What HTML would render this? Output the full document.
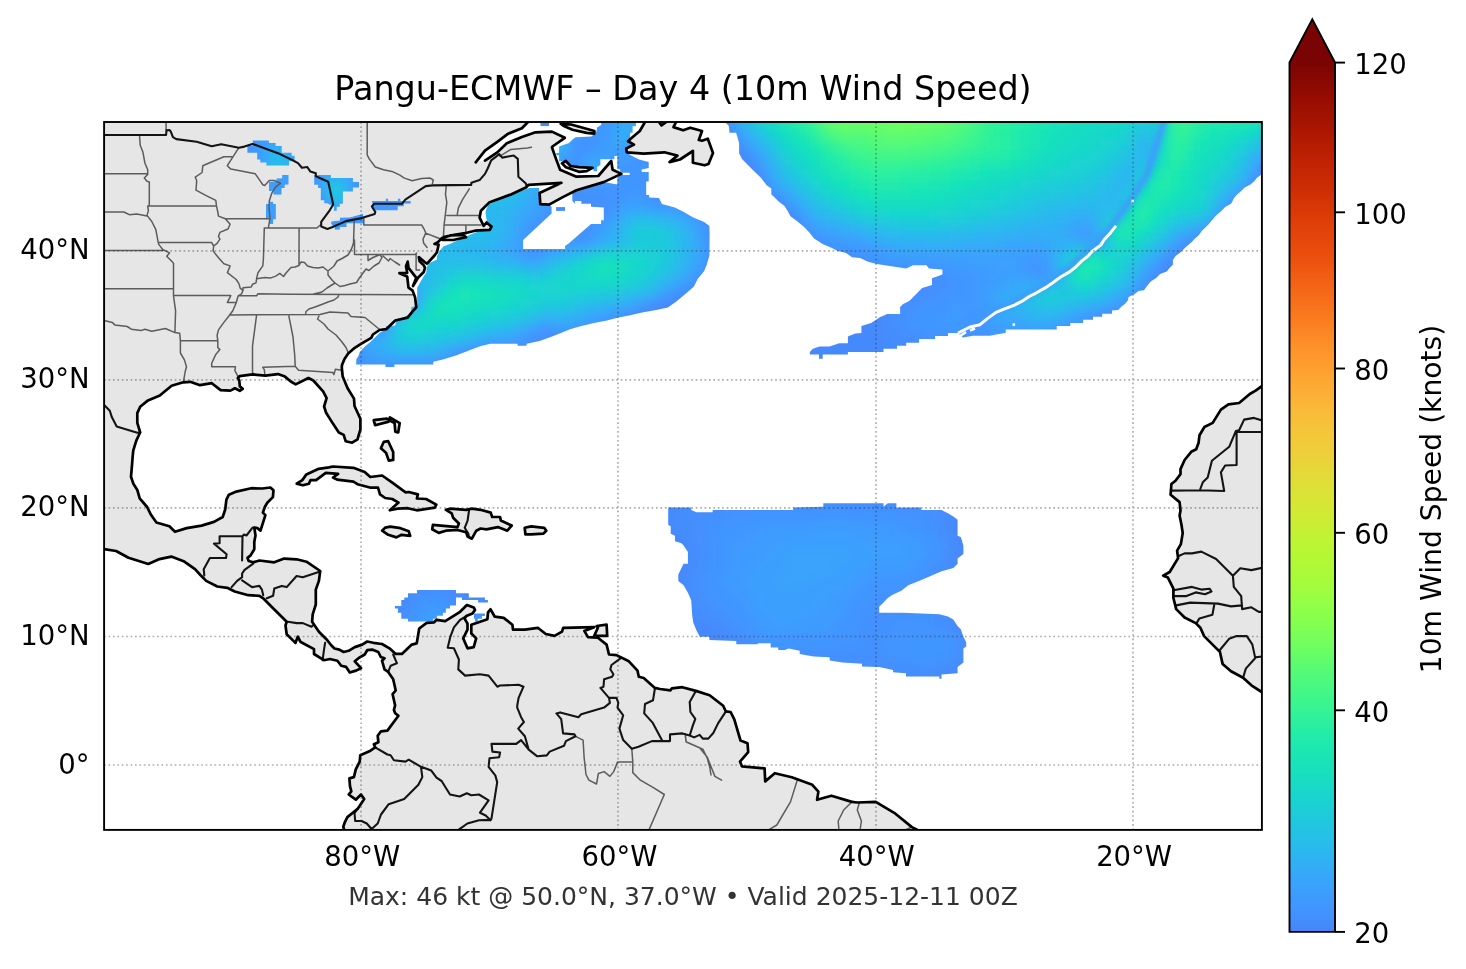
<!DOCTYPE html>
<html><head><meta charset="utf-8"><title>Pangu-ECMWF Day 4 10m Wind Speed</title>
<style>
html,body{margin:0;padding:0;background:#fff;}
svg{display:block;}
text{font-family:"DejaVu Sans","Liberation Sans",sans-serif;}
svg{will-change:transform;}
</style></head><body>
<svg width="1466" height="969" viewBox="0 0 1466 969">
<defs><linearGradient id="cbg" x1="0" y1="1" x2="0" y2="0"><stop offset="0.0000" stop-color="#4685fa"/><stop offset="0.0250" stop-color="#4294ff"/><stop offset="0.0500" stop-color="#3ba0fd"/><stop offset="0.0750" stop-color="#33adf7"/><stop offset="0.1000" stop-color="#28bceb"/><stop offset="0.1250" stop-color="#20c7df"/><stop offset="0.1500" stop-color="#1ad2d2"/><stop offset="0.1750" stop-color="#18ddc2"/><stop offset="0.2000" stop-color="#1ae4b6"/><stop offset="0.2250" stop-color="#22ebaa"/><stop offset="0.2500" stop-color="#32f298"/><stop offset="0.2750" stop-color="#43f787"/><stop offset="0.3000" stop-color="#55fa76"/><stop offset="0.3250" stop-color="#6dfe62"/><stop offset="0.3500" stop-color="#80ff53"/><stop offset="0.3750" stop-color="#92ff47"/><stop offset="0.4000" stop-color="#a4fc3c"/><stop offset="0.4250" stop-color="#b1f936"/><stop offset="0.4500" stop-color="#bef434"/><stop offset="0.4750" stop-color="#cdec34"/><stop offset="0.5000" stop-color="#d9e436"/><stop offset="0.5250" stop-color="#e3db38"/><stop offset="0.5500" stop-color="#eecf3a"/><stop offset="0.5750" stop-color="#f5c53a"/><stop offset="0.6000" stop-color="#faba39"/><stop offset="0.6250" stop-color="#fdac34"/><stop offset="0.6500" stop-color="#fe9e2f"/><stop offset="0.6750" stop-color="#fe9029"/><stop offset="0.7000" stop-color="#fb7e21"/><stop offset="0.7250" stop-color="#f76f1a"/><stop offset="0.7500" stop-color="#f26014"/><stop offset="0.7750" stop-color="#eb500e"/><stop offset="0.8000" stop-color="#e4450a"/><stop offset="0.8250" stop-color="#dc3b07"/><stop offset="0.8500" stop-color="#d02f05"/><stop offset="0.8750" stop-color="#c52603"/><stop offset="0.9000" stop-color="#b91e02"/><stop offset="0.9250" stop-color="#a91601"/><stop offset="0.9500" stop-color="#9b0f01"/><stop offset="0.9750" stop-color="#8b0902"/><stop offset="1.0000" stop-color="#7a0403"/></linearGradient><filter id="b8" x="-50%" y="-50%" width="200%" height="200%"><feGaussianBlur stdDeviation="8"/></filter><filter id="b15" x="-50%" y="-50%" width="200%" height="200%"><feGaussianBlur stdDeviation="15"/></filter><filter id="b25" x="-50%" y="-50%" width="200%" height="200%"><feGaussianBlur stdDeviation="25"/></filter><filter id="b40" x="-50%" y="-50%" width="200%" height="200%"><feGaussianBlur stdDeviation="40"/></filter><filter id="b3" x="-20%" y="-20%" width="140%" height="140%"><feGaussianBlur stdDeviation="2.5"/></filter><clipPath id="wN"><path d="M726.0 122.9 L1261.0 122.9 L1261.0 174.8 L1256.7 178.1 L1254.1 181.5 L1250.0 184.8 L1244.7 187.5 L1240.6 191.5 L1236.6 194.9 L1233.9 198.2 L1231.3 203.6 L1225.2 207.0 L1220.5 211.7 L1215.8 215.7 L1211.8 220.4 L1208.4 224.4 L1205.1 227.8 L1201.7 231.1 L1199.0 235.1 L1195.0 238.5 L1191.7 241.9 L1185.6 247.2 L1180.3 252.6 L1175.6 256.0 L1172.9 260.0 L1172.9 264.7 L1169.5 268.0 L1166.8 271.4 L1160.1 274.1 L1156.1 278.1 L1150.7 281.4 L1147.0 286.0 L1143.9 290.3 L1138.4 291.0 L1134.7 294.0 L1128.6 297.1 L1128.0 300.2 L1124.9 303.9 L1121.8 306.3 L1118.1 310.0 L1112.0 310.6 L1112.0 313.7 L1102.2 313.7 L1102.2 316.7 L1093.0 316.7 L1093.0 319.8 L1083.1 319.8 L1083.1 322.9 L1070.3 322.9 L1070.3 326.0 L1056.7 326.0 L1056.7 329.6 L1005.8 329.6 L1005.8 332.7 L989.8 335.8 L973.0 335.8 L963.0 337.5 L957.8 332.9 L948.0 332.9 L948.0 336.0 L935.1 336.0 L935.1 339.0 L919.1 339.0 L919.1 342.7 L906.2 342.7 L906.2 345.8 L897.0 345.8 L897.0 348.8 L883.5 348.8 L883.5 351.9 L847.9 351.9 L847.9 354.4 L822.7 354.4 L822.7 358.7 L819.0 358.7 L819.0 354.4 L809.8 354.4 L809.8 351.9 L812.9 348.8 L819.6 346.4 L829.5 346.4 L839.3 343.3 L847.9 343.3 L847.9 336.6 L855.3 333.5 L861.4 332.9 L861.4 326.1 L871.2 323.1 L879.8 317.3 L887.2 313.9 L900.1 313.9 L900.1 307.1 L903.1 304.0 L909.3 301.0 L913.0 297.3 L919.1 291.1 L922.2 288.1 L932.0 285.0 L932.0 278.2 L942.4 274.6 L942.4 269.6 L928.9 268.4 L926.5 265.3 L913.0 265.3 L906.2 268.4 L876.7 264.1 L868.1 261.7 L860.0 258.0 L852.0 257.3 L846.1 252.9 L837.3 250.7 L831.4 247.8 L822.6 244.1 L813.8 238.2 L809.4 232.4 L803.6 226.5 L796.2 220.6 L790.4 216.2 L787.4 210.4 L784.5 206.0 L778.7 201.6 L771.3 194.2 L771.3 188.4 L766.9 185.4 L761.1 178.1 L755.2 172.3 L748.6 165.7 L742.0 159.1 L739.1 153.2 L739.1 142.9 L736.1 132.7 L729.5 132.7 L728.8 126.1 L725.9 123.1Z" clip-rule="evenodd"/></clipPath><filter id="fwN" x="-5%" y="-5%" width="110%" height="110%"><feGaussianBlur stdDeviation="5"/></filter><clipPath id="wE"><path d="M601.2 122.9 L635.9 122.9 L635.9 126.2 L632.6 126.2 L632.6 132.8 L630.1 132.8 L630.1 139.8 L627.6 141.5 L632.6 144.0 L626.0 148.9 L626.8 153.0 L630.1 154.7 L632.6 156.3 L639.2 159.6 L648.7 162.1 L648.7 167.9 L641.7 169.5 L641.7 172.0 L648.7 172.0 L648.7 181.5 L646.2 181.5 L646.2 195.1 L649.1 195.1 L649.1 197.6 L659.0 198.0 L661.9 204.0 L674.8 207.4 L683.7 212.1 L693.3 217.6 L704.2 222.0 L709.4 226.0 L709.6 234.0 L709.4 255.6 L706.8 264.6 L704.2 271.1 L697.7 278.9 L693.8 286.7 L684.7 294.4 L677.0 300.9 L667.9 307.4 L656.2 310.0 L642.0 312.6 L630.3 315.2 L617.3 317.8 L607.0 320.4 L594.0 322.9 L578.5 326.8 L569.4 329.4 L560.3 333.3 L550.0 337.2 L539.6 341.1 L526.6 343.7 L526.6 345.8 L517.6 345.8 L517.6 343.7 L490.3 343.7 L480.0 346.3 L469.6 350.2 L456.6 355.3 L443.7 359.2 L433.3 361.8 L433.3 364.4 L394.4 364.4 L394.4 367.0 L385.4 367.0 L385.4 364.4 L356.1 364.4 L356.4 359.3 L358.9 355.2 L359.7 351.9 L363.0 348.6 L366.3 345.3 L369.6 342.8 L372.9 339.5 L376.2 336.2 L379.5 332.9 L385.3 329.6 L386.2 326.3 L395.2 325.5 L396.1 321.3 L408.4 314.7 L411.3 312.2 L411.3 307.3 L417.1 305.6 L417.2 287.7 L423.8 276.1 L426.2 272.8 L427.1 266.2 L429.5 262.9 L437.0 259.6 L437.0 256.3 L439.5 251.3 L443.3 246.5 L450.4 243.8 L465.5 236.8 L476.1 232.3 L487.6 229.7 L491.0 227.0 L487.0 222.0 L485.5 213.0 L486.0 210.0 L488.5 204.5 L497.5 200.5 L513.7 193.5 L529.3 188.0 L539.0 188.0 L539.6 193.0 L540.3 204.2 L549.1 204.6 L551.6 206.8 L551.6 213.5 L523.1 240.1 L523.1 249.1 L565.1 249.1 L565.1 246.1 L569.3 243.1 L591.0 224.0 L601.1 224.0 L601.1 220.3 L603.8 220.3 L603.8 207.5 L591.0 206.8 L591.0 203.8 L581.3 203.8 L581.3 201.1 L574.9 201.1 L574.9 203.8 L572.3 200.8 L572.3 192.4 L576.4 190.3 L594.6 186.0 L603.7 182.1 L617.3 184.4 L617.3 177.8 L620.2 174.9 L629.7 174.9 L629.7 172.8 L620.2 172.8 L620.2 169.5 L617.3 169.1 L617.3 155.9 L614.4 155.9 L614.4 159.2 L600.4 159.2 L600.4 165.0 L597.1 167.1 L597.1 171.2 L593.8 171.2 L592.9 167.9 L587.2 167.1 L574.8 166.2 L569.0 165.4 L563.2 161.3 L559.1 161.3 L559.1 155.5 L556.2 154.7 L556.2 153.0 L559.1 153.0 L559.1 146.4 L569.0 143.1 L572.3 139.8 L575.6 137.3 L591.3 136.5 L596.2 132.4 L597.1 127.4 L601.2 125.0Z" clip-rule="evenodd"/></clipPath><filter id="fwE" x="-5%" y="-5%" width="110%" height="110%"><feGaussianBlur stdDeviation="5"/></filter><clipPath id="wC"><path d="M668.2 507.5 L691.2 507.5 L691.2 510.0 L696.5 512.2 L712.6 512.2 L712.6 510.0 L793.2 510.0 L793.2 507.5 L823.3 506.8 L823.3 503.2 L883.5 503.2 L883.5 506.8 L887.8 503.2 L896.4 503.2 L896.4 507.5 L921.1 507.5 L921.1 510.0 L941.5 510.0 L947.9 513.3 L953.3 516.5 L957.6 519.7 L957.6 535.8 L960.8 536.9 L963.4 545.5 L963.4 554.1 L957.6 558.4 L957.6 563.8 L953.3 568.1 L941.5 571.3 L931.8 575.6 L918.9 580.9 L908.2 585.2 L901.7 590.6 L892.1 594.9 L887.8 598.1 L883.5 602.4 L879.2 606.7 L879.2 612.7 L902.8 612.7 L939.3 614.3 L947.9 616.4 L953.3 619.6 L957.6 626.1 L960.8 629.3 L963.4 636.8 L966.2 642.2 L966.2 646.5 L963.4 648.6 L963.4 662.6 L957.6 666.9 L957.6 673.3 L941.5 674.4 L941.5 678.7 L939.3 678.7 L939.3 676.6 L906.0 676.6 L906.0 673.3 L893.1 672.3 L893.1 670.1 L879.2 666.9 L862.0 666.5 L862.0 663.7 L842.6 662.6 L829.7 660.5 L829.7 657.2 L813.6 656.6 L799.7 654.0 L799.7 650.8 L788.9 648.6 L784.6 650.1 L778.2 650.1 L778.2 647.6 L770.7 647.6 L770.7 643.3 L757.8 643.3 L757.8 644.3 L736.3 644.3 L736.3 641.1 L709.4 640.0 L709.4 636.8 L699.8 636.8 L696.5 630.4 L693.3 622.8 L692.2 615.3 L691.2 600.3 L687.9 592.8 L683.6 585.2 L678.3 580.9 L678.3 574.5 L681.5 568.1 L683.6 563.8 L687.9 563.8 L687.9 551.9 L683.6 545.5 L681.5 543.3 L675.0 541.2 L675.0 535.8 L670.7 533.7 L670.7 526.2 L668.2 525.1Z" clip-rule="evenodd"/></clipPath><filter id="fwC" x="-5%" y="-5%" width="110%" height="110%"><feGaussianBlur stdDeviation="6"/></filter><clipPath id="wCa"><path d="M417.0 589.9 L456.0 589.9 L456.0 593.3 L468.8 593.3 L468.8 597.4 L484.9 597.4 L484.9 600.0 L487.9 600.0 L487.9 602.6 L478.1 602.6 L478.1 600.0 L462.0 600.0 L462.0 597.4 L456.0 597.4 L456.0 605.6 L450.0 605.6 L450.0 608.6 L445.9 608.6 L445.9 612.8 L442.9 612.8 L442.9 615.8 L436.9 615.8 L436.9 618.8 L433.1 618.8 L433.1 621.4 L408.0 621.4 L408.0 618.8 L401.3 618.8 L401.3 612.8 L397.9 612.8 L397.9 608.6 L394.9 608.6 L394.9 606.0 L401.3 606.0 L401.3 600.0 L404.3 600.0 L404.3 597.4 L408.0 597.4 L408.0 593.3 L417.0 593.3ZM474.0 613.5 L484.9 613.5 L484.9 616.1 L481.9 616.1 L481.9 618.8 L477.8 618.8 L477.8 621.4 L475.1 621.4 L475.1 618.8 L474.0 618.8Z" clip-rule="evenodd"/></clipPath><filter id="fwCa" x="-5%" y="-5%" width="110%" height="110%"><feGaussianBlur stdDeviation="3"/></filter><clipPath id="wSu"><path d="M252.9 140.4 L268.9 140.4 L268.9 142.9 L275.6 142.9 L275.6 146.0 L281.7 146.0 L281.7 152.7 L291.6 152.7 L291.6 155.8 L294.6 155.8 L294.6 161.3 L289.1 161.3 L289.1 165.6 L266.4 165.6 L266.4 162.5 L260.3 162.5 L260.3 159.5 L257.2 159.5 L257.2 152.7 L247.4 152.7 L247.4 146.0 L252.9 146.0Z" clip-rule="evenodd"/></clipPath><filter id="fwSu" x="-5%" y="-5%" width="110%" height="110%"><feGaussianBlur stdDeviation="2.5"/></filter><clipPath id="wHu"><path d="M314.2 175.1 L330.9 175.1 L330.9 177.9 L352.9 177.9 L352.9 182.0 L359.0 182.0 L359.0 187.5 L352.9 187.5 L352.9 191.5 L342.9 191.5 L342.9 203.7 L339.8 203.7 L339.8 206.8 L336.7 206.8 L336.7 210.7 L334.0 210.7 L334.0 206.8 L327.4 203.3 L324.3 203.3 L324.3 200.2 L320.8 200.2 L320.8 187.9 L318.1 187.9 L318.1 184.8 L314.2 184.8Z" clip-rule="evenodd"/></clipPath><filter id="fwHu" x="-5%" y="-5%" width="110%" height="110%"><feGaussianBlur stdDeviation="2.5"/></filter><clipPath id="wEs"><path d="M540.3 122.9 L549.1 122.9 L549.1 126.2 L540.3 126.2Z" clip-rule="evenodd"/></clipPath><clipPath id="wDa"><path d="M556.1 207.1 L565.1 207.1 L565.1 210.9 L556.1 210.9Z" clip-rule="evenodd"/></clipPath><clipPath id="wm0"><path d="M282.1 175.1 L288.7 175.1 L288.7 184.8 L284.8 184.8 L284.8 187.9 L281.7 187.9 L281.7 194.8 L273.2 194.8 L273.2 191.0 L269.0 191.0 L269.0 181.7 L276.3 181.7 L276.3 178.2 L282.1 178.2Z" clip-rule="evenodd"/></clipPath><clipPath id="wm1"><path d="M265.9 204.1 L269.7 204.1 L269.7 201.4 L273.2 201.4 L273.2 204.1 L275.9 204.1 L275.9 219.6 L273.2 219.6 L273.2 223.9 L269.7 223.9 L269.7 219.6 L265.9 219.6Z" clip-rule="evenodd"/></clipPath><clipPath id="wo0"><path d="M339.9 217.4 L350.0 217.3 L361.7 214.0 L363.1 214.0 L363.1 223.6 L346.7 223.6 L346.7 227.0 L339.9 227.0 L339.9 229.7 L334.5 229.7 L334.5 227.0 L331.1 224.2 L331.1 221.5 L339.9 220.2Z" clip-rule="evenodd"/></clipPath><clipPath id="wo1"><path d="M371.9 201.1 L385.6 201.1 L385.6 198.4 L388.3 198.4 L388.3 201.1 L397.8 201.1 L397.8 198.4 L400.5 198.4 L400.5 201.1 L410.8 201.1 L410.8 203.8 L403.9 203.8 L403.9 206.5 L397.8 206.5 L397.8 210.6 L372.6 210.6 L372.6 205.2Z" clip-rule="evenodd"/></clipPath>
<clipPath id="mapclip"><rect x="104.1" y="122.0" width="1157.80" height="707.90"/></clipPath>
</defs>
<rect width="1466" height="969" fill="#fff"/>
<g clip-path="url(#mapclip)">
<path d="M528.0 122.0 L521.9 128.2 L508.2 133.7 L497.3 141.9 L485.0 150.7 L475.7 162.3 L485.0 160.6 L497.3 152.4 L506.8 143.2 L521.9 137.1 L535.5 132.3 L551.9 131.6 L564.8 137.8 L553.2 146.0 L551.9 147.3 L556.0 158.9 L560.1 169.8 L576.4 176.7 L598.3 176.0 L611.2 161.0 L612.6 169.8 L621.4 173.9 L603.7 182.1 L576.4 190.3 L562.8 197.1 L549.1 204.6 L540.3 204.2 L539.6 193.0 L561.4 182.8 L528.7 184.8 L525.9 187.6 L510.9 194.4 L489.1 202.6 L480.9 210.8 L479.6 217.6 L483.7 225.8 L486.5 222.5 L491.5 226.6 L489.8 229.9 L475.0 230.7 L466.7 232.8 L454.3 234.8 L444.4 236.9 L441.5 238.5 L439.5 240.6 L437.8 242.3 L434.5 243.9 L438.6 244.7 L437.0 252.2 L434.5 255.5 L427.1 263.7 L424.6 262.1 L418.8 257.1 L419.6 261.2 L423.8 265.4 L425.0 267.8 L423.8 272.0 L418.0 277.8 L413.0 286.0 L416.3 277.8 L408.5 267.8 L407.7 261.7 L406.0 266.2 L407.2 272.8 L399.4 273.2 L407.2 276.5 L408.5 287.7 L412.6 290.6 L415.1 297.4 L416.3 307.3 L412.6 311.4 L407.6 317.6 L395.2 320.5 L386.2 329.2 L379.5 330.0 L372.9 334.5 L371.3 337.8 L361.4 343.6 L354.8 347.8 L348.2 353.5 L344.5 359.0 L342.0 365.0 L341.8 367.7 L342.7 376.6 L347.6 388.3 L354.0 398.6 L354.5 406.0 L360.4 418.7 L360.4 429.5 L357.5 439.3 L352.1 442.7 L345.7 441.3 L343.7 434.9 L338.8 432.5 L332.9 423.6 L326.1 412.8 L324.1 406.5 L326.6 398.1 L323.1 391.3 L313.3 380.5 L308.4 378.0 L295.7 384.4 L290.8 381.5 L284.9 376.6 L278.0 374.1 L265.3 375.6 L252.5 374.4 L239.8 376.1 L237.8 378.0 L239.3 380.5 L239.8 386.4 L242.7 388.8 L239.8 390.8 L234.9 388.3 L230.4 390.6 L220.6 390.1 L211.8 383.2 L200.0 385.2 L190.2 381.8 L183.3 382.3 L171.6 385.7 L159.8 395.5 L148.0 400.4 L140.2 406.8 L137.3 413.1 L137.3 422.9 L140.2 432.3 L136.3 440.6 L133.3 450.4 L132.8 455.0 L131.6 469.9 L131.0 476.7 L133.5 484.1 L137.2 489.7 L139.7 498.4 L147.1 507.0 L150.8 514.5 L156.4 522.5 L169.4 526.3 L175.0 531.8 L186.7 528.1 L201.6 525.6 L214.0 521.9 L222.7 517.0 L225.2 509.5 L226.4 499.6 L228.9 494.7 L236.3 491.6 L251.2 488.2 L262.3 488.5 L270.4 487.5 L273.5 490.3 L272.9 497.1 L267.3 502.7 L264.8 507.0 L262.9 512.6 L265.4 515.1 L260.5 530.6 L257.4 528.1 L254.3 527.5 L255.5 535.5 L254.3 541.7 L254.3 549.2 L250.6 555.4 L247.5 557.9 L248.7 561.0 L253.2 562.3 L259.4 560.5 L274.3 562.3 L284.2 558.6 L296.6 559.3 L306.5 561.7 L320.2 571.0 L318.9 580.9 L315.8 589.6 L315.8 604.5 L312.7 614.4 L312.1 621.8 L318.9 631.7 L326.4 639.2 L331.0 645.0 L334.5 648.5 L339.3 649.6 L343.6 652.0 L348.6 650.8 L354.8 647.1 L362.2 644.6 L367.2 641.5 L373.4 642.8 L382.0 644.0 L389.5 648.3 L395.7 653.9 L401.9 653.9 L411.8 644.6 L416.7 643.4 L419.2 628.5 L426.7 622.9 L434.1 622.3 L436.6 619.8 L445.2 621.1 L460.1 611.8 L466.9 605.0 L473.7 607.4 L475.0 609.9 L472.5 613.6 L466.3 616.1 L464.5 618.6 L467.5 623.5 L467.5 629.7 L463.2 638.4 L467.5 648.3 L473.7 647.1 L476.2 638.4 L471.3 633.5 L471.3 624.8 L487.4 619.2 L488.0 612.4 L490.5 609.3 L494.8 616.7 L503.7 617.9 L512.4 624.7 L513.0 629.7 L524.8 629.7 L537.8 627.8 L545.8 634.0 L554.5 635.9 L562.0 631.6 L563.2 627.8 L594.2 627.2 L584.3 630.9 L588.0 637.1 L597.9 637.7 L606.6 644.6 L609.0 654.5 L616.5 655.1 L628.9 661.3 L637.5 670.6 L638.8 676.8 L643.7 678.0 L654.9 687.9 L660.0 689.0 L670.5 690.3 L671.8 688.4 L682.3 687.2 L695.9 690.9 L709.6 695.2 L723.2 705.8 L725.7 711.3 L730.6 712.0 L734.3 719.4 L740.5 740.5 L747.5 743.2 L748.2 752.1 L740.0 761.6 L742.0 766.4 L764.6 768.4 L765.2 781.4 L774.8 773.2 L791.8 777.3 L812.3 784.8 L818.4 791.6 L817.1 799.8 L831.4 795.7 L851.9 801.9 L857.3 802.5 L875.7 801.9 L894.2 812.8 L911.9 827.1 L917.4 829.9 L917.4 835.0 L344.2 835.0 L344.2 829.9 L343.3 826.8 L344.8 822.3 L347.4 817.1 L357.7 808.7 L364.2 799.0 L361.0 794.5 L355.8 799.7 L348.7 794.5 L351.3 791.3 L350.0 786.1 L349.4 778.4 L353.9 777.1 L355.8 769.4 L359.7 761.6 L360.3 755.2 L369.4 751.3 L375.2 747.4 L373.9 744.2 L378.4 742.3 L377.7 735.8 L381.0 731.3 L387.4 730.6 L398.4 715.8 L395.2 713.2 L393.9 710.0 L395.1 705.3 L392.6 694.2 L395.7 690.5 L393.2 679.3 L388.2 671.9 L384.5 669.4 L382.0 660.7 L384.5 658.2 L380.8 657.0 L378.3 652.0 L372.1 649.6 L367.2 650.2 L364.7 654.5 L358.5 658.2 L354.8 661.3 L361.0 668.2 L356.0 670.6 L349.8 672.5 L346.1 666.9 L341.2 665.7 L337.4 660.7 L330.0 659.0 L323.9 660.2 L314.0 654.0 L314.0 649.1 L300.3 641.7 L297.8 636.7 L295.4 642.9 L286.7 634.2 L285.5 625.5 L286.7 621.8 L271.8 607.0 L263.2 598.3 L259.4 595.8 L248.3 595.2 L234.7 591.5 L227.2 587.8 L217.3 586.5 L206.2 580.9 L200.4 575.0 L195.0 569.2 L184.3 561.6 L171.3 556.6 L159.5 559.1 L148.3 564.0 L128.5 557.8 L116.1 551.0 L104.1 549.2 L98.0 549.2 L98.0 116.0 L528.0 116.0Z" fill="#e6e6e6"/>
<path d="M645.0 122.0 L639.8 131.0 L630.7 138.7 L628.1 141.3 L634.0 144.6 L626.2 148.5 L626.8 152.3 L643.7 153.6 L664.4 152.3 L677.4 155.6 L669.6 162.1 L680.0 159.5 L692.9 151.0 L692.9 162.7 L704.6 165.3 L708.5 164.0 L713.0 153.0 L707.8 138.7 L702.0 140.7 L698.8 140.0 L702.0 131.0 L690.3 127.7 L683.2 130.3 L673.5 127.1 L676.1 122.0 L667.0 122.0 L661.5 125.3 L658.5 122.0 L645.0 116.0Z" fill="#e6e6e6"/>
<path d="M560.7 123.8 L571.1 124.5 L594.4 131.0 L594.4 133.6 L586.7 132.9 L572.4 129.7 L563.3 125.8Z" fill="#e6e6e6"/>
<path d="M562.0 163.4 L565.9 160.8 L570.5 166.0 L578.9 167.2 L592.5 167.9 L586.7 171.1 L578.9 171.8 L565.9 167.2Z" fill="#e6e6e6"/>
<path d="M441.5 238.6 L450.2 235.4 L463.4 235.0 L466.0 237.3 L454.3 239.8 L442.8 240.0Z" fill="#e6e6e6"/>
<path d="M296.7 483.7 L302.3 480.1 L306.4 474.4 L318.7 468.8 L328.9 467.3 L333.0 466.5 L353.4 467.8 L364.7 471.9 L370.3 477.0 L382.1 475.5 L392.3 482.6 L405.6 492.3 L408.7 492.0 L417.9 494.4 L416.9 498.5 L426.1 499.0 L436.3 504.6 L434.8 507.7 L416.9 510.3 L407.7 508.2 L397.4 508.7 L389.8 510.3 L398.5 502.6 L392.3 499.0 L385.2 498.0 L380.0 494.4 L378.0 487.7 L370.8 487.7 L357.5 484.2 L353.4 481.6 L337.1 479.6 L333.0 477.5 L338.1 473.9 L325.8 472.9 L316.1 480.1 L310.5 480.1 L308.9 483.7 L302.8 485.2Z" fill="#e6e6e6"/>
<path d="M382.1 530.7 L385.2 527.6 L390.3 526.6 L400.5 528.2 L408.7 531.2 L410.2 535.8 L401.5 534.8 L396.4 537.4 L388.2 534.8Z" fill="#e6e6e6"/>
<path d="M445.9 509.8 L450.2 508.7 L466.1 509.8 L471.9 508.7 L480.6 509.8 L490.7 512.6 L492.2 517.0 L500.1 517.0 L500.8 520.6 L511.7 525.6 L507.3 530.7 L497.9 527.1 L486.4 529.3 L480.6 528.5 L476.3 530.7 L471.9 538.7 L467.6 536.5 L466.1 532.2 L457.5 530.0 L445.9 530.7 L438.7 532.9 L432.2 529.3 L432.9 524.9 L457.5 527.1 L458.9 523.5 L453.1 517.7 L451.7 513.4Z" fill="#e6e6e6"/>
<path d="M524.7 527.8 L531.2 526.4 L544.2 527.8 L546.3 530.7 L543.4 533.6 L531.2 534.3 L525.4 534.3Z" fill="#e6e6e6"/>
<path d="M373.7 420.2 L386.7 418.7 L388.8 419.4 L388.8 421.6 L375.1 425.2Z" fill="#e6e6e6"/>
<path d="M389.9 417.3 L399.7 423.1 L398.2 432.5 L395.3 431.7 L394.6 423.1 L390.3 420.9Z" fill="#e6e6e6"/>
<path d="M380.9 448.3 L383.8 441.8 L388.1 441.1 L393.2 452.0 L393.2 459.9 L388.8 460.6 L386.0 452.7Z" fill="#e6e6e6"/>
<path d="M596.7 626.0 L606.6 624.7 L607.2 635.9 L594.2 635.9 L597.9 627.8Z" fill="#e6e6e6"/>
<path d="M1262.5 385.7 L1255.6 390.6 L1249.8 394.0 L1239.1 403.0 L1228.4 404.4 L1220.9 409.6 L1212.7 422.9 L1204.4 427.0 L1199.5 435.2 L1198.6 442.7 L1196.2 449.3 L1191.2 451.8 L1184.6 460.0 L1180.5 469.1 L1180.5 474.1 L1175.5 480.7 L1171.4 484.0 L1170.6 494.7 L1179.6 502.1 L1180.5 510.4 L1179.6 515.4 L1181.5 525.0 L1182.7 533.0 L1180.9 544.1 L1177.1 550.6 L1178.1 558.1 L1169.7 572.0 L1163.2 575.7 L1167.9 577.6 L1173.4 588.7 L1173.4 598.0 L1176.2 609.1 L1184.6 617.5 L1195.7 623.1 L1200.4 627.7 L1204.1 636.1 L1216.1 648.1 L1219.9 651.8 L1222.6 663.9 L1231.0 671.3 L1243.1 677.8 L1251.4 685.3 L1262.5 692.5 L1268.0 692.5 L1268.0 385.7Z" fill="#e6e6e6"/>
<g clip-path="url(#wN)"><g filter="url(#fwN)"><rect x="700" y="110" width="11" height="11" fill="#4687fb"/><rect x="710" y="110" width="11" height="11" fill="#448ffe"/><rect x="720" y="110" width="11" height="11" fill="#3e9bfe"/><rect x="730" y="110" width="11" height="11" fill="#33adf7"/><rect x="740" y="110" width="11" height="11" fill="#25c0e7"/><rect x="750" y="110" width="11" height="11" fill="#1bd0d5"/><rect x="760" y="110" width="11" height="11" fill="#18dbc5"/><rect x="770" y="110" width="11" height="11" fill="#19e3b9"/><rect x="780" y="110" width="11" height="11" fill="#20eaac"/><rect x="790" y="110" width="11" height="11" fill="#2aefa1"/><rect x="800" y="110" width="11" height="11" fill="#38f491"/><rect x="810" y="110" width="11" height="11" fill="#4af880"/><rect x="820" y="110" width="11" height="11" fill="#5dfc6f"/><rect x="830" y="110" width="101" height="11" fill="#6dfe62"/><rect x="930" y="110" width="11" height="11" fill="#69fd66"/><rect x="940" y="110" width="11" height="11" fill="#65fd69"/><rect x="950" y="110" width="11" height="11" fill="#5dfc6f"/><rect x="960" y="110" width="11" height="11" fill="#52fa7a"/><rect x="970" y="110" width="11" height="11" fill="#46f884"/><rect x="980" y="110" width="11" height="11" fill="#3cf58e"/><rect x="990" y="110" width="11" height="11" fill="#35f394"/><rect x="1000" y="110" width="11" height="11" fill="#2cf09e"/><rect x="1010" y="110" width="11" height="11" fill="#27eea4"/><rect x="1020" y="110" width="11" height="11" fill="#22ebaa"/><rect x="1030" y="110" width="11" height="11" fill="#1fe9af"/><rect x="1040" y="110" width="11" height="11" fill="#1de7b2"/><rect x="1050" y="110" width="11" height="11" fill="#1ae4b6"/><rect x="1060" y="110" width="11" height="11" fill="#19e3b9"/><rect x="1070" y="110" width="11" height="11" fill="#19e2bb"/><rect x="1080" y="110" width="11" height="11" fill="#18e0bd"/><rect x="1090" y="110" width="11" height="11" fill="#18dec0"/><rect x="1100" y="110" width="21" height="11" fill="#18ddc2"/><rect x="1120" y="110" width="11" height="11" fill="#18d9c8"/><rect x="1130" y="110" width="11" height="11" fill="#18d7ca"/><rect x="1140" y="110" width="11" height="11" fill="#1ad4d0"/><rect x="1150" y="110" width="11" height="11" fill="#18d9c8"/><rect x="1160" y="110" width="11" height="11" fill="#1ae4b6"/><rect x="1170" y="110" width="11" height="11" fill="#2aefa1"/><rect x="1180" y="110" width="11" height="11" fill="#35f394"/><rect x="1190" y="110" width="11" height="11" fill="#2ff19b"/><rect x="1200" y="110" width="11" height="11" fill="#2aefa1"/><rect x="1210" y="110" width="11" height="11" fill="#27eea4"/><rect x="1220" y="110" width="11" height="11" fill="#25eca7"/><rect x="1230" y="110" width="21" height="11" fill="#22ebaa"/><rect x="1250" y="110" width="11" height="11" fill="#1fe9af"/><rect x="1260" y="110" width="11" height="11" fill="#1ae4b6"/><rect x="1270" y="110" width="11" height="11" fill="#18e0bd"/><rect x="700" y="120" width="21" height="11" fill="#4687fb"/><rect x="720" y="120" width="11" height="11" fill="#448ffe"/><rect x="730" y="120" width="11" height="11" fill="#3ba0fd"/><rect x="740" y="120" width="11" height="11" fill="#2eb4f2"/><rect x="750" y="120" width="11" height="11" fill="#20c7df"/><rect x="760" y="120" width="11" height="11" fill="#1ad4d0"/><rect x="770" y="120" width="11" height="11" fill="#18ddc2"/><rect x="780" y="120" width="11" height="11" fill="#1ae4b6"/><rect x="790" y="120" width="11" height="11" fill="#20eaac"/><rect x="800" y="120" width="11" height="11" fill="#2aefa1"/><rect x="810" y="120" width="11" height="11" fill="#38f491"/><rect x="820" y="120" width="11" height="11" fill="#52fa7a"/><rect x="830" y="120" width="11" height="11" fill="#61fc6c"/><rect x="840" y="120" width="31" height="11" fill="#65fd69"/><rect x="870" y="120" width="21" height="11" fill="#69fd66"/><rect x="890" y="120" width="21" height="11" fill="#6dfe62"/><rect x="910" y="120" width="11" height="11" fill="#69fd66"/><rect x="920" y="120" width="11" height="11" fill="#65fd69"/><rect x="930" y="120" width="11" height="11" fill="#61fc6c"/><rect x="940" y="120" width="11" height="11" fill="#5dfc6f"/><rect x="950" y="120" width="11" height="11" fill="#55fa76"/><rect x="960" y="120" width="11" height="11" fill="#4ef97d"/><rect x="970" y="120" width="11" height="11" fill="#43f787"/><rect x="980" y="120" width="11" height="11" fill="#35f394"/><rect x="990" y="120" width="11" height="11" fill="#2ff19b"/><rect x="1000" y="120" width="11" height="11" fill="#2aefa1"/><rect x="1010" y="120" width="11" height="11" fill="#25eca7"/><rect x="1020" y="120" width="11" height="11" fill="#20eaac"/><rect x="1030" y="120" width="11" height="11" fill="#1de7b2"/><rect x="1040" y="120" width="11" height="11" fill="#1ae4b6"/><rect x="1050" y="120" width="11" height="11" fill="#19e3b9"/><rect x="1060" y="120" width="11" height="11" fill="#19e2bb"/><rect x="1070" y="120" width="11" height="11" fill="#18dec0"/><rect x="1080" y="120" width="11" height="11" fill="#18ddc2"/><rect x="1090" y="120" width="21" height="11" fill="#18dbc5"/><rect x="1110" y="120" width="11" height="11" fill="#18d9c8"/><rect x="1120" y="120" width="11" height="11" fill="#19d5cd"/><rect x="1130" y="120" width="11" height="11" fill="#1bd0d5"/><rect x="1140" y="120" width="11" height="11" fill="#20c7df"/><rect x="1150" y="120" width="11" height="11" fill="#1ecbda"/><rect x="1160" y="120" width="11" height="11" fill="#19e2bb"/><rect x="1170" y="120" width="11" height="11" fill="#2cf09e"/><rect x="1180" y="120" width="11" height="11" fill="#35f394"/><rect x="1190" y="120" width="11" height="11" fill="#2aefa1"/><rect x="1200" y="120" width="11" height="11" fill="#20eaac"/><rect x="1210" y="120" width="11" height="11" fill="#1fe9af"/><rect x="1220" y="120" width="11" height="11" fill="#1de7b2"/><rect x="1230" y="120" width="11" height="11" fill="#1ce6b4"/><rect x="1240" y="120" width="11" height="11" fill="#1ae4b6"/><rect x="1250" y="120" width="11" height="11" fill="#19e2bb"/><rect x="1260" y="120" width="11" height="11" fill="#18ddc2"/><rect x="1270" y="120" width="11" height="11" fill="#19d5cd"/><rect x="700" y="130" width="31" height="11" fill="#4687fb"/><rect x="730" y="130" width="11" height="11" fill="#4294ff"/><rect x="740" y="130" width="11" height="11" fill="#37a8fa"/><rect x="750" y="130" width="11" height="11" fill="#2ab9ee"/><rect x="760" y="130" width="11" height="11" fill="#1fc9dd"/><rect x="770" y="130" width="11" height="11" fill="#19d5cd"/><rect x="780" y="130" width="11" height="11" fill="#18ddc2"/><rect x="790" y="130" width="11" height="11" fill="#19e3b9"/><rect x="800" y="130" width="11" height="11" fill="#1fe9af"/><rect x="810" y="130" width="11" height="11" fill="#2aefa1"/><rect x="820" y="130" width="11" height="11" fill="#3cf58e"/><rect x="830" y="130" width="11" height="11" fill="#4ef97d"/><rect x="840" y="130" width="31" height="11" fill="#55fa76"/><rect x="870" y="130" width="11" height="11" fill="#59fb73"/><rect x="880" y="130" width="41" height="11" fill="#5dfc6f"/><rect x="920" y="130" width="11" height="11" fill="#59fb73"/><rect x="930" y="130" width="11" height="11" fill="#55fa76"/><rect x="940" y="130" width="11" height="11" fill="#52fa7a"/><rect x="950" y="130" width="11" height="11" fill="#4ef97d"/><rect x="960" y="130" width="11" height="11" fill="#43f787"/><rect x="970" y="130" width="11" height="11" fill="#3cf58e"/><rect x="980" y="130" width="11" height="11" fill="#32f298"/><rect x="990" y="130" width="11" height="11" fill="#2cf09e"/><rect x="1000" y="130" width="11" height="11" fill="#27eea4"/><rect x="1010" y="130" width="11" height="11" fill="#22ebaa"/><rect x="1020" y="130" width="11" height="11" fill="#1fe9af"/><rect x="1030" y="130" width="11" height="11" fill="#1ce6b4"/><rect x="1040" y="130" width="11" height="11" fill="#19e3b9"/><rect x="1050" y="130" width="11" height="11" fill="#18e0bd"/><rect x="1060" y="130" width="11" height="11" fill="#18dec0"/><rect x="1070" y="130" width="11" height="11" fill="#18ddc2"/><rect x="1080" y="130" width="21" height="11" fill="#18d9c8"/><rect x="1100" y="130" width="11" height="11" fill="#18d7ca"/><rect x="1110" y="130" width="11" height="11" fill="#19d5cd"/><rect x="1120" y="130" width="11" height="11" fill="#1ad2d2"/><rect x="1130" y="130" width="11" height="11" fill="#20c7df"/><rect x="1140" y="130" width="11" height="11" fill="#27bee9"/><rect x="1150" y="130" width="11" height="11" fill="#22c5e2"/><rect x="1160" y="130" width="11" height="11" fill="#18e0bd"/><rect x="1170" y="130" width="11" height="11" fill="#2aefa1"/><rect x="1180" y="130" width="11" height="11" fill="#32f298"/><rect x="1190" y="130" width="11" height="11" fill="#22ebaa"/><rect x="1200" y="130" width="11" height="11" fill="#1ce6b4"/><rect x="1210" y="130" width="11" height="11" fill="#19e3b9"/><rect x="1220" y="130" width="11" height="11" fill="#19e2bb"/><rect x="1230" y="130" width="11" height="11" fill="#18dec0"/><rect x="1240" y="130" width="11" height="11" fill="#18dbc5"/><rect x="1250" y="130" width="11" height="11" fill="#19d5cd"/><rect x="1260" y="130" width="11" height="11" fill="#1ccdd8"/><rect x="1270" y="130" width="11" height="11" fill="#22c5e2"/><rect x="700" y="140" width="41" height="11" fill="#4687fb"/><rect x="740" y="140" width="11" height="11" fill="#4099ff"/><rect x="750" y="140" width="11" height="11" fill="#35abf8"/><rect x="760" y="140" width="11" height="11" fill="#28bceb"/><rect x="770" y="140" width="11" height="11" fill="#1fc9dd"/><rect x="780" y="140" width="11" height="11" fill="#19d5cd"/><rect x="790" y="140" width="11" height="11" fill="#18dec0"/><rect x="800" y="140" width="11" height="11" fill="#19e3b9"/><rect x="810" y="140" width="11" height="11" fill="#1fe9af"/><rect x="820" y="140" width="11" height="11" fill="#2aefa1"/><rect x="830" y="140" width="11" height="11" fill="#35f394"/><rect x="840" y="140" width="11" height="11" fill="#3ff68a"/><rect x="850" y="140" width="11" height="11" fill="#46f884"/><rect x="860" y="140" width="11" height="11" fill="#4af880"/><rect x="870" y="140" width="11" height="11" fill="#4ef97d"/><rect x="880" y="140" width="31" height="11" fill="#52fa7a"/><rect x="910" y="140" width="21" height="11" fill="#4ef97d"/><rect x="930" y="140" width="11" height="11" fill="#4af880"/><rect x="940" y="140" width="11" height="11" fill="#46f884"/><rect x="950" y="140" width="11" height="11" fill="#43f787"/><rect x="960" y="140" width="11" height="11" fill="#3cf58e"/><rect x="970" y="140" width="11" height="11" fill="#35f394"/><rect x="980" y="140" width="11" height="11" fill="#2ff19b"/><rect x="990" y="140" width="11" height="11" fill="#2cf09e"/><rect x="1000" y="140" width="11" height="11" fill="#27eea4"/><rect x="1010" y="140" width="11" height="11" fill="#20eaac"/><rect x="1020" y="140" width="11" height="11" fill="#1de7b2"/><rect x="1030" y="140" width="11" height="11" fill="#1ae4b6"/><rect x="1040" y="140" width="11" height="11" fill="#19e2bb"/><rect x="1050" y="140" width="11" height="11" fill="#18dec0"/><rect x="1060" y="140" width="11" height="11" fill="#18ddc2"/><rect x="1070" y="140" width="11" height="11" fill="#18dbc5"/><rect x="1080" y="140" width="11" height="11" fill="#18d9c8"/><rect x="1090" y="140" width="11" height="11" fill="#18d7ca"/><rect x="1100" y="140" width="11" height="11" fill="#1ad4d0"/><rect x="1110" y="140" width="11" height="11" fill="#1ad2d2"/><rect x="1120" y="140" width="11" height="11" fill="#1ecbda"/><rect x="1130" y="140" width="11" height="11" fill="#25c0e7"/><rect x="1140" y="140" width="11" height="11" fill="#2eb4f2"/><rect x="1150" y="140" width="11" height="11" fill="#23c3e4"/><rect x="1160" y="140" width="11" height="11" fill="#19e2bb"/><rect x="1170" y="140" width="11" height="11" fill="#2aefa1"/><rect x="1180" y="140" width="11" height="11" fill="#27eea4"/><rect x="1190" y="140" width="11" height="11" fill="#1de7b2"/><rect x="1200" y="140" width="11" height="11" fill="#19e3b9"/><rect x="1210" y="140" width="11" height="11" fill="#18e0bd"/><rect x="1220" y="140" width="11" height="11" fill="#18ddc2"/><rect x="1230" y="140" width="11" height="11" fill="#18d7ca"/><rect x="1240" y="140" width="11" height="11" fill="#1bd0d5"/><rect x="1250" y="140" width="11" height="11" fill="#22c5e2"/><rect x="1260" y="140" width="11" height="11" fill="#28bceb"/><rect x="1270" y="140" width="11" height="11" fill="#2fb2f4"/><rect x="700" y="150" width="41" height="11" fill="#4687fb"/><rect x="740" y="150" width="11" height="11" fill="#458cfd"/><rect x="750" y="150" width="11" height="11" fill="#3e9bfe"/><rect x="760" y="150" width="11" height="11" fill="#33adf7"/><rect x="770" y="150" width="11" height="11" fill="#25c0e7"/><rect x="780" y="150" width="11" height="11" fill="#1bd0d5"/><rect x="790" y="150" width="11" height="11" fill="#18d7ca"/><rect x="800" y="150" width="11" height="11" fill="#18ddc2"/><rect x="810" y="150" width="11" height="11" fill="#19e3b9"/><rect x="820" y="150" width="11" height="11" fill="#1fe9af"/><rect x="830" y="150" width="11" height="11" fill="#27eea4"/><rect x="840" y="150" width="11" height="11" fill="#2ff19b"/><rect x="850" y="150" width="11" height="11" fill="#38f491"/><rect x="860" y="150" width="11" height="11" fill="#3cf58e"/><rect x="870" y="150" width="11" height="11" fill="#3ff68a"/><rect x="880" y="150" width="31" height="11" fill="#43f787"/><rect x="910" y="150" width="21" height="11" fill="#3ff68a"/><rect x="930" y="150" width="11" height="11" fill="#3cf58e"/><rect x="940" y="150" width="11" height="11" fill="#38f491"/><rect x="950" y="150" width="11" height="11" fill="#35f394"/><rect x="960" y="150" width="11" height="11" fill="#2ff19b"/><rect x="970" y="150" width="11" height="11" fill="#2cf09e"/><rect x="980" y="150" width="21" height="11" fill="#27eea4"/><rect x="1000" y="150" width="11" height="11" fill="#22ebaa"/><rect x="1010" y="150" width="11" height="11" fill="#1fe9af"/><rect x="1020" y="150" width="11" height="11" fill="#1ae4b6"/><rect x="1030" y="150" width="11" height="11" fill="#19e2bb"/><rect x="1040" y="150" width="11" height="11" fill="#18dec0"/><rect x="1050" y="150" width="11" height="11" fill="#18ddc2"/><rect x="1060" y="150" width="11" height="11" fill="#18d9c8"/><rect x="1070" y="150" width="11" height="11" fill="#18d7ca"/><rect x="1080" y="150" width="11" height="11" fill="#19d5cd"/><rect x="1090" y="150" width="11" height="11" fill="#1ad4d0"/><rect x="1100" y="150" width="11" height="11" fill="#1bd0d5"/><rect x="1110" y="150" width="11" height="11" fill="#1ecbda"/><rect x="1120" y="150" width="11" height="11" fill="#22c5e2"/><rect x="1130" y="150" width="11" height="11" fill="#27bee9"/><rect x="1140" y="150" width="11" height="11" fill="#2eb4f2"/><rect x="1150" y="150" width="11" height="11" fill="#20c7df"/><rect x="1160" y="150" width="11" height="11" fill="#19e3b9"/><rect x="1170" y="150" width="11" height="11" fill="#2aefa1"/><rect x="1180" y="150" width="11" height="11" fill="#20eaac"/><rect x="1190" y="150" width="11" height="11" fill="#19e3b9"/><rect x="1200" y="150" width="11" height="11" fill="#18e0bd"/><rect x="1210" y="150" width="11" height="11" fill="#18ddc2"/><rect x="1220" y="150" width="11" height="11" fill="#18d7ca"/><rect x="1230" y="150" width="11" height="11" fill="#1bd0d5"/><rect x="1240" y="150" width="11" height="11" fill="#22c5e2"/><rect x="1250" y="150" width="11" height="11" fill="#2eb4f2"/><rect x="1260" y="150" width="11" height="11" fill="#37a8fa"/><rect x="1270" y="150" width="11" height="11" fill="#3d9efe"/><rect x="700" y="160" width="51" height="11" fill="#4687fb"/><rect x="750" y="160" width="11" height="11" fill="#448ffe"/><rect x="760" y="160" width="11" height="11" fill="#3aa3fc"/><rect x="770" y="160" width="11" height="11" fill="#2cb7f0"/><rect x="780" y="160" width="11" height="11" fill="#20c7df"/><rect x="790" y="160" width="11" height="11" fill="#1ad2d2"/><rect x="800" y="160" width="11" height="11" fill="#18d7ca"/><rect x="810" y="160" width="11" height="11" fill="#18dec0"/><rect x="820" y="160" width="11" height="11" fill="#1ae4b6"/><rect x="830" y="160" width="11" height="11" fill="#1fe9af"/><rect x="840" y="160" width="11" height="11" fill="#25eca7"/><rect x="850" y="160" width="11" height="11" fill="#2cf09e"/><rect x="860" y="160" width="11" height="11" fill="#32f298"/><rect x="870" y="160" width="31" height="11" fill="#35f394"/><rect x="900" y="160" width="21" height="11" fill="#32f298"/><rect x="920" y="160" width="11" height="11" fill="#2ff19b"/><rect x="930" y="160" width="11" height="11" fill="#2cf09e"/><rect x="940" y="160" width="11" height="11" fill="#2aefa1"/><rect x="950" y="160" width="11" height="11" fill="#27eea4"/><rect x="960" y="160" width="11" height="11" fill="#25eca7"/><rect x="970" y="160" width="11" height="11" fill="#20eaac"/><rect x="980" y="160" width="11" height="11" fill="#1fe9af"/><rect x="990" y="160" width="11" height="11" fill="#1de7b2"/><rect x="1000" y="160" width="11" height="11" fill="#1ce6b4"/><rect x="1010" y="160" width="11" height="11" fill="#19e3b9"/><rect x="1020" y="160" width="11" height="11" fill="#18e0bd"/><rect x="1030" y="160" width="11" height="11" fill="#18dec0"/><rect x="1040" y="160" width="11" height="11" fill="#18dbc5"/><rect x="1050" y="160" width="11" height="11" fill="#18d9c8"/><rect x="1060" y="160" width="11" height="11" fill="#19d5cd"/><rect x="1070" y="160" width="11" height="11" fill="#1ad4d0"/><rect x="1080" y="160" width="11" height="11" fill="#1ad2d2"/><rect x="1090" y="160" width="11" height="11" fill="#1bd0d5"/><rect x="1100" y="160" width="11" height="11" fill="#1ecbda"/><rect x="1110" y="160" width="11" height="11" fill="#22c5e2"/><rect x="1120" y="160" width="21" height="11" fill="#28bceb"/><rect x="1140" y="160" width="11" height="11" fill="#23c3e4"/><rect x="1150" y="160" width="11" height="11" fill="#19d5cd"/><rect x="1160" y="160" width="11" height="11" fill="#1ce6b4"/><rect x="1170" y="160" width="11" height="11" fill="#22ebaa"/><rect x="1180" y="160" width="11" height="11" fill="#1de7b2"/><rect x="1190" y="160" width="11" height="11" fill="#19e2bb"/><rect x="1200" y="160" width="11" height="11" fill="#18ddc2"/><rect x="1210" y="160" width="11" height="11" fill="#18d9c8"/><rect x="1220" y="160" width="11" height="11" fill="#1ad4d0"/><rect x="1230" y="160" width="11" height="11" fill="#1ecbda"/><rect x="1240" y="160" width="11" height="11" fill="#28bceb"/><rect x="1250" y="160" width="11" height="11" fill="#37a8fa"/><rect x="1260" y="160" width="11" height="11" fill="#4196ff"/><rect x="1270" y="160" width="11" height="11" fill="#458afc"/><rect x="700" y="170" width="61" height="11" fill="#4687fb"/><rect x="760" y="170" width="11" height="11" fill="#4099ff"/><rect x="770" y="170" width="11" height="11" fill="#31aff5"/><rect x="780" y="170" width="11" height="11" fill="#27bee9"/><rect x="790" y="170" width="11" height="11" fill="#1fc9dd"/><rect x="800" y="170" width="11" height="11" fill="#1ad4d0"/><rect x="810" y="170" width="11" height="11" fill="#18dbc5"/><rect x="820" y="170" width="11" height="11" fill="#18e0bd"/><rect x="830" y="170" width="11" height="11" fill="#1ae4b6"/><rect x="840" y="170" width="11" height="11" fill="#1fe9af"/><rect x="850" y="170" width="11" height="11" fill="#22ebaa"/><rect x="860" y="170" width="11" height="11" fill="#27eea4"/><rect x="870" y="170" width="31" height="11" fill="#2aefa1"/><rect x="900" y="170" width="11" height="11" fill="#27eea4"/><rect x="910" y="170" width="21" height="11" fill="#25eca7"/><rect x="930" y="170" width="11" height="11" fill="#22ebaa"/><rect x="940" y="170" width="11" height="11" fill="#20eaac"/><rect x="950" y="170" width="11" height="11" fill="#1fe9af"/><rect x="960" y="170" width="11" height="11" fill="#1ce6b4"/><rect x="970" y="170" width="11" height="11" fill="#1ae4b6"/><rect x="980" y="170" width="11" height="11" fill="#19e2bb"/><rect x="990" y="170" width="11" height="11" fill="#18e0bd"/><rect x="1000" y="170" width="11" height="11" fill="#18dec0"/><rect x="1010" y="170" width="11" height="11" fill="#18ddc2"/><rect x="1020" y="170" width="11" height="11" fill="#18dbc5"/><rect x="1030" y="170" width="11" height="11" fill="#18d7ca"/><rect x="1040" y="170" width="11" height="11" fill="#19d5cd"/><rect x="1050" y="170" width="11" height="11" fill="#1ad4d0"/><rect x="1060" y="170" width="11" height="11" fill="#1ad2d2"/><rect x="1070" y="170" width="11" height="11" fill="#1bd0d5"/><rect x="1080" y="170" width="11" height="11" fill="#1ccdd8"/><rect x="1090" y="170" width="11" height="11" fill="#1fc9dd"/><rect x="1100" y="170" width="11" height="11" fill="#22c5e2"/><rect x="1110" y="170" width="11" height="11" fill="#27bee9"/><rect x="1120" y="170" width="11" height="11" fill="#2eb4f2"/><rect x="1130" y="170" width="11" height="11" fill="#28bceb"/><rect x="1140" y="170" width="11" height="11" fill="#1bd0d5"/><rect x="1150" y="170" width="11" height="11" fill="#19e3b9"/><rect x="1160" y="170" width="11" height="11" fill="#22ebaa"/><rect x="1170" y="170" width="11" height="11" fill="#1fe9af"/><rect x="1180" y="170" width="11" height="11" fill="#19e3b9"/><rect x="1190" y="170" width="11" height="11" fill="#18dec0"/><rect x="1200" y="170" width="11" height="11" fill="#18d9c8"/><rect x="1210" y="170" width="11" height="11" fill="#1ad4d0"/><rect x="1220" y="170" width="11" height="11" fill="#1ccdd8"/><rect x="1230" y="170" width="11" height="11" fill="#22c5e2"/><rect x="1240" y="170" width="11" height="11" fill="#2fb2f4"/><rect x="1250" y="170" width="11" height="11" fill="#3e9bfe"/><rect x="1260" y="170" width="21" height="11" fill="#4687fb"/><rect x="700" y="180" width="61" height="11" fill="#4687fb"/><rect x="760" y="180" width="11" height="11" fill="#458cfd"/><rect x="770" y="180" width="11" height="11" fill="#3aa3fc"/><rect x="780" y="180" width="11" height="11" fill="#2fb2f4"/><rect x="790" y="180" width="11" height="11" fill="#27bee9"/><rect x="800" y="180" width="11" height="11" fill="#1ecbda"/><rect x="810" y="180" width="11" height="11" fill="#1ad4d0"/><rect x="820" y="180" width="11" height="11" fill="#18d9c8"/><rect x="830" y="180" width="11" height="11" fill="#18dec0"/><rect x="840" y="180" width="11" height="11" fill="#19e3b9"/><rect x="850" y="180" width="11" height="11" fill="#1ce6b4"/><rect x="860" y="180" width="11" height="11" fill="#1fe9af"/><rect x="870" y="180" width="31" height="11" fill="#20eaac"/><rect x="900" y="180" width="21" height="11" fill="#1fe9af"/><rect x="920" y="180" width="11" height="11" fill="#1de7b2"/><rect x="930" y="180" width="11" height="11" fill="#1ce6b4"/><rect x="940" y="180" width="11" height="11" fill="#1ae4b6"/><rect x="950" y="180" width="11" height="11" fill="#19e3b9"/><rect x="960" y="180" width="11" height="11" fill="#18e0bd"/><rect x="970" y="180" width="11" height="11" fill="#18dec0"/><rect x="980" y="180" width="11" height="11" fill="#18ddc2"/><rect x="990" y="180" width="21" height="11" fill="#18d9c8"/><rect x="1010" y="180" width="11" height="11" fill="#19d5cd"/><rect x="1020" y="180" width="11" height="11" fill="#1ad4d0"/><rect x="1030" y="180" width="11" height="11" fill="#1ad2d2"/><rect x="1040" y="180" width="11" height="11" fill="#1bd0d5"/><rect x="1050" y="180" width="11" height="11" fill="#1ccdd8"/><rect x="1060" y="180" width="11" height="11" fill="#1ecbda"/><rect x="1070" y="180" width="11" height="11" fill="#1fc9dd"/><rect x="1080" y="180" width="11" height="11" fill="#20c7df"/><rect x="1090" y="180" width="11" height="11" fill="#23c3e4"/><rect x="1100" y="180" width="11" height="11" fill="#25c0e7"/><rect x="1110" y="180" width="11" height="11" fill="#2ab9ee"/><rect x="1120" y="180" width="11" height="11" fill="#2cb7f0"/><rect x="1130" y="180" width="11" height="11" fill="#22c5e2"/><rect x="1140" y="180" width="11" height="11" fill="#18d9c8"/><rect x="1150" y="180" width="11" height="11" fill="#1fe9af"/><rect x="1160" y="180" width="11" height="11" fill="#22ebaa"/><rect x="1170" y="180" width="11" height="11" fill="#1de7b2"/><rect x="1180" y="180" width="11" height="11" fill="#19e2bb"/><rect x="1190" y="180" width="11" height="11" fill="#18ddc2"/><rect x="1200" y="180" width="11" height="11" fill="#19d5cd"/><rect x="1210" y="180" width="11" height="11" fill="#1ccdd8"/><rect x="1220" y="180" width="11" height="11" fill="#22c5e2"/><rect x="1230" y="180" width="11" height="11" fill="#2cb7f0"/><rect x="1240" y="180" width="11" height="11" fill="#3aa3fc"/><rect x="1250" y="180" width="11" height="11" fill="#458cfd"/><rect x="1260" y="180" width="21" height="11" fill="#4687fb"/><rect x="700" y="190" width="71" height="11" fill="#4687fb"/><rect x="770" y="190" width="11" height="11" fill="#4391fe"/><rect x="780" y="190" width="11" height="11" fill="#3ba0fd"/><rect x="790" y="190" width="11" height="11" fill="#31aff5"/><rect x="800" y="190" width="11" height="11" fill="#27bee9"/><rect x="810" y="190" width="11" height="11" fill="#1fc9dd"/><rect x="820" y="190" width="11" height="11" fill="#1ad2d2"/><rect x="830" y="190" width="11" height="11" fill="#18d7ca"/><rect x="840" y="190" width="11" height="11" fill="#18dbc5"/><rect x="850" y="190" width="11" height="11" fill="#18e0bd"/><rect x="860" y="190" width="11" height="11" fill="#19e3b9"/><rect x="870" y="190" width="41" height="11" fill="#1ae4b6"/><rect x="910" y="190" width="21" height="11" fill="#19e3b9"/><rect x="930" y="190" width="11" height="11" fill="#19e2bb"/><rect x="940" y="190" width="11" height="11" fill="#18e0bd"/><rect x="950" y="190" width="11" height="11" fill="#18dec0"/><rect x="960" y="190" width="11" height="11" fill="#18dbc5"/><rect x="970" y="190" width="11" height="11" fill="#18d9c8"/><rect x="980" y="190" width="11" height="11" fill="#18d7ca"/><rect x="990" y="190" width="11" height="11" fill="#19d5cd"/><rect x="1000" y="190" width="11" height="11" fill="#1ad4d0"/><rect x="1010" y="190" width="11" height="11" fill="#1bd0d5"/><rect x="1020" y="190" width="11" height="11" fill="#1ccdd8"/><rect x="1030" y="190" width="11" height="11" fill="#1ecbda"/><rect x="1040" y="190" width="11" height="11" fill="#1fc9dd"/><rect x="1050" y="190" width="11" height="11" fill="#20c7df"/><rect x="1060" y="190" width="11" height="11" fill="#22c5e2"/><rect x="1070" y="190" width="11" height="11" fill="#23c3e4"/><rect x="1080" y="190" width="11" height="11" fill="#25c0e7"/><rect x="1090" y="190" width="11" height="11" fill="#27bee9"/><rect x="1100" y="190" width="11" height="11" fill="#2ab9ee"/><rect x="1110" y="190" width="11" height="11" fill="#2cb7f0"/><rect x="1120" y="190" width="11" height="11" fill="#25c0e7"/><rect x="1130" y="190" width="11" height="11" fill="#1ad4d0"/><rect x="1140" y="190" width="11" height="11" fill="#19e3b9"/><rect x="1150" y="190" width="11" height="11" fill="#1fe9af"/><rect x="1160" y="190" width="11" height="11" fill="#1de7b2"/><rect x="1170" y="190" width="11" height="11" fill="#19e3b9"/><rect x="1180" y="190" width="11" height="11" fill="#18dec0"/><rect x="1190" y="190" width="11" height="11" fill="#18dbc5"/><rect x="1200" y="190" width="11" height="11" fill="#1ad4d0"/><rect x="1210" y="190" width="11" height="11" fill="#20c7df"/><rect x="1220" y="190" width="11" height="11" fill="#2eb4f2"/><rect x="1230" y="190" width="11" height="11" fill="#3aa3fc"/><rect x="1240" y="190" width="11" height="11" fill="#448ffe"/><rect x="1250" y="190" width="31" height="11" fill="#4687fb"/><rect x="700" y="200" width="81" height="11" fill="#4687fb"/><rect x="780" y="200" width="11" height="11" fill="#448ffe"/><rect x="790" y="200" width="11" height="11" fill="#3ba0fd"/><rect x="800" y="200" width="11" height="11" fill="#2fb2f4"/><rect x="810" y="200" width="11" height="11" fill="#27bee9"/><rect x="820" y="200" width="11" height="11" fill="#22c5e2"/><rect x="830" y="200" width="11" height="11" fill="#1ecbda"/><rect x="840" y="200" width="11" height="11" fill="#1ad2d2"/><rect x="850" y="200" width="11" height="11" fill="#18d7ca"/><rect x="860" y="200" width="11" height="11" fill="#18dbc5"/><rect x="870" y="200" width="11" height="11" fill="#18ddc2"/><rect x="880" y="200" width="41" height="11" fill="#18dec0"/><rect x="920" y="200" width="11" height="11" fill="#18ddc2"/><rect x="930" y="200" width="21" height="11" fill="#18dbc5"/><rect x="950" y="200" width="11" height="11" fill="#18d9c8"/><rect x="960" y="200" width="11" height="11" fill="#19d5cd"/><rect x="970" y="200" width="11" height="11" fill="#1ad4d0"/><rect x="980" y="200" width="11" height="11" fill="#1ad2d2"/><rect x="990" y="200" width="11" height="11" fill="#1bd0d5"/><rect x="1000" y="200" width="11" height="11" fill="#1ccdd8"/><rect x="1010" y="200" width="11" height="11" fill="#1ecbda"/><rect x="1020" y="200" width="11" height="11" fill="#20c7df"/><rect x="1030" y="200" width="11" height="11" fill="#23c3e4"/><rect x="1040" y="200" width="11" height="11" fill="#25c0e7"/><rect x="1050" y="200" width="21" height="11" fill="#27bee9"/><rect x="1070" y="200" width="11" height="11" fill="#28bceb"/><rect x="1080" y="200" width="41" height="11" fill="#2ab9ee"/><rect x="1120" y="200" width="11" height="11" fill="#1fc9dd"/><rect x="1130" y="200" width="11" height="11" fill="#19e2bb"/><rect x="1140" y="200" width="11" height="11" fill="#20eaac"/><rect x="1150" y="200" width="11" height="11" fill="#1ce6b4"/><rect x="1160" y="200" width="11" height="11" fill="#19e2bb"/><rect x="1170" y="200" width="11" height="11" fill="#18ddc2"/><rect x="1180" y="200" width="11" height="11" fill="#18d9c8"/><rect x="1190" y="200" width="11" height="11" fill="#18d7ca"/><rect x="1200" y="200" width="11" height="11" fill="#1bd0d5"/><rect x="1210" y="200" width="11" height="11" fill="#28bceb"/><rect x="1220" y="200" width="11" height="11" fill="#3ba0fd"/><rect x="1230" y="200" width="11" height="11" fill="#458cfd"/><rect x="1240" y="200" width="41" height="11" fill="#4687fb"/><rect x="700" y="210" width="91" height="11" fill="#4687fb"/><rect x="790" y="210" width="11" height="11" fill="#4391fe"/><rect x="800" y="210" width="11" height="11" fill="#3aa3fc"/><rect x="810" y="210" width="11" height="11" fill="#2fb2f4"/><rect x="820" y="210" width="11" height="11" fill="#2ab9ee"/><rect x="830" y="210" width="11" height="11" fill="#27bee9"/><rect x="840" y="210" width="11" height="11" fill="#22c5e2"/><rect x="850" y="210" width="11" height="11" fill="#1ecbda"/><rect x="860" y="210" width="11" height="11" fill="#1bd0d5"/><rect x="870" y="210" width="11" height="11" fill="#1ad2d2"/><rect x="880" y="210" width="11" height="11" fill="#1ad4d0"/><rect x="890" y="210" width="41" height="11" fill="#19d5cd"/><rect x="930" y="210" width="21" height="11" fill="#1ad4d0"/><rect x="950" y="210" width="11" height="11" fill="#1ad2d2"/><rect x="960" y="210" width="11" height="11" fill="#1bd0d5"/><rect x="970" y="210" width="11" height="11" fill="#1ccdd8"/><rect x="980" y="210" width="11" height="11" fill="#1ecbda"/><rect x="990" y="210" width="21" height="11" fill="#20c7df"/><rect x="1010" y="210" width="11" height="11" fill="#23c3e4"/><rect x="1020" y="210" width="11" height="11" fill="#25c0e7"/><rect x="1030" y="210" width="11" height="11" fill="#28bceb"/><rect x="1040" y="210" width="11" height="11" fill="#2ab9ee"/><rect x="1050" y="210" width="11" height="11" fill="#2cb7f0"/><rect x="1060" y="210" width="11" height="11" fill="#2eb4f2"/><rect x="1070" y="210" width="11" height="11" fill="#2fb2f4"/><rect x="1080" y="210" width="11" height="11" fill="#31aff5"/><rect x="1090" y="210" width="11" height="11" fill="#2eb4f2"/><rect x="1100" y="210" width="11" height="11" fill="#27bee9"/><rect x="1110" y="210" width="11" height="11" fill="#20c7df"/><rect x="1120" y="210" width="11" height="11" fill="#18d7ca"/><rect x="1130" y="210" width="11" height="11" fill="#1de7b2"/><rect x="1140" y="210" width="11" height="11" fill="#22ebaa"/><rect x="1150" y="210" width="11" height="11" fill="#19e3b9"/><rect x="1160" y="210" width="11" height="11" fill="#18dbc5"/><rect x="1170" y="210" width="11" height="11" fill="#1ad4d0"/><rect x="1180" y="210" width="11" height="11" fill="#1ccdd8"/><rect x="1190" y="210" width="11" height="11" fill="#1ecbda"/><rect x="1200" y="210" width="11" height="11" fill="#23c3e4"/><rect x="1210" y="210" width="11" height="11" fill="#35abf8"/><rect x="1220" y="210" width="11" height="11" fill="#458cfd"/><rect x="1230" y="210" width="51" height="11" fill="#4687fb"/><rect x="700" y="220" width="101" height="11" fill="#4687fb"/><rect x="800" y="220" width="11" height="11" fill="#4196ff"/><rect x="810" y="220" width="11" height="11" fill="#3aa3fc"/><rect x="820" y="220" width="11" height="11" fill="#35abf8"/><rect x="830" y="220" width="11" height="11" fill="#31aff5"/><rect x="840" y="220" width="11" height="11" fill="#2eb4f2"/><rect x="850" y="220" width="11" height="11" fill="#28bceb"/><rect x="860" y="220" width="11" height="11" fill="#27bee9"/><rect x="870" y="220" width="11" height="11" fill="#23c3e4"/><rect x="880" y="220" width="21" height="11" fill="#20c7df"/><rect x="900" y="220" width="41" height="11" fill="#1fc9dd"/><rect x="940" y="220" width="21" height="11" fill="#20c7df"/><rect x="960" y="220" width="11" height="11" fill="#22c5e2"/><rect x="970" y="220" width="11" height="11" fill="#23c3e4"/><rect x="980" y="220" width="11" height="11" fill="#25c0e7"/><rect x="990" y="220" width="11" height="11" fill="#27bee9"/><rect x="1000" y="220" width="11" height="11" fill="#28bceb"/><rect x="1010" y="220" width="11" height="11" fill="#2ab9ee"/><rect x="1020" y="220" width="11" height="11" fill="#2cb7f0"/><rect x="1030" y="220" width="11" height="11" fill="#2eb4f2"/><rect x="1040" y="220" width="21" height="11" fill="#2fb2f4"/><rect x="1060" y="220" width="11" height="11" fill="#33adf7"/><rect x="1070" y="220" width="11" height="11" fill="#38a5fb"/><rect x="1080" y="220" width="11" height="11" fill="#3aa3fc"/><rect x="1090" y="220" width="11" height="11" fill="#33adf7"/><rect x="1100" y="220" width="11" height="11" fill="#20c7df"/><rect x="1110" y="220" width="11" height="11" fill="#18dbc5"/><rect x="1120" y="220" width="11" height="11" fill="#1ae4b6"/><rect x="1130" y="220" width="11" height="11" fill="#1de7b2"/><rect x="1140" y="220" width="11" height="11" fill="#1ae4b6"/><rect x="1150" y="220" width="11" height="11" fill="#18ddc2"/><rect x="1160" y="220" width="11" height="11" fill="#1ad2d2"/><rect x="1170" y="220" width="11" height="11" fill="#22c5e2"/><rect x="1180" y="220" width="11" height="11" fill="#28bceb"/><rect x="1190" y="220" width="11" height="11" fill="#2eb4f2"/><rect x="1200" y="220" width="11" height="11" fill="#37a8fa"/><rect x="1210" y="220" width="11" height="11" fill="#4294ff"/><rect x="1220" y="220" width="61" height="11" fill="#4687fb"/><rect x="700" y="230" width="101" height="11" fill="#4687fb"/><rect x="800" y="230" width="11" height="11" fill="#458cfd"/><rect x="810" y="230" width="11" height="11" fill="#4196ff"/><rect x="820" y="230" width="11" height="11" fill="#3e9bfe"/><rect x="830" y="230" width="11" height="11" fill="#3aa3fc"/><rect x="840" y="230" width="11" height="11" fill="#38a5fb"/><rect x="850" y="230" width="11" height="11" fill="#37a8fa"/><rect x="860" y="230" width="11" height="11" fill="#33adf7"/><rect x="870" y="230" width="11" height="11" fill="#2fb2f4"/><rect x="880" y="230" width="11" height="11" fill="#2cb7f0"/><rect x="890" y="230" width="11" height="11" fill="#2ab9ee"/><rect x="900" y="230" width="51" height="11" fill="#28bceb"/><rect x="950" y="230" width="21" height="11" fill="#2ab9ee"/><rect x="970" y="230" width="11" height="11" fill="#2cb7f0"/><rect x="980" y="230" width="21" height="11" fill="#2eb4f2"/><rect x="1000" y="230" width="11" height="11" fill="#2fb2f4"/><rect x="1010" y="230" width="11" height="11" fill="#31aff5"/><rect x="1020" y="230" width="41" height="11" fill="#33adf7"/><rect x="1060" y="230" width="11" height="11" fill="#35abf8"/><rect x="1070" y="230" width="11" height="11" fill="#3aa3fc"/><rect x="1080" y="230" width="11" height="11" fill="#3e9bfe"/><rect x="1090" y="230" width="11" height="11" fill="#3aa3fc"/><rect x="1100" y="230" width="11" height="11" fill="#23c3e4"/><rect x="1110" y="230" width="11" height="11" fill="#19e3b9"/><rect x="1120" y="230" width="11" height="11" fill="#1de7b2"/><rect x="1130" y="230" width="11" height="11" fill="#19e2bb"/><rect x="1140" y="230" width="11" height="11" fill="#18dbc5"/><rect x="1150" y="230" width="11" height="11" fill="#1bd0d5"/><rect x="1160" y="230" width="11" height="11" fill="#23c3e4"/><rect x="1170" y="230" width="11" height="11" fill="#2fb2f4"/><rect x="1180" y="230" width="11" height="11" fill="#38a5fb"/><rect x="1190" y="230" width="11" height="11" fill="#3e9bfe"/><rect x="1200" y="230" width="11" height="11" fill="#448ffe"/><rect x="1210" y="230" width="71" height="11" fill="#4687fb"/><rect x="700" y="240" width="111" height="11" fill="#4687fb"/><rect x="810" y="240" width="11" height="11" fill="#458cfd"/><rect x="820" y="240" width="11" height="11" fill="#4391fe"/><rect x="830" y="240" width="11" height="11" fill="#4196ff"/><rect x="840" y="240" width="11" height="11" fill="#4099ff"/><rect x="850" y="240" width="11" height="11" fill="#3e9bfe"/><rect x="860" y="240" width="11" height="11" fill="#3d9efe"/><rect x="870" y="240" width="11" height="11" fill="#3aa3fc"/><rect x="880" y="240" width="11" height="11" fill="#37a8fa"/><rect x="890" y="240" width="11" height="11" fill="#35abf8"/><rect x="900" y="240" width="21" height="11" fill="#33adf7"/><rect x="920" y="240" width="31" height="11" fill="#31aff5"/><rect x="950" y="240" width="21" height="11" fill="#33adf7"/><rect x="970" y="240" width="31" height="11" fill="#35abf8"/><rect x="1000" y="240" width="11" height="11" fill="#37a8fa"/><rect x="1010" y="240" width="21" height="11" fill="#38a5fb"/><rect x="1030" y="240" width="11" height="11" fill="#3aa3fc"/><rect x="1040" y="240" width="11" height="11" fill="#37a8fa"/><rect x="1050" y="240" width="11" height="11" fill="#33adf7"/><rect x="1060" y="240" width="21" height="11" fill="#2fb2f4"/><rect x="1080" y="240" width="21" height="11" fill="#31aff5"/><rect x="1100" y="240" width="11" height="11" fill="#28bceb"/><rect x="1110" y="240" width="11" height="11" fill="#1ad4d0"/><rect x="1120" y="240" width="11" height="11" fill="#18dec0"/><rect x="1130" y="240" width="11" height="11" fill="#18d7ca"/><rect x="1140" y="240" width="11" height="11" fill="#1ccdd8"/><rect x="1150" y="240" width="11" height="11" fill="#25c0e7"/><rect x="1160" y="240" width="11" height="11" fill="#2fb2f4"/><rect x="1170" y="240" width="11" height="11" fill="#3d9efe"/><rect x="1180" y="240" width="11" height="11" fill="#448ffe"/><rect x="1190" y="240" width="91" height="11" fill="#4687fb"/><rect x="700" y="250" width="121" height="11" fill="#4687fb"/><rect x="820" y="250" width="11" height="11" fill="#458afc"/><rect x="830" y="250" width="11" height="11" fill="#458cfd"/><rect x="840" y="250" width="11" height="11" fill="#448ffe"/><rect x="850" y="250" width="11" height="11" fill="#4391fe"/><rect x="860" y="250" width="11" height="11" fill="#4294ff"/><rect x="870" y="250" width="11" height="11" fill="#4099ff"/><rect x="880" y="250" width="11" height="11" fill="#3e9bfe"/><rect x="890" y="250" width="11" height="11" fill="#3d9efe"/><rect x="900" y="250" width="31" height="11" fill="#3ba0fd"/><rect x="930" y="250" width="71" height="11" fill="#3aa3fc"/><rect x="1000" y="250" width="21" height="11" fill="#3ba0fd"/><rect x="1020" y="250" width="11" height="11" fill="#3d9efe"/><rect x="1030" y="250" width="11" height="11" fill="#3e9bfe"/><rect x="1040" y="250" width="11" height="11" fill="#3ba0fd"/><rect x="1050" y="250" width="11" height="11" fill="#33adf7"/><rect x="1060" y="250" width="11" height="11" fill="#27bee9"/><rect x="1070" y="250" width="11" height="11" fill="#1ecbda"/><rect x="1080" y="250" width="11" height="11" fill="#19d5cd"/><rect x="1090" y="250" width="11" height="11" fill="#18dec0"/><rect x="1100" y="250" width="11" height="11" fill="#19d5cd"/><rect x="1110" y="250" width="21" height="11" fill="#1ad4d0"/><rect x="1130" y="250" width="11" height="11" fill="#1ecbda"/><rect x="1140" y="250" width="11" height="11" fill="#27bee9"/><rect x="1150" y="250" width="11" height="11" fill="#31aff5"/><rect x="1160" y="250" width="11" height="11" fill="#3d9efe"/><rect x="1170" y="250" width="11" height="11" fill="#458cfd"/><rect x="1180" y="250" width="101" height="11" fill="#4687fb"/><rect x="700" y="260" width="141" height="11" fill="#4687fb"/><rect x="840" y="260" width="11" height="11" fill="#458afc"/><rect x="850" y="260" width="11" height="11" fill="#458cfd"/><rect x="860" y="260" width="11" height="11" fill="#448ffe"/><rect x="870" y="260" width="11" height="11" fill="#4391fe"/><rect x="880" y="260" width="11" height="11" fill="#4294ff"/><rect x="890" y="260" width="51" height="11" fill="#4196ff"/><rect x="940" y="260" width="11" height="11" fill="#4099ff"/><rect x="950" y="260" width="21" height="11" fill="#3e9bfe"/><rect x="970" y="260" width="51" height="11" fill="#3d9efe"/><rect x="1020" y="260" width="11" height="11" fill="#4099ff"/><rect x="1030" y="260" width="11" height="11" fill="#4196ff"/><rect x="1040" y="260" width="11" height="11" fill="#4099ff"/><rect x="1050" y="260" width="11" height="11" fill="#35abf8"/><rect x="1060" y="260" width="11" height="11" fill="#22c5e2"/><rect x="1070" y="260" width="11" height="11" fill="#18ddc2"/><rect x="1080" y="260" width="11" height="11" fill="#1ce6b4"/><rect x="1090" y="260" width="11" height="11" fill="#1de7b2"/><rect x="1100" y="260" width="11" height="11" fill="#18e0bd"/><rect x="1110" y="260" width="11" height="11" fill="#18d7ca"/><rect x="1120" y="260" width="11" height="11" fill="#1ccdd8"/><rect x="1130" y="260" width="11" height="11" fill="#25c0e7"/><rect x="1140" y="260" width="11" height="11" fill="#31aff5"/><rect x="1150" y="260" width="11" height="11" fill="#3d9efe"/><rect x="1160" y="260" width="11" height="11" fill="#458cfd"/><rect x="1170" y="260" width="111" height="11" fill="#4687fb"/><rect x="700" y="270" width="161" height="11" fill="#4687fb"/><rect x="860" y="270" width="11" height="11" fill="#458afc"/><rect x="870" y="270" width="11" height="11" fill="#458cfd"/><rect x="880" y="270" width="21" height="11" fill="#448ffe"/><rect x="900" y="270" width="11" height="11" fill="#4391fe"/><rect x="910" y="270" width="31" height="11" fill="#448ffe"/><rect x="940" y="270" width="11" height="11" fill="#4391fe"/><rect x="950" y="270" width="21" height="11" fill="#4196ff"/><rect x="970" y="270" width="11" height="11" fill="#4099ff"/><rect x="980" y="270" width="11" height="11" fill="#3e9bfe"/><rect x="990" y="270" width="11" height="11" fill="#3d9efe"/><rect x="1000" y="270" width="21" height="11" fill="#3ba0fd"/><rect x="1020" y="270" width="11" height="11" fill="#3d9efe"/><rect x="1030" y="270" width="11" height="11" fill="#4099ff"/><rect x="1040" y="270" width="11" height="11" fill="#4196ff"/><rect x="1050" y="270" width="11" height="11" fill="#35abf8"/><rect x="1060" y="270" width="11" height="11" fill="#20c7df"/><rect x="1070" y="270" width="11" height="11" fill="#18e0bd"/><rect x="1080" y="270" width="11" height="11" fill="#1ce6b4"/><rect x="1090" y="270" width="11" height="11" fill="#19e2bb"/><rect x="1100" y="270" width="11" height="11" fill="#18d9c8"/><rect x="1110" y="270" width="11" height="11" fill="#1ad2d2"/><rect x="1120" y="270" width="11" height="11" fill="#22c5e2"/><rect x="1130" y="270" width="11" height="11" fill="#2eb4f2"/><rect x="1140" y="270" width="11" height="11" fill="#3ba0fd"/><rect x="1150" y="270" width="11" height="11" fill="#448ffe"/><rect x="1160" y="270" width="121" height="11" fill="#4687fb"/><rect x="700" y="280" width="171" height="11" fill="#4687fb"/><rect x="870" y="280" width="11" height="11" fill="#458afc"/><rect x="880" y="280" width="51" height="11" fill="#458cfd"/><rect x="930" y="280" width="11" height="11" fill="#448ffe"/><rect x="940" y="280" width="11" height="11" fill="#4391fe"/><rect x="950" y="280" width="11" height="11" fill="#4294ff"/><rect x="960" y="280" width="11" height="11" fill="#4196ff"/><rect x="970" y="280" width="11" height="11" fill="#4099ff"/><rect x="980" y="280" width="11" height="11" fill="#3e9bfe"/><rect x="990" y="280" width="11" height="11" fill="#3ba0fd"/><rect x="1000" y="280" width="11" height="11" fill="#3aa3fc"/><rect x="1010" y="280" width="11" height="11" fill="#37a8fa"/><rect x="1020" y="280" width="11" height="11" fill="#35abf8"/><rect x="1030" y="280" width="11" height="11" fill="#33adf7"/><rect x="1040" y="280" width="11" height="11" fill="#2fb2f4"/><rect x="1050" y="280" width="11" height="11" fill="#28bceb"/><rect x="1060" y="280" width="11" height="11" fill="#22c5e2"/><rect x="1070" y="280" width="11" height="11" fill="#1ad4d0"/><rect x="1080" y="280" width="11" height="11" fill="#18dbc5"/><rect x="1090" y="280" width="11" height="11" fill="#1ad4d0"/><rect x="1100" y="280" width="11" height="11" fill="#1ecbda"/><rect x="1110" y="280" width="11" height="11" fill="#22c5e2"/><rect x="1120" y="280" width="11" height="11" fill="#2ab9ee"/><rect x="1130" y="280" width="11" height="11" fill="#38a5fb"/><rect x="1140" y="280" width="11" height="11" fill="#4391fe"/><rect x="1150" y="280" width="131" height="11" fill="#4687fb"/><rect x="700" y="290" width="171" height="11" fill="#4687fb"/><rect x="870" y="290" width="21" height="11" fill="#458afc"/><rect x="890" y="290" width="21" height="11" fill="#458cfd"/><rect x="910" y="290" width="21" height="11" fill="#448ffe"/><rect x="930" y="290" width="11" height="11" fill="#4391fe"/><rect x="940" y="290" width="11" height="11" fill="#4294ff"/><rect x="950" y="290" width="21" height="11" fill="#4196ff"/><rect x="970" y="290" width="11" height="11" fill="#4099ff"/><rect x="980" y="290" width="11" height="11" fill="#3d9efe"/><rect x="990" y="290" width="11" height="11" fill="#3aa3fc"/><rect x="1000" y="290" width="11" height="11" fill="#35abf8"/><rect x="1010" y="290" width="11" height="11" fill="#31aff5"/><rect x="1020" y="290" width="11" height="11" fill="#2cb7f0"/><rect x="1030" y="290" width="11" height="11" fill="#27bee9"/><rect x="1040" y="290" width="11" height="11" fill="#1fc9dd"/><rect x="1050" y="290" width="11" height="11" fill="#1ccdd8"/><rect x="1060" y="290" width="31" height="11" fill="#1fc9dd"/><rect x="1090" y="290" width="11" height="11" fill="#23c3e4"/><rect x="1100" y="290" width="11" height="11" fill="#28bceb"/><rect x="1110" y="290" width="11" height="11" fill="#2fb2f4"/><rect x="1120" y="290" width="11" height="11" fill="#38a5fb"/><rect x="1130" y="290" width="11" height="11" fill="#4196ff"/><rect x="1140" y="290" width="141" height="11" fill="#4687fb"/><rect x="700" y="300" width="171" height="11" fill="#4687fb"/><rect x="870" y="300" width="21" height="11" fill="#458afc"/><rect x="890" y="300" width="11" height="11" fill="#458cfd"/><rect x="900" y="300" width="11" height="11" fill="#448ffe"/><rect x="910" y="300" width="11" height="11" fill="#4391fe"/><rect x="920" y="300" width="21" height="11" fill="#4294ff"/><rect x="940" y="300" width="11" height="11" fill="#4196ff"/><rect x="950" y="300" width="31" height="11" fill="#4099ff"/><rect x="980" y="300" width="11" height="11" fill="#3e9bfe"/><rect x="990" y="300" width="11" height="11" fill="#38a5fb"/><rect x="1000" y="300" width="11" height="11" fill="#33adf7"/><rect x="1010" y="300" width="11" height="11" fill="#2fb2f4"/><rect x="1020" y="300" width="11" height="11" fill="#2ab9ee"/><rect x="1030" y="300" width="11" height="11" fill="#25c0e7"/><rect x="1040" y="300" width="21" height="11" fill="#20c7df"/><rect x="1060" y="300" width="11" height="11" fill="#25c0e7"/><rect x="1070" y="300" width="11" height="11" fill="#2ab9ee"/><rect x="1080" y="300" width="11" height="11" fill="#2eb4f2"/><rect x="1090" y="300" width="11" height="11" fill="#33adf7"/><rect x="1100" y="300" width="11" height="11" fill="#37a8fa"/><rect x="1110" y="300" width="11" height="11" fill="#3ba0fd"/><rect x="1120" y="300" width="11" height="11" fill="#4294ff"/><rect x="1130" y="300" width="151" height="11" fill="#4687fb"/><rect x="700" y="310" width="161" height="11" fill="#4687fb"/><rect x="860" y="310" width="21" height="11" fill="#458afc"/><rect x="880" y="310" width="11" height="11" fill="#458cfd"/><rect x="890" y="310" width="11" height="11" fill="#448ffe"/><rect x="900" y="310" width="11" height="11" fill="#4391fe"/><rect x="910" y="310" width="11" height="11" fill="#4294ff"/><rect x="920" y="310" width="21" height="11" fill="#4196ff"/><rect x="940" y="310" width="11" height="11" fill="#4099ff"/><rect x="950" y="310" width="11" height="11" fill="#3e9bfe"/><rect x="960" y="310" width="11" height="11" fill="#4099ff"/><rect x="970" y="310" width="11" height="11" fill="#4196ff"/><rect x="980" y="310" width="11" height="11" fill="#4099ff"/><rect x="990" y="310" width="11" height="11" fill="#38a5fb"/><rect x="1000" y="310" width="21" height="11" fill="#35abf8"/><rect x="1020" y="310" width="11" height="11" fill="#2fb2f4"/><rect x="1030" y="310" width="31" height="11" fill="#2cb7f0"/><rect x="1060" y="310" width="11" height="11" fill="#31aff5"/><rect x="1070" y="310" width="11" height="11" fill="#38a5fb"/><rect x="1080" y="310" width="11" height="11" fill="#3ba0fd"/><rect x="1090" y="310" width="11" height="11" fill="#4099ff"/><rect x="1100" y="310" width="11" height="11" fill="#4391fe"/><rect x="1110" y="310" width="11" height="11" fill="#458cfd"/><rect x="1120" y="310" width="161" height="11" fill="#4687fb"/><rect x="700" y="320" width="131" height="11" fill="#4687fb"/><rect x="830" y="320" width="51" height="11" fill="#458afc"/><rect x="880" y="320" width="11" height="11" fill="#458cfd"/><rect x="890" y="320" width="11" height="11" fill="#448ffe"/><rect x="900" y="320" width="11" height="11" fill="#4391fe"/><rect x="910" y="320" width="11" height="11" fill="#4294ff"/><rect x="920" y="320" width="21" height="11" fill="#4196ff"/><rect x="940" y="320" width="21" height="11" fill="#4099ff"/><rect x="960" y="320" width="31" height="11" fill="#4196ff"/><rect x="990" y="320" width="11" height="11" fill="#3ba0fd"/><rect x="1000" y="320" width="21" height="11" fill="#3aa3fc"/><rect x="1020" y="320" width="11" height="11" fill="#38a5fb"/><rect x="1030" y="320" width="21" height="11" fill="#37a8fa"/><rect x="1050" y="320" width="11" height="11" fill="#3aa3fc"/><rect x="1060" y="320" width="11" height="11" fill="#3e9bfe"/><rect x="1070" y="320" width="11" height="11" fill="#4294ff"/><rect x="1080" y="320" width="11" height="11" fill="#458cfd"/><rect x="1090" y="320" width="191" height="11" fill="#4687fb"/><rect x="700" y="330" width="121" height="11" fill="#4687fb"/><rect x="820" y="330" width="61" height="11" fill="#458afc"/><rect x="880" y="330" width="21" height="11" fill="#458cfd"/><rect x="900" y="330" width="11" height="11" fill="#448ffe"/><rect x="910" y="330" width="21" height="11" fill="#4391fe"/><rect x="930" y="330" width="21" height="11" fill="#4294ff"/><rect x="950" y="330" width="11" height="11" fill="#4196ff"/><rect x="960" y="330" width="31" height="11" fill="#4294ff"/><rect x="990" y="330" width="51" height="11" fill="#4099ff"/><rect x="1040" y="330" width="11" height="11" fill="#4196ff"/><rect x="1050" y="330" width="11" height="11" fill="#4391fe"/><rect x="1060" y="330" width="11" height="11" fill="#458cfd"/><rect x="1070" y="330" width="211" height="11" fill="#4687fb"/><rect x="700" y="340" width="111" height="11" fill="#4687fb"/><rect x="810" y="340" width="81" height="11" fill="#458afc"/><rect x="890" y="340" width="31" height="11" fill="#458cfd"/><rect x="920" y="340" width="21" height="11" fill="#448ffe"/><rect x="940" y="340" width="21" height="11" fill="#4391fe"/><rect x="960" y="340" width="71" height="11" fill="#448ffe"/><rect x="1030" y="340" width="11" height="11" fill="#458cfd"/><rect x="1040" y="340" width="241" height="11" fill="#4687fb"/><rect x="700" y="350" width="121" height="11" fill="#4687fb"/><rect x="820" y="350" width="161" height="11" fill="#458afc"/><rect x="980" y="350" width="301" height="11" fill="#4687fb"/><rect x="700" y="360" width="581" height="11" fill="#4687fb"/></g><path d="M1165 118 L1155 149 L1147 175 L1132 197.5 L1113 224 L1101.5 237.5 L1089.5 249 L1079.5 258 L1067.5 269 L1050.5 280 L1034.5 290 L1012.5 302.3 L994 309.5 L978 322 L956 330" stroke="#4099ff" stroke-width="7" fill="none" filter="url(#b3)" opacity="0.9"/></g>
<g clip-path="url(#wE)"><g filter="url(#fwE)"><rect x="340" y="110" width="11" height="11" fill="#1ecbda"/><rect x="350" y="110" width="11" height="11" fill="#1ccdd8"/><rect x="360" y="110" width="11" height="11" fill="#1bd0d5"/><rect x="370" y="110" width="11" height="11" fill="#1ad2d2"/><rect x="380" y="110" width="11" height="11" fill="#1ad4d0"/><rect x="390" y="110" width="21" height="11" fill="#19d5cd"/><rect x="410" y="110" width="11" height="11" fill="#18d7ca"/><rect x="420" y="110" width="11" height="11" fill="#18d9c8"/><rect x="430" y="110" width="21" height="11" fill="#18dbc5"/><rect x="450" y="110" width="41" height="11" fill="#18ddc2"/><rect x="490" y="110" width="11" height="11" fill="#18dbc5"/><rect x="500" y="110" width="11" height="11" fill="#18d9c8"/><rect x="510" y="110" width="11" height="11" fill="#18d7ca"/><rect x="520" y="110" width="11" height="11" fill="#1ad4d0"/><rect x="530" y="110" width="11" height="11" fill="#1ccdd8"/><rect x="540" y="110" width="11" height="11" fill="#22c5e2"/><rect x="550" y="110" width="11" height="11" fill="#2ab9ee"/><rect x="560" y="110" width="11" height="11" fill="#33adf7"/><rect x="570" y="110" width="11" height="11" fill="#3ba0fd"/><rect x="580" y="110" width="11" height="11" fill="#3e9bfe"/><rect x="590" y="110" width="21" height="11" fill="#4099ff"/><rect x="610" y="110" width="11" height="11" fill="#3ba0fd"/><rect x="620" y="110" width="21" height="11" fill="#38a5fb"/><rect x="640" y="110" width="11" height="11" fill="#3ba0fd"/><rect x="650" y="110" width="11" height="11" fill="#4099ff"/><rect x="660" y="110" width="11" height="11" fill="#4294ff"/><rect x="670" y="110" width="11" height="11" fill="#458cfd"/><rect x="680" y="110" width="51" height="11" fill="#4687fb"/><rect x="340" y="120" width="11" height="11" fill="#20c7df"/><rect x="350" y="120" width="11" height="11" fill="#1fc9dd"/><rect x="360" y="120" width="11" height="11" fill="#1ecbda"/><rect x="370" y="120" width="11" height="11" fill="#1ccdd8"/><rect x="380" y="120" width="11" height="11" fill="#1bd0d5"/><rect x="390" y="120" width="11" height="11" fill="#1ad2d2"/><rect x="400" y="120" width="11" height="11" fill="#1ad4d0"/><rect x="410" y="120" width="11" height="11" fill="#19d5cd"/><rect x="420" y="120" width="21" height="11" fill="#18d7ca"/><rect x="440" y="120" width="11" height="11" fill="#18d9c8"/><rect x="450" y="120" width="51" height="11" fill="#18dbc5"/><rect x="500" y="120" width="11" height="11" fill="#18d9c8"/><rect x="510" y="120" width="11" height="11" fill="#18d7ca"/><rect x="520" y="120" width="11" height="11" fill="#1ad4d0"/><rect x="530" y="120" width="11" height="11" fill="#1ccdd8"/><rect x="540" y="120" width="11" height="11" fill="#20c7df"/><rect x="550" y="120" width="11" height="11" fill="#28bceb"/><rect x="560" y="120" width="11" height="11" fill="#35abf8"/><rect x="570" y="120" width="11" height="11" fill="#3e9bfe"/><rect x="580" y="120" width="11" height="11" fill="#4196ff"/><rect x="590" y="120" width="11" height="11" fill="#4294ff"/><rect x="600" y="120" width="11" height="11" fill="#4196ff"/><rect x="610" y="120" width="11" height="11" fill="#3ba0fd"/><rect x="620" y="120" width="11" height="11" fill="#33adf7"/><rect x="630" y="120" width="11" height="11" fill="#38a5fb"/><rect x="640" y="120" width="11" height="11" fill="#3d9efe"/><rect x="650" y="120" width="11" height="11" fill="#4196ff"/><rect x="660" y="120" width="11" height="11" fill="#4391fe"/><rect x="670" y="120" width="11" height="11" fill="#458afc"/><rect x="680" y="120" width="51" height="11" fill="#4687fb"/><rect x="340" y="130" width="11" height="11" fill="#23c3e4"/><rect x="350" y="130" width="11" height="11" fill="#22c5e2"/><rect x="360" y="130" width="11" height="11" fill="#20c7df"/><rect x="370" y="130" width="11" height="11" fill="#1fc9dd"/><rect x="380" y="130" width="11" height="11" fill="#1ecbda"/><rect x="390" y="130" width="11" height="11" fill="#1ccdd8"/><rect x="400" y="130" width="11" height="11" fill="#1bd0d5"/><rect x="410" y="130" width="11" height="11" fill="#1ad2d2"/><rect x="420" y="130" width="11" height="11" fill="#1ad4d0"/><rect x="430" y="130" width="11" height="11" fill="#19d5cd"/><rect x="440" y="130" width="21" height="11" fill="#18d7ca"/><rect x="460" y="130" width="41" height="11" fill="#18d9c8"/><rect x="500" y="130" width="11" height="11" fill="#18d7ca"/><rect x="510" y="130" width="11" height="11" fill="#19d5cd"/><rect x="520" y="130" width="11" height="11" fill="#1ad2d2"/><rect x="530" y="130" width="11" height="11" fill="#1ccdd8"/><rect x="540" y="130" width="11" height="11" fill="#20c7df"/><rect x="550" y="130" width="11" height="11" fill="#27bee9"/><rect x="560" y="130" width="11" height="11" fill="#37a8fa"/><rect x="570" y="130" width="11" height="11" fill="#4196ff"/><rect x="580" y="130" width="11" height="11" fill="#4294ff"/><rect x="590" y="130" width="11" height="11" fill="#4196ff"/><rect x="600" y="130" width="11" height="11" fill="#4099ff"/><rect x="610" y="130" width="11" height="11" fill="#38a5fb"/><rect x="620" y="130" width="11" height="11" fill="#31aff5"/><rect x="630" y="130" width="11" height="11" fill="#3aa3fc"/><rect x="640" y="130" width="11" height="11" fill="#4099ff"/><rect x="650" y="130" width="11" height="11" fill="#4294ff"/><rect x="660" y="130" width="11" height="11" fill="#458cfd"/><rect x="670" y="130" width="61" height="11" fill="#4687fb"/><rect x="340" y="140" width="11" height="11" fill="#27bee9"/><rect x="350" y="140" width="11" height="11" fill="#25c0e7"/><rect x="360" y="140" width="11" height="11" fill="#23c3e4"/><rect x="370" y="140" width="11" height="11" fill="#22c5e2"/><rect x="380" y="140" width="11" height="11" fill="#20c7df"/><rect x="390" y="140" width="11" height="11" fill="#1fc9dd"/><rect x="400" y="140" width="11" height="11" fill="#1ecbda"/><rect x="410" y="140" width="11" height="11" fill="#1ccdd8"/><rect x="420" y="140" width="11" height="11" fill="#1bd0d5"/><rect x="430" y="140" width="11" height="11" fill="#1ad2d2"/><rect x="440" y="140" width="11" height="11" fill="#1ad4d0"/><rect x="450" y="140" width="21" height="11" fill="#19d5cd"/><rect x="470" y="140" width="21" height="11" fill="#18d7ca"/><rect x="490" y="140" width="21" height="11" fill="#19d5cd"/><rect x="510" y="140" width="11" height="11" fill="#1ad4d0"/><rect x="520" y="140" width="11" height="11" fill="#1bd0d5"/><rect x="530" y="140" width="11" height="11" fill="#1ecbda"/><rect x="540" y="140" width="11" height="11" fill="#20c7df"/><rect x="550" y="140" width="11" height="11" fill="#25c0e7"/><rect x="560" y="140" width="11" height="11" fill="#35abf8"/><rect x="570" y="140" width="11" height="11" fill="#4294ff"/><rect x="580" y="140" width="11" height="11" fill="#4391fe"/><rect x="590" y="140" width="11" height="11" fill="#4196ff"/><rect x="600" y="140" width="11" height="11" fill="#3e9bfe"/><rect x="610" y="140" width="11" height="11" fill="#3aa3fc"/><rect x="620" y="140" width="11" height="11" fill="#37a8fa"/><rect x="630" y="140" width="11" height="11" fill="#3e9bfe"/><rect x="640" y="140" width="11" height="11" fill="#4294ff"/><rect x="650" y="140" width="11" height="11" fill="#448ffe"/><rect x="660" y="140" width="11" height="11" fill="#458afc"/><rect x="670" y="140" width="61" height="11" fill="#4687fb"/><rect x="340" y="150" width="11" height="11" fill="#2cb7f0"/><rect x="350" y="150" width="11" height="11" fill="#28bceb"/><rect x="360" y="150" width="11" height="11" fill="#27bee9"/><rect x="370" y="150" width="11" height="11" fill="#25c0e7"/><rect x="380" y="150" width="11" height="11" fill="#23c3e4"/><rect x="390" y="150" width="11" height="11" fill="#22c5e2"/><rect x="400" y="150" width="11" height="11" fill="#20c7df"/><rect x="410" y="150" width="11" height="11" fill="#1ecbda"/><rect x="420" y="150" width="11" height="11" fill="#1ccdd8"/><rect x="430" y="150" width="21" height="11" fill="#1bd0d5"/><rect x="450" y="150" width="11" height="11" fill="#1ad2d2"/><rect x="460" y="150" width="41" height="11" fill="#1ad4d0"/><rect x="500" y="150" width="11" height="11" fill="#1ad2d2"/><rect x="510" y="150" width="11" height="11" fill="#1ccdd8"/><rect x="520" y="150" width="11" height="11" fill="#1fc9dd"/><rect x="530" y="150" width="11" height="11" fill="#23c3e4"/><rect x="540" y="150" width="11" height="11" fill="#28bceb"/><rect x="550" y="150" width="11" height="11" fill="#2fb2f4"/><rect x="560" y="150" width="11" height="11" fill="#3aa3fc"/><rect x="570" y="150" width="11" height="11" fill="#4294ff"/><rect x="580" y="150" width="11" height="11" fill="#4099ff"/><rect x="590" y="150" width="11" height="11" fill="#3ba0fd"/><rect x="600" y="150" width="11" height="11" fill="#3d9efe"/><rect x="610" y="150" width="11" height="11" fill="#3e9bfe"/><rect x="620" y="150" width="11" height="11" fill="#3d9efe"/><rect x="630" y="150" width="11" height="11" fill="#4196ff"/><rect x="640" y="150" width="11" height="11" fill="#4391fe"/><rect x="650" y="150" width="11" height="11" fill="#448ffe"/><rect x="660" y="150" width="11" height="11" fill="#458afc"/><rect x="670" y="150" width="61" height="11" fill="#4687fb"/><rect x="340" y="160" width="11" height="11" fill="#2fb2f4"/><rect x="350" y="160" width="11" height="11" fill="#2eb4f2"/><rect x="360" y="160" width="11" height="11" fill="#2cb7f0"/><rect x="370" y="160" width="11" height="11" fill="#28bceb"/><rect x="380" y="160" width="11" height="11" fill="#27bee9"/><rect x="390" y="160" width="11" height="11" fill="#25c0e7"/><rect x="400" y="160" width="11" height="11" fill="#22c5e2"/><rect x="410" y="160" width="11" height="11" fill="#20c7df"/><rect x="420" y="160" width="11" height="11" fill="#1fc9dd"/><rect x="430" y="160" width="11" height="11" fill="#1ecbda"/><rect x="440" y="160" width="21" height="11" fill="#1ccdd8"/><rect x="460" y="160" width="41" height="11" fill="#1bd0d5"/><rect x="500" y="160" width="11" height="11" fill="#1ccdd8"/><rect x="510" y="160" width="11" height="11" fill="#1fc9dd"/><rect x="520" y="160" width="11" height="11" fill="#23c3e4"/><rect x="530" y="160" width="11" height="11" fill="#2ab9ee"/><rect x="540" y="160" width="11" height="11" fill="#35abf8"/><rect x="550" y="160" width="11" height="11" fill="#4099ff"/><rect x="560" y="160" width="11" height="11" fill="#448ffe"/><rect x="570" y="160" width="11" height="11" fill="#4294ff"/><rect x="580" y="160" width="11" height="11" fill="#3ba0fd"/><rect x="590" y="160" width="11" height="11" fill="#35abf8"/><rect x="600" y="160" width="11" height="11" fill="#3aa3fc"/><rect x="610" y="160" width="11" height="11" fill="#3e9bfe"/><rect x="620" y="160" width="11" height="11" fill="#4099ff"/><rect x="630" y="160" width="11" height="11" fill="#4196ff"/><rect x="640" y="160" width="11" height="11" fill="#4294ff"/><rect x="650" y="160" width="11" height="11" fill="#448ffe"/><rect x="660" y="160" width="11" height="11" fill="#458afc"/><rect x="670" y="160" width="61" height="11" fill="#4687fb"/><rect x="340" y="170" width="11" height="11" fill="#33adf7"/><rect x="350" y="170" width="11" height="11" fill="#31aff5"/><rect x="360" y="170" width="11" height="11" fill="#2fb2f4"/><rect x="370" y="170" width="11" height="11" fill="#2cb7f0"/><rect x="380" y="170" width="11" height="11" fill="#2ab9ee"/><rect x="390" y="170" width="11" height="11" fill="#28bceb"/><rect x="400" y="170" width="11" height="11" fill="#25c0e7"/><rect x="410" y="170" width="11" height="11" fill="#23c3e4"/><rect x="420" y="170" width="11" height="11" fill="#22c5e2"/><rect x="430" y="170" width="11" height="11" fill="#20c7df"/><rect x="440" y="170" width="21" height="11" fill="#1fc9dd"/><rect x="460" y="170" width="41" height="11" fill="#1ecbda"/><rect x="500" y="170" width="11" height="11" fill="#1fc9dd"/><rect x="510" y="170" width="11" height="11" fill="#22c5e2"/><rect x="520" y="170" width="11" height="11" fill="#28bceb"/><rect x="530" y="170" width="11" height="11" fill="#31aff5"/><rect x="540" y="170" width="11" height="11" fill="#3ba0fd"/><rect x="550" y="170" width="11" height="11" fill="#4294ff"/><rect x="560" y="170" width="11" height="11" fill="#458cfd"/><rect x="570" y="170" width="11" height="11" fill="#4391fe"/><rect x="580" y="170" width="11" height="11" fill="#3d9efe"/><rect x="590" y="170" width="11" height="11" fill="#3aa3fc"/><rect x="600" y="170" width="11" height="11" fill="#3ba0fd"/><rect x="610" y="170" width="11" height="11" fill="#4099ff"/><rect x="620" y="170" width="11" height="11" fill="#4294ff"/><rect x="630" y="170" width="11" height="11" fill="#4196ff"/><rect x="640" y="170" width="11" height="11" fill="#4294ff"/><rect x="650" y="170" width="11" height="11" fill="#448ffe"/><rect x="660" y="170" width="11" height="11" fill="#458afc"/><rect x="670" y="170" width="61" height="11" fill="#4687fb"/><rect x="340" y="180" width="11" height="11" fill="#38a5fb"/><rect x="350" y="180" width="11" height="11" fill="#35abf8"/><rect x="360" y="180" width="11" height="11" fill="#33adf7"/><rect x="370" y="180" width="11" height="11" fill="#31aff5"/><rect x="380" y="180" width="11" height="11" fill="#2eb4f2"/><rect x="390" y="180" width="11" height="11" fill="#2ab9ee"/><rect x="400" y="180" width="11" height="11" fill="#28bceb"/><rect x="410" y="180" width="11" height="11" fill="#27bee9"/><rect x="420" y="180" width="11" height="11" fill="#25c0e7"/><rect x="430" y="180" width="11" height="11" fill="#23c3e4"/><rect x="440" y="180" width="21" height="11" fill="#22c5e2"/><rect x="460" y="180" width="41" height="11" fill="#20c7df"/><rect x="500" y="180" width="11" height="11" fill="#22c5e2"/><rect x="510" y="180" width="11" height="11" fill="#25c0e7"/><rect x="520" y="180" width="11" height="11" fill="#2cb7f0"/><rect x="530" y="180" width="11" height="11" fill="#33adf7"/><rect x="540" y="180" width="11" height="11" fill="#3d9efe"/><rect x="550" y="180" width="11" height="11" fill="#4294ff"/><rect x="560" y="180" width="11" height="11" fill="#448ffe"/><rect x="570" y="180" width="11" height="11" fill="#4391fe"/><rect x="580" y="180" width="11" height="11" fill="#4196ff"/><rect x="590" y="180" width="21" height="11" fill="#4099ff"/><rect x="610" y="180" width="31" height="11" fill="#4196ff"/><rect x="640" y="180" width="11" height="11" fill="#4294ff"/><rect x="650" y="180" width="11" height="11" fill="#448ffe"/><rect x="660" y="180" width="11" height="11" fill="#458afc"/><rect x="670" y="180" width="61" height="11" fill="#4687fb"/><rect x="340" y="190" width="11" height="11" fill="#3ba0fd"/><rect x="350" y="190" width="11" height="11" fill="#3aa3fc"/><rect x="360" y="190" width="11" height="11" fill="#37a8fa"/><rect x="370" y="190" width="11" height="11" fill="#35abf8"/><rect x="380" y="190" width="11" height="11" fill="#31aff5"/><rect x="390" y="190" width="11" height="11" fill="#2eb4f2"/><rect x="400" y="190" width="11" height="11" fill="#2cb7f0"/><rect x="410" y="190" width="11" height="11" fill="#28bceb"/><rect x="420" y="190" width="11" height="11" fill="#27bee9"/><rect x="430" y="190" width="21" height="11" fill="#25c0e7"/><rect x="450" y="190" width="21" height="11" fill="#23c3e4"/><rect x="470" y="190" width="11" height="11" fill="#25c0e7"/><rect x="480" y="190" width="21" height="11" fill="#23c3e4"/><rect x="500" y="190" width="11" height="11" fill="#25c0e7"/><rect x="510" y="190" width="11" height="11" fill="#28bceb"/><rect x="520" y="190" width="11" height="11" fill="#2eb4f2"/><rect x="530" y="190" width="11" height="11" fill="#35abf8"/><rect x="540" y="190" width="11" height="11" fill="#3d9efe"/><rect x="550" y="190" width="11" height="11" fill="#4196ff"/><rect x="560" y="190" width="51" height="11" fill="#4391fe"/><rect x="610" y="190" width="11" height="11" fill="#4294ff"/><rect x="620" y="190" width="11" height="11" fill="#4196ff"/><rect x="630" y="190" width="11" height="11" fill="#4099ff"/><rect x="640" y="190" width="11" height="11" fill="#4294ff"/><rect x="650" y="190" width="11" height="11" fill="#448ffe"/><rect x="660" y="190" width="11" height="11" fill="#458cfd"/><rect x="670" y="190" width="11" height="11" fill="#458afc"/><rect x="680" y="190" width="51" height="11" fill="#4687fb"/><rect x="340" y="200" width="11" height="11" fill="#3e9bfe"/><rect x="350" y="200" width="11" height="11" fill="#3d9efe"/><rect x="360" y="200" width="11" height="11" fill="#3ba0fd"/><rect x="370" y="200" width="11" height="11" fill="#38a5fb"/><rect x="380" y="200" width="11" height="11" fill="#35abf8"/><rect x="390" y="200" width="11" height="11" fill="#31aff5"/><rect x="400" y="200" width="11" height="11" fill="#2eb4f2"/><rect x="410" y="200" width="11" height="11" fill="#2cb7f0"/><rect x="420" y="200" width="11" height="11" fill="#28bceb"/><rect x="430" y="200" width="41" height="11" fill="#27bee9"/><rect x="470" y="200" width="11" height="11" fill="#28bceb"/><rect x="480" y="200" width="11" height="11" fill="#2ab9ee"/><rect x="490" y="200" width="11" height="11" fill="#28bceb"/><rect x="500" y="200" width="11" height="11" fill="#2ab9ee"/><rect x="510" y="200" width="11" height="11" fill="#2eb4f2"/><rect x="520" y="200" width="11" height="11" fill="#33adf7"/><rect x="530" y="200" width="11" height="11" fill="#38a5fb"/><rect x="540" y="200" width="11" height="11" fill="#3e9bfe"/><rect x="550" y="200" width="11" height="11" fill="#4294ff"/><rect x="560" y="200" width="51" height="11" fill="#448ffe"/><rect x="610" y="200" width="11" height="11" fill="#4196ff"/><rect x="620" y="200" width="11" height="11" fill="#3d9efe"/><rect x="630" y="200" width="11" height="11" fill="#3ba0fd"/><rect x="640" y="200" width="11" height="11" fill="#3d9efe"/><rect x="650" y="200" width="21" height="11" fill="#4196ff"/><rect x="670" y="200" width="11" height="11" fill="#4294ff"/><rect x="680" y="200" width="11" height="11" fill="#4391fe"/><rect x="690" y="200" width="11" height="11" fill="#458afc"/><rect x="700" y="200" width="31" height="11" fill="#4687fb"/><rect x="340" y="210" width="11" height="11" fill="#4294ff"/><rect x="350" y="210" width="11" height="11" fill="#4099ff"/><rect x="360" y="210" width="11" height="11" fill="#3e9bfe"/><rect x="370" y="210" width="11" height="11" fill="#3ba0fd"/><rect x="380" y="210" width="11" height="11" fill="#38a5fb"/><rect x="390" y="210" width="11" height="11" fill="#35abf8"/><rect x="400" y="210" width="11" height="11" fill="#31aff5"/><rect x="410" y="210" width="11" height="11" fill="#2eb4f2"/><rect x="420" y="210" width="11" height="11" fill="#2ab9ee"/><rect x="430" y="210" width="41" height="11" fill="#28bceb"/><rect x="470" y="210" width="11" height="11" fill="#2ab9ee"/><rect x="480" y="210" width="11" height="11" fill="#2eb4f2"/><rect x="490" y="210" width="11" height="11" fill="#2cb7f0"/><rect x="500" y="210" width="11" height="11" fill="#2eb4f2"/><rect x="510" y="210" width="11" height="11" fill="#31aff5"/><rect x="520" y="210" width="11" height="11" fill="#38a5fb"/><rect x="530" y="210" width="11" height="11" fill="#3d9efe"/><rect x="540" y="210" width="11" height="11" fill="#4099ff"/><rect x="550" y="210" width="11" height="11" fill="#4391fe"/><rect x="560" y="210" width="21" height="11" fill="#458cfd"/><rect x="580" y="210" width="11" height="11" fill="#448ffe"/><rect x="590" y="210" width="11" height="11" fill="#4391fe"/><rect x="600" y="210" width="11" height="11" fill="#4294ff"/><rect x="610" y="210" width="11" height="11" fill="#3d9efe"/><rect x="620" y="210" width="11" height="11" fill="#35abf8"/><rect x="630" y="210" width="21" height="11" fill="#2fb2f4"/><rect x="650" y="210" width="11" height="11" fill="#33adf7"/><rect x="660" y="210" width="11" height="11" fill="#35abf8"/><rect x="670" y="210" width="11" height="11" fill="#37a8fa"/><rect x="680" y="210" width="11" height="11" fill="#3ba0fd"/><rect x="690" y="210" width="11" height="11" fill="#4196ff"/><rect x="700" y="210" width="11" height="11" fill="#458afc"/><rect x="710" y="210" width="21" height="11" fill="#4687fb"/><rect x="340" y="220" width="11" height="11" fill="#448ffe"/><rect x="350" y="220" width="11" height="11" fill="#4391fe"/><rect x="360" y="220" width="11" height="11" fill="#4196ff"/><rect x="370" y="220" width="11" height="11" fill="#3e9bfe"/><rect x="380" y="220" width="11" height="11" fill="#3ba0fd"/><rect x="390" y="220" width="11" height="11" fill="#37a8fa"/><rect x="400" y="220" width="11" height="11" fill="#33adf7"/><rect x="410" y="220" width="11" height="11" fill="#2fb2f4"/><rect x="420" y="220" width="11" height="11" fill="#2cb7f0"/><rect x="430" y="220" width="11" height="11" fill="#2ab9ee"/><rect x="440" y="220" width="31" height="11" fill="#28bceb"/><rect x="470" y="220" width="11" height="11" fill="#27bee9"/><rect x="480" y="220" width="11" height="11" fill="#28bceb"/><rect x="490" y="220" width="11" height="11" fill="#2ab9ee"/><rect x="500" y="220" width="11" height="11" fill="#2eb4f2"/><rect x="510" y="220" width="11" height="11" fill="#35abf8"/><rect x="520" y="220" width="11" height="11" fill="#3d9efe"/><rect x="530" y="220" width="11" height="11" fill="#4196ff"/><rect x="540" y="220" width="11" height="11" fill="#4391fe"/><rect x="550" y="220" width="11" height="11" fill="#458cfd"/><rect x="560" y="220" width="11" height="11" fill="#458afc"/><rect x="570" y="220" width="11" height="11" fill="#458cfd"/><rect x="580" y="220" width="11" height="11" fill="#4391fe"/><rect x="590" y="220" width="11" height="11" fill="#4196ff"/><rect x="600" y="220" width="11" height="11" fill="#3d9efe"/><rect x="610" y="220" width="11" height="11" fill="#35abf8"/><rect x="620" y="220" width="11" height="11" fill="#2ab9ee"/><rect x="630" y="220" width="11" height="11" fill="#22c5e2"/><rect x="640" y="220" width="11" height="11" fill="#20c7df"/><rect x="650" y="220" width="11" height="11" fill="#22c5e2"/><rect x="660" y="220" width="11" height="11" fill="#25c0e7"/><rect x="670" y="220" width="11" height="11" fill="#2ab9ee"/><rect x="680" y="220" width="11" height="11" fill="#31aff5"/><rect x="690" y="220" width="11" height="11" fill="#3aa3fc"/><rect x="700" y="220" width="11" height="11" fill="#4294ff"/><rect x="710" y="220" width="21" height="11" fill="#4687fb"/><rect x="340" y="230" width="11" height="11" fill="#4687fb"/><rect x="350" y="230" width="11" height="11" fill="#458cfd"/><rect x="360" y="230" width="11" height="11" fill="#4391fe"/><rect x="370" y="230" width="11" height="11" fill="#4196ff"/><rect x="380" y="230" width="11" height="11" fill="#3e9bfe"/><rect x="390" y="230" width="11" height="11" fill="#3aa3fc"/><rect x="400" y="230" width="11" height="11" fill="#35abf8"/><rect x="410" y="230" width="11" height="11" fill="#2fb2f4"/><rect x="420" y="230" width="11" height="11" fill="#2cb7f0"/><rect x="430" y="230" width="11" height="11" fill="#2ab9ee"/><rect x="440" y="230" width="31" height="11" fill="#28bceb"/><rect x="470" y="230" width="11" height="11" fill="#27bee9"/><rect x="480" y="230" width="11" height="11" fill="#28bceb"/><rect x="490" y="230" width="11" height="11" fill="#2ab9ee"/><rect x="500" y="230" width="11" height="11" fill="#2fb2f4"/><rect x="510" y="230" width="11" height="11" fill="#37a8fa"/><rect x="520" y="230" width="11" height="11" fill="#4099ff"/><rect x="530" y="230" width="11" height="11" fill="#4391fe"/><rect x="540" y="230" width="31" height="11" fill="#458cfd"/><rect x="570" y="230" width="11" height="11" fill="#448ffe"/><rect x="580" y="230" width="11" height="11" fill="#4391fe"/><rect x="590" y="230" width="11" height="11" fill="#3e9bfe"/><rect x="600" y="230" width="11" height="11" fill="#38a5fb"/><rect x="610" y="230" width="11" height="11" fill="#31aff5"/><rect x="620" y="230" width="11" height="11" fill="#27bee9"/><rect x="630" y="230" width="11" height="11" fill="#1fc9dd"/><rect x="640" y="230" width="21" height="11" fill="#1ccdd8"/><rect x="660" y="230" width="11" height="11" fill="#1fc9dd"/><rect x="670" y="230" width="11" height="11" fill="#23c3e4"/><rect x="680" y="230" width="11" height="11" fill="#2cb7f0"/><rect x="690" y="230" width="11" height="11" fill="#35abf8"/><rect x="700" y="230" width="11" height="11" fill="#4099ff"/><rect x="710" y="230" width="11" height="11" fill="#458cfd"/><rect x="720" y="230" width="11" height="11" fill="#4687fb"/><rect x="340" y="240" width="21" height="11" fill="#4687fb"/><rect x="360" y="240" width="11" height="11" fill="#458afc"/><rect x="370" y="240" width="11" height="11" fill="#448ffe"/><rect x="380" y="240" width="11" height="11" fill="#4196ff"/><rect x="390" y="240" width="11" height="11" fill="#3ba0fd"/><rect x="400" y="240" width="11" height="11" fill="#37a8fa"/><rect x="410" y="240" width="11" height="11" fill="#2fb2f4"/><rect x="420" y="240" width="11" height="11" fill="#2cb7f0"/><rect x="430" y="240" width="41" height="11" fill="#2ab9ee"/><rect x="470" y="240" width="21" height="11" fill="#2cb7f0"/><rect x="490" y="240" width="11" height="11" fill="#2fb2f4"/><rect x="500" y="240" width="11" height="11" fill="#35abf8"/><rect x="510" y="240" width="11" height="11" fill="#3aa3fc"/><rect x="520" y="240" width="11" height="11" fill="#4099ff"/><rect x="530" y="240" width="21" height="11" fill="#4391fe"/><rect x="550" y="240" width="11" height="11" fill="#4294ff"/><rect x="560" y="240" width="11" height="11" fill="#4099ff"/><rect x="570" y="240" width="21" height="11" fill="#3d9efe"/><rect x="590" y="240" width="11" height="11" fill="#37a8fa"/><rect x="600" y="240" width="11" height="11" fill="#2cb7f0"/><rect x="610" y="240" width="11" height="11" fill="#2ab9ee"/><rect x="620" y="240" width="11" height="11" fill="#25c0e7"/><rect x="630" y="240" width="11" height="11" fill="#1fc9dd"/><rect x="640" y="240" width="11" height="11" fill="#1ecbda"/><rect x="650" y="240" width="21" height="11" fill="#1fc9dd"/><rect x="670" y="240" width="11" height="11" fill="#25c0e7"/><rect x="680" y="240" width="11" height="11" fill="#2cb7f0"/><rect x="690" y="240" width="11" height="11" fill="#35abf8"/><rect x="700" y="240" width="11" height="11" fill="#3e9bfe"/><rect x="710" y="240" width="11" height="11" fill="#458cfd"/><rect x="720" y="240" width="11" height="11" fill="#4687fb"/><rect x="340" y="250" width="31" height="11" fill="#4687fb"/><rect x="370" y="250" width="11" height="11" fill="#458afc"/><rect x="380" y="250" width="11" height="11" fill="#4391fe"/><rect x="390" y="250" width="11" height="11" fill="#3e9bfe"/><rect x="400" y="250" width="11" height="11" fill="#38a5fb"/><rect x="410" y="250" width="11" height="11" fill="#2fb2f4"/><rect x="420" y="250" width="11" height="11" fill="#2cb7f0"/><rect x="430" y="250" width="21" height="11" fill="#28bceb"/><rect x="450" y="250" width="21" height="11" fill="#2ab9ee"/><rect x="470" y="250" width="11" height="11" fill="#2cb7f0"/><rect x="480" y="250" width="11" height="11" fill="#2eb4f2"/><rect x="490" y="250" width="11" height="11" fill="#31aff5"/><rect x="500" y="250" width="11" height="11" fill="#35abf8"/><rect x="510" y="250" width="11" height="11" fill="#38a5fb"/><rect x="520" y="250" width="11" height="11" fill="#4099ff"/><rect x="530" y="250" width="11" height="11" fill="#4196ff"/><rect x="540" y="250" width="11" height="11" fill="#3ba0fd"/><rect x="550" y="250" width="11" height="11" fill="#35abf8"/><rect x="560" y="250" width="11" height="11" fill="#2fb2f4"/><rect x="570" y="250" width="11" height="11" fill="#28bceb"/><rect x="580" y="250" width="11" height="11" fill="#23c3e4"/><rect x="590" y="250" width="11" height="11" fill="#1ecbda"/><rect x="600" y="250" width="11" height="11" fill="#1ad4d0"/><rect x="610" y="250" width="11" height="11" fill="#19d5cd"/><rect x="620" y="250" width="21" height="11" fill="#1ad4d0"/><rect x="640" y="250" width="11" height="11" fill="#1ad2d2"/><rect x="650" y="250" width="11" height="11" fill="#1bd0d5"/><rect x="660" y="250" width="11" height="11" fill="#1fc9dd"/><rect x="670" y="250" width="11" height="11" fill="#23c3e4"/><rect x="680" y="250" width="11" height="11" fill="#2cb7f0"/><rect x="690" y="250" width="11" height="11" fill="#35abf8"/><rect x="700" y="250" width="11" height="11" fill="#3e9bfe"/><rect x="710" y="250" width="11" height="11" fill="#458cfd"/><rect x="720" y="250" width="11" height="11" fill="#4687fb"/><rect x="340" y="260" width="41" height="11" fill="#4687fb"/><rect x="380" y="260" width="11" height="11" fill="#458cfd"/><rect x="390" y="260" width="11" height="11" fill="#4196ff"/><rect x="400" y="260" width="11" height="11" fill="#3aa3fc"/><rect x="410" y="260" width="11" height="11" fill="#2fb2f4"/><rect x="420" y="260" width="11" height="11" fill="#28bceb"/><rect x="430" y="260" width="11" height="11" fill="#27bee9"/><rect x="440" y="260" width="51" height="11" fill="#25c0e7"/><rect x="490" y="260" width="11" height="11" fill="#28bceb"/><rect x="500" y="260" width="11" height="11" fill="#2ab9ee"/><rect x="510" y="260" width="11" height="11" fill="#2cb7f0"/><rect x="520" y="260" width="11" height="11" fill="#33adf7"/><rect x="530" y="260" width="11" height="11" fill="#35abf8"/><rect x="540" y="260" width="11" height="11" fill="#2cb7f0"/><rect x="550" y="260" width="11" height="11" fill="#25c0e7"/><rect x="560" y="260" width="11" height="11" fill="#1fc9dd"/><rect x="570" y="260" width="11" height="11" fill="#1ad2d2"/><rect x="580" y="260" width="11" height="11" fill="#18d7ca"/><rect x="590" y="260" width="11" height="11" fill="#18dec0"/><rect x="600" y="260" width="11" height="11" fill="#19e2bb"/><rect x="610" y="260" width="11" height="11" fill="#18e0bd"/><rect x="620" y="260" width="11" height="11" fill="#18ddc2"/><rect x="630" y="260" width="11" height="11" fill="#18d9c8"/><rect x="640" y="260" width="11" height="11" fill="#19d5cd"/><rect x="650" y="260" width="11" height="11" fill="#1bd0d5"/><rect x="660" y="260" width="11" height="11" fill="#1fc9dd"/><rect x="670" y="260" width="11" height="11" fill="#25c0e7"/><rect x="680" y="260" width="11" height="11" fill="#2eb4f2"/><rect x="690" y="260" width="11" height="11" fill="#38a5fb"/><rect x="700" y="260" width="11" height="11" fill="#4099ff"/><rect x="710" y="260" width="11" height="11" fill="#458afc"/><rect x="720" y="260" width="11" height="11" fill="#4687fb"/><rect x="340" y="270" width="51" height="11" fill="#4687fb"/><rect x="390" y="270" width="11" height="11" fill="#448ffe"/><rect x="400" y="270" width="11" height="11" fill="#3d9efe"/><rect x="410" y="270" width="11" height="11" fill="#31aff5"/><rect x="420" y="270" width="11" height="11" fill="#28bceb"/><rect x="430" y="270" width="11" height="11" fill="#25c0e7"/><rect x="440" y="270" width="11" height="11" fill="#22c5e2"/><rect x="450" y="270" width="11" height="11" fill="#1ccdd8"/><rect x="460" y="270" width="31" height="11" fill="#1ad2d2"/><rect x="490" y="270" width="31" height="11" fill="#1ccdd8"/><rect x="520" y="270" width="11" height="11" fill="#1fc9dd"/><rect x="530" y="270" width="11" height="11" fill="#22c5e2"/><rect x="540" y="270" width="11" height="11" fill="#1fc9dd"/><rect x="550" y="270" width="11" height="11" fill="#1bd0d5"/><rect x="560" y="270" width="11" height="11" fill="#1ad4d0"/><rect x="570" y="270" width="11" height="11" fill="#18d7ca"/><rect x="580" y="270" width="11" height="11" fill="#18d9c8"/><rect x="590" y="270" width="11" height="11" fill="#18ddc2"/><rect x="600" y="270" width="11" height="11" fill="#18e0bd"/><rect x="610" y="270" width="11" height="11" fill="#18ddc2"/><rect x="620" y="270" width="11" height="11" fill="#18d9c8"/><rect x="630" y="270" width="11" height="11" fill="#19d5cd"/><rect x="640" y="270" width="11" height="11" fill="#1ad2d2"/><rect x="650" y="270" width="11" height="11" fill="#1fc9dd"/><rect x="660" y="270" width="11" height="11" fill="#25c0e7"/><rect x="670" y="270" width="11" height="11" fill="#2cb7f0"/><rect x="680" y="270" width="11" height="11" fill="#35abf8"/><rect x="690" y="270" width="11" height="11" fill="#3e9bfe"/><rect x="700" y="270" width="11" height="11" fill="#448ffe"/><rect x="710" y="270" width="21" height="11" fill="#4687fb"/><rect x="340" y="280" width="61" height="11" fill="#4687fb"/><rect x="400" y="280" width="11" height="11" fill="#4196ff"/><rect x="410" y="280" width="11" height="11" fill="#33adf7"/><rect x="420" y="280" width="11" height="11" fill="#28bceb"/><rect x="430" y="280" width="11" height="11" fill="#25c0e7"/><rect x="440" y="280" width="11" height="11" fill="#1bd0d5"/><rect x="450" y="280" width="11" height="11" fill="#18dbc5"/><rect x="460" y="280" width="21" height="11" fill="#18e0bd"/><rect x="480" y="280" width="11" height="11" fill="#18ddc2"/><rect x="490" y="280" width="21" height="11" fill="#18dbc5"/><rect x="510" y="280" width="11" height="11" fill="#18d9c8"/><rect x="520" y="280" width="11" height="11" fill="#18d7ca"/><rect x="530" y="280" width="31" height="11" fill="#1ad4d0"/><rect x="560" y="280" width="11" height="11" fill="#19d5cd"/><rect x="570" y="280" width="41" height="11" fill="#18d7ca"/><rect x="610" y="280" width="11" height="11" fill="#19d5cd"/><rect x="620" y="280" width="11" height="11" fill="#1ad2d2"/><rect x="630" y="280" width="11" height="11" fill="#1ccdd8"/><rect x="640" y="280" width="11" height="11" fill="#1fc9dd"/><rect x="650" y="280" width="11" height="11" fill="#27bee9"/><rect x="660" y="280" width="11" height="11" fill="#2fb2f4"/><rect x="670" y="280" width="11" height="11" fill="#38a5fb"/><rect x="680" y="280" width="11" height="11" fill="#3e9bfe"/><rect x="690" y="280" width="11" height="11" fill="#448ffe"/><rect x="700" y="280" width="31" height="11" fill="#4687fb"/><rect x="340" y="290" width="61" height="11" fill="#4687fb"/><rect x="400" y="290" width="11" height="11" fill="#458afc"/><rect x="410" y="290" width="11" height="11" fill="#4099ff"/><rect x="420" y="290" width="11" height="11" fill="#25c0e7"/><rect x="430" y="290" width="11" height="11" fill="#1ad2d2"/><rect x="440" y="290" width="11" height="11" fill="#18ddc2"/><rect x="450" y="290" width="11" height="11" fill="#19e3b9"/><rect x="460" y="290" width="11" height="11" fill="#1ae4b6"/><rect x="470" y="290" width="11" height="11" fill="#19e3b9"/><rect x="480" y="290" width="11" height="11" fill="#19e2bb"/><rect x="490" y="290" width="11" height="11" fill="#18e0bd"/><rect x="500" y="290" width="11" height="11" fill="#18ddc2"/><rect x="510" y="290" width="11" height="11" fill="#18dbc5"/><rect x="520" y="290" width="11" height="11" fill="#18d9c8"/><rect x="530" y="290" width="11" height="11" fill="#19d5cd"/><rect x="540" y="290" width="21" height="11" fill="#1ad4d0"/><rect x="560" y="290" width="11" height="11" fill="#1ad2d2"/><rect x="570" y="290" width="11" height="11" fill="#1bd0d5"/><rect x="580" y="290" width="11" height="11" fill="#1ccdd8"/><rect x="590" y="290" width="11" height="11" fill="#1ecbda"/><rect x="600" y="290" width="11" height="11" fill="#1fc9dd"/><rect x="610" y="290" width="11" height="11" fill="#20c7df"/><rect x="620" y="290" width="11" height="11" fill="#25c0e7"/><rect x="630" y="290" width="11" height="11" fill="#2ab9ee"/><rect x="640" y="290" width="11" height="11" fill="#2eb4f2"/><rect x="650" y="290" width="11" height="11" fill="#35abf8"/><rect x="660" y="290" width="11" height="11" fill="#3e9bfe"/><rect x="670" y="290" width="11" height="11" fill="#4391fe"/><rect x="680" y="290" width="11" height="11" fill="#458afc"/><rect x="690" y="290" width="41" height="11" fill="#4687fb"/><rect x="340" y="300" width="51" height="11" fill="#4687fb"/><rect x="390" y="300" width="11" height="11" fill="#448ffe"/><rect x="400" y="300" width="11" height="11" fill="#4099ff"/><rect x="410" y="300" width="11" height="11" fill="#3ba0fd"/><rect x="420" y="300" width="11" height="11" fill="#1ecbda"/><rect x="430" y="300" width="11" height="11" fill="#18e0bd"/><rect x="440" y="300" width="21" height="11" fill="#19e3b9"/><rect x="460" y="300" width="11" height="11" fill="#19e2bb"/><rect x="470" y="300" width="11" height="11" fill="#18e0bd"/><rect x="480" y="300" width="11" height="11" fill="#18dec0"/><rect x="490" y="300" width="11" height="11" fill="#18ddc2"/><rect x="500" y="300" width="11" height="11" fill="#18d9c8"/><rect x="510" y="300" width="11" height="11" fill="#19d5cd"/><rect x="520" y="300" width="11" height="11" fill="#1ad4d0"/><rect x="530" y="300" width="11" height="11" fill="#1bd0d5"/><rect x="540" y="300" width="21" height="11" fill="#1ecbda"/><rect x="560" y="300" width="11" height="11" fill="#1fc9dd"/><rect x="570" y="300" width="11" height="11" fill="#22c5e2"/><rect x="580" y="300" width="11" height="11" fill="#27bee9"/><rect x="590" y="300" width="11" height="11" fill="#2ab9ee"/><rect x="600" y="300" width="11" height="11" fill="#2cb7f0"/><rect x="610" y="300" width="11" height="11" fill="#31aff5"/><rect x="620" y="300" width="11" height="11" fill="#35abf8"/><rect x="630" y="300" width="11" height="11" fill="#3aa3fc"/><rect x="640" y="300" width="11" height="11" fill="#4099ff"/><rect x="650" y="300" width="11" height="11" fill="#448ffe"/><rect x="660" y="300" width="71" height="11" fill="#4687fb"/><rect x="340" y="310" width="41" height="11" fill="#4687fb"/><rect x="380" y="310" width="11" height="11" fill="#458cfd"/><rect x="390" y="310" width="11" height="11" fill="#38a5fb"/><rect x="400" y="310" width="11" height="11" fill="#27bee9"/><rect x="410" y="310" width="11" height="11" fill="#1ccdd8"/><rect x="420" y="310" width="11" height="11" fill="#18d7ca"/><rect x="430" y="310" width="31" height="11" fill="#18dec0"/><rect x="460" y="310" width="11" height="11" fill="#18dbc5"/><rect x="470" y="310" width="11" height="11" fill="#18d7ca"/><rect x="480" y="310" width="11" height="11" fill="#19d5cd"/><rect x="490" y="310" width="11" height="11" fill="#1ad4d0"/><rect x="500" y="310" width="11" height="11" fill="#1bd0d5"/><rect x="510" y="310" width="11" height="11" fill="#1ccdd8"/><rect x="520" y="310" width="11" height="11" fill="#1fc9dd"/><rect x="530" y="310" width="11" height="11" fill="#23c3e4"/><rect x="540" y="310" width="31" height="11" fill="#2ab9ee"/><rect x="570" y="310" width="11" height="11" fill="#2eb4f2"/><rect x="580" y="310" width="11" height="11" fill="#33adf7"/><rect x="590" y="310" width="11" height="11" fill="#38a5fb"/><rect x="600" y="310" width="11" height="11" fill="#3aa3fc"/><rect x="610" y="310" width="11" height="11" fill="#3e9bfe"/><rect x="620" y="310" width="11" height="11" fill="#4294ff"/><rect x="630" y="310" width="11" height="11" fill="#458cfd"/><rect x="640" y="310" width="91" height="11" fill="#4687fb"/><rect x="340" y="320" width="21" height="11" fill="#4687fb"/><rect x="360" y="320" width="11" height="11" fill="#458afc"/><rect x="370" y="320" width="11" height="11" fill="#458cfd"/><rect x="380" y="320" width="11" height="11" fill="#4196ff"/><rect x="390" y="320" width="11" height="11" fill="#2ab9ee"/><rect x="400" y="320" width="11" height="11" fill="#1ad2d2"/><rect x="410" y="320" width="21" height="11" fill="#18dbc5"/><rect x="430" y="320" width="11" height="11" fill="#18d7ca"/><rect x="440" y="320" width="21" height="11" fill="#19d5cd"/><rect x="460" y="320" width="11" height="11" fill="#1ad2d2"/><rect x="470" y="320" width="11" height="11" fill="#1ccdd8"/><rect x="480" y="320" width="11" height="11" fill="#1fc9dd"/><rect x="490" y="320" width="11" height="11" fill="#22c5e2"/><rect x="500" y="320" width="11" height="11" fill="#23c3e4"/><rect x="510" y="320" width="11" height="11" fill="#28bceb"/><rect x="520" y="320" width="11" height="11" fill="#2eb4f2"/><rect x="530" y="320" width="11" height="11" fill="#37a8fa"/><rect x="540" y="320" width="11" height="11" fill="#3d9efe"/><rect x="550" y="320" width="11" height="11" fill="#3aa3fc"/><rect x="560" y="320" width="11" height="11" fill="#38a5fb"/><rect x="570" y="320" width="11" height="11" fill="#3ba0fd"/><rect x="580" y="320" width="11" height="11" fill="#3e9bfe"/><rect x="590" y="320" width="11" height="11" fill="#4294ff"/><rect x="600" y="320" width="11" height="11" fill="#448ffe"/><rect x="610" y="320" width="121" height="11" fill="#4687fb"/><rect x="340" y="330" width="11" height="11" fill="#4687fb"/><rect x="350" y="330" width="11" height="11" fill="#448ffe"/><rect x="360" y="330" width="11" height="11" fill="#3e9bfe"/><rect x="370" y="330" width="11" height="11" fill="#3ba0fd"/><rect x="380" y="330" width="11" height="11" fill="#37a8fa"/><rect x="390" y="330" width="11" height="11" fill="#22c5e2"/><rect x="400" y="330" width="11" height="11" fill="#1bd0d5"/><rect x="410" y="330" width="11" height="11" fill="#1ad2d2"/><rect x="420" y="330" width="11" height="11" fill="#1bd0d5"/><rect x="430" y="330" width="11" height="11" fill="#1ccdd8"/><rect x="440" y="330" width="11" height="11" fill="#1fc9dd"/><rect x="450" y="330" width="11" height="11" fill="#20c7df"/><rect x="460" y="330" width="11" height="11" fill="#23c3e4"/><rect x="470" y="330" width="11" height="11" fill="#28bceb"/><rect x="480" y="330" width="11" height="11" fill="#2cb7f0"/><rect x="490" y="330" width="11" height="11" fill="#31aff5"/><rect x="500" y="330" width="11" height="11" fill="#33adf7"/><rect x="510" y="330" width="11" height="11" fill="#37a8fa"/><rect x="520" y="330" width="11" height="11" fill="#3d9efe"/><rect x="530" y="330" width="11" height="11" fill="#4294ff"/><rect x="540" y="330" width="21" height="11" fill="#448ffe"/><rect x="560" y="330" width="11" height="11" fill="#4391fe"/><rect x="570" y="330" width="11" height="11" fill="#448ffe"/><rect x="580" y="330" width="11" height="11" fill="#458afc"/><rect x="590" y="330" width="141" height="11" fill="#4687fb"/><rect x="340" y="340" width="11" height="11" fill="#4687fb"/><rect x="350" y="340" width="11" height="11" fill="#4391fe"/><rect x="360" y="340" width="11" height="11" fill="#3aa3fc"/><rect x="370" y="340" width="11" height="11" fill="#31aff5"/><rect x="380" y="340" width="11" height="11" fill="#2eb4f2"/><rect x="390" y="340" width="11" height="11" fill="#25c0e7"/><rect x="400" y="340" width="21" height="11" fill="#22c5e2"/><rect x="420" y="340" width="11" height="11" fill="#25c0e7"/><rect x="430" y="340" width="11" height="11" fill="#27bee9"/><rect x="440" y="340" width="11" height="11" fill="#2ab9ee"/><rect x="450" y="340" width="11" height="11" fill="#31aff5"/><rect x="460" y="340" width="11" height="11" fill="#35abf8"/><rect x="470" y="340" width="11" height="11" fill="#3aa3fc"/><rect x="480" y="340" width="11" height="11" fill="#3e9bfe"/><rect x="490" y="340" width="21" height="11" fill="#4196ff"/><rect x="510" y="340" width="11" height="11" fill="#4294ff"/><rect x="520" y="340" width="21" height="11" fill="#448ffe"/><rect x="540" y="340" width="11" height="11" fill="#458cfd"/><rect x="550" y="340" width="181" height="11" fill="#4687fb"/><rect x="340" y="350" width="11" height="11" fill="#4687fb"/><rect x="350" y="350" width="11" height="11" fill="#448ffe"/><rect x="360" y="350" width="11" height="11" fill="#3e9bfe"/><rect x="370" y="350" width="11" height="11" fill="#3aa3fc"/><rect x="380" y="350" width="11" height="11" fill="#37a8fa"/><rect x="390" y="350" width="11" height="11" fill="#33adf7"/><rect x="400" y="350" width="21" height="11" fill="#31aff5"/><rect x="420" y="350" width="11" height="11" fill="#33adf7"/><rect x="430" y="350" width="11" height="11" fill="#35abf8"/><rect x="440" y="350" width="11" height="11" fill="#3aa3fc"/><rect x="450" y="350" width="11" height="11" fill="#4294ff"/><rect x="460" y="350" width="11" height="11" fill="#458cfd"/><rect x="470" y="350" width="11" height="11" fill="#458afc"/><rect x="480" y="350" width="251" height="11" fill="#4687fb"/><rect x="340" y="360" width="11" height="11" fill="#458afc"/><rect x="350" y="360" width="11" height="11" fill="#4391fe"/><rect x="360" y="360" width="61" height="11" fill="#4196ff"/><rect x="420" y="360" width="11" height="11" fill="#4294ff"/><rect x="430" y="360" width="11" height="11" fill="#4391fe"/><rect x="440" y="360" width="11" height="11" fill="#458afc"/><rect x="450" y="360" width="281" height="11" fill="#4687fb"/><rect x="340" y="370" width="11" height="11" fill="#4687fb"/><rect x="350" y="370" width="11" height="11" fill="#458cfd"/><rect x="360" y="370" width="11" height="11" fill="#448ffe"/><rect x="370" y="370" width="11" height="11" fill="#458cfd"/><rect x="380" y="370" width="11" height="11" fill="#458afc"/><rect x="390" y="370" width="341" height="11" fill="#4687fb"/></g></g>
<g clip-path="url(#wC)"><g filter="url(#fwC)"><rect x="655" y="490" width="85" height="13" fill="#458afc"/><rect x="739" y="490" width="49" height="13" fill="#458cfd"/><rect x="787" y="490" width="25" height="13" fill="#458afc"/><rect x="811" y="490" width="37" height="13" fill="#458cfd"/><rect x="847" y="490" width="25" height="13" fill="#458afc"/><rect x="871" y="490" width="61" height="13" fill="#458cfd"/><rect x="931" y="490" width="25" height="13" fill="#458afc"/><rect x="955" y="490" width="37" height="13" fill="#4687fb"/><rect x="655" y="502" width="25" height="13" fill="#458afc"/><rect x="679" y="502" width="49" height="13" fill="#458cfd"/><rect x="727" y="502" width="25" height="13" fill="#448ffe"/><rect x="751" y="502" width="109" height="13" fill="#4391fe"/><rect x="859" y="502" width="13" height="13" fill="#448ffe"/><rect x="871" y="502" width="25" height="13" fill="#4391fe"/><rect x="895" y="502" width="49" height="13" fill="#448ffe"/><rect x="943" y="502" width="13" height="13" fill="#458afc"/><rect x="955" y="502" width="37" height="13" fill="#4687fb"/><rect x="655" y="514" width="13" height="13" fill="#458afc"/><rect x="667" y="514" width="25" height="13" fill="#458cfd"/><rect x="691" y="514" width="13" height="13" fill="#448ffe"/><rect x="703" y="514" width="25" height="13" fill="#4391fe"/><rect x="727" y="514" width="25" height="13" fill="#4294ff"/><rect x="751" y="514" width="73" height="13" fill="#4196ff"/><rect x="823" y="514" width="25" height="13" fill="#4099ff"/><rect x="847" y="514" width="49" height="13" fill="#4196ff"/><rect x="895" y="514" width="25" height="13" fill="#4294ff"/><rect x="919" y="514" width="13" height="13" fill="#4391fe"/><rect x="931" y="514" width="13" height="13" fill="#448ffe"/><rect x="943" y="514" width="13" height="13" fill="#458cfd"/><rect x="955" y="514" width="37" height="13" fill="#4687fb"/><rect x="655" y="526" width="25" height="13" fill="#458afc"/><rect x="679" y="526" width="13" height="13" fill="#458cfd"/><rect x="691" y="526" width="13" height="13" fill="#448ffe"/><rect x="703" y="526" width="13" height="13" fill="#4391fe"/><rect x="715" y="526" width="25" height="13" fill="#4196ff"/><rect x="739" y="526" width="25" height="13" fill="#4099ff"/><rect x="763" y="526" width="49" height="13" fill="#3e9bfe"/><rect x="811" y="526" width="49" height="13" fill="#3d9efe"/><rect x="859" y="526" width="37" height="13" fill="#3e9bfe"/><rect x="895" y="526" width="13" height="13" fill="#4099ff"/><rect x="907" y="526" width="25" height="13" fill="#4196ff"/><rect x="931" y="526" width="13" height="13" fill="#4391fe"/><rect x="943" y="526" width="13" height="13" fill="#458cfd"/><rect x="955" y="526" width="37" height="13" fill="#4687fb"/><rect x="655" y="538" width="13" height="13" fill="#4687fb"/><rect x="667" y="538" width="25" height="13" fill="#458afc"/><rect x="691" y="538" width="13" height="13" fill="#448ffe"/><rect x="703" y="538" width="13" height="13" fill="#4391fe"/><rect x="715" y="538" width="13" height="13" fill="#4196ff"/><rect x="727" y="538" width="25" height="13" fill="#4099ff"/><rect x="751" y="538" width="13" height="13" fill="#3e9bfe"/><rect x="763" y="538" width="25" height="13" fill="#3d9efe"/><rect x="787" y="538" width="73" height="13" fill="#3ba0fd"/><rect x="859" y="538" width="49" height="13" fill="#3d9efe"/><rect x="907" y="538" width="13" height="13" fill="#3e9bfe"/><rect x="919" y="538" width="13" height="13" fill="#4099ff"/><rect x="931" y="538" width="13" height="13" fill="#4294ff"/><rect x="943" y="538" width="13" height="13" fill="#448ffe"/><rect x="955" y="538" width="13" height="13" fill="#458afc"/><rect x="967" y="538" width="25" height="13" fill="#4687fb"/><rect x="655" y="550" width="25" height="13" fill="#4687fb"/><rect x="679" y="550" width="13" height="13" fill="#458afc"/><rect x="691" y="550" width="13" height="13" fill="#458cfd"/><rect x="703" y="550" width="13" height="13" fill="#4391fe"/><rect x="715" y="550" width="13" height="13" fill="#4196ff"/><rect x="727" y="550" width="13" height="13" fill="#4099ff"/><rect x="739" y="550" width="25" height="13" fill="#3e9bfe"/><rect x="763" y="550" width="13" height="13" fill="#3d9efe"/><rect x="775" y="550" width="13" height="13" fill="#3ba0fd"/><rect x="787" y="550" width="61" height="13" fill="#3aa3fc"/><rect x="847" y="550" width="25" height="13" fill="#3ba0fd"/><rect x="871" y="550" width="37" height="13" fill="#3d9efe"/><rect x="907" y="550" width="13" height="13" fill="#3e9bfe"/><rect x="919" y="550" width="13" height="13" fill="#4099ff"/><rect x="931" y="550" width="13" height="13" fill="#4294ff"/><rect x="943" y="550" width="13" height="13" fill="#448ffe"/><rect x="955" y="550" width="37" height="13" fill="#4687fb"/><rect x="655" y="562" width="25" height="13" fill="#4687fb"/><rect x="679" y="562" width="13" height="13" fill="#458afc"/><rect x="691" y="562" width="13" height="13" fill="#448ffe"/><rect x="703" y="562" width="13" height="13" fill="#4391fe"/><rect x="715" y="562" width="13" height="13" fill="#4196ff"/><rect x="727" y="562" width="13" height="13" fill="#4099ff"/><rect x="739" y="562" width="13" height="13" fill="#3e9bfe"/><rect x="751" y="562" width="13" height="13" fill="#3d9efe"/><rect x="763" y="562" width="25" height="13" fill="#3ba0fd"/><rect x="787" y="562" width="49" height="13" fill="#3aa3fc"/><rect x="835" y="562" width="25" height="13" fill="#3ba0fd"/><rect x="859" y="562" width="13" height="13" fill="#3d9efe"/><rect x="871" y="562" width="37" height="13" fill="#3e9bfe"/><rect x="907" y="562" width="13" height="13" fill="#4099ff"/><rect x="919" y="562" width="13" height="13" fill="#4294ff"/><rect x="931" y="562" width="13" height="13" fill="#4391fe"/><rect x="943" y="562" width="13" height="13" fill="#458cfd"/><rect x="955" y="562" width="37" height="13" fill="#4687fb"/><rect x="655" y="574" width="25" height="13" fill="#4687fb"/><rect x="679" y="574" width="13" height="13" fill="#458cfd"/><rect x="691" y="574" width="13" height="13" fill="#448ffe"/><rect x="703" y="574" width="13" height="13" fill="#4294ff"/><rect x="715" y="574" width="13" height="13" fill="#4099ff"/><rect x="727" y="574" width="13" height="13" fill="#3e9bfe"/><rect x="739" y="574" width="13" height="13" fill="#3d9efe"/><rect x="751" y="574" width="25" height="13" fill="#3ba0fd"/><rect x="775" y="574" width="37" height="13" fill="#3aa3fc"/><rect x="811" y="574" width="37" height="13" fill="#3ba0fd"/><rect x="847" y="574" width="13" height="13" fill="#3d9efe"/><rect x="859" y="574" width="13" height="13" fill="#4099ff"/><rect x="871" y="574" width="37" height="13" fill="#4196ff"/><rect x="907" y="574" width="13" height="13" fill="#4294ff"/><rect x="919" y="574" width="13" height="13" fill="#4391fe"/><rect x="931" y="574" width="13" height="13" fill="#448ffe"/><rect x="943" y="574" width="13" height="13" fill="#458cfd"/><rect x="955" y="574" width="37" height="13" fill="#4687fb"/><rect x="655" y="586" width="13" height="13" fill="#4687fb"/><rect x="667" y="586" width="13" height="13" fill="#458afc"/><rect x="679" y="586" width="13" height="13" fill="#458cfd"/><rect x="691" y="586" width="13" height="13" fill="#448ffe"/><rect x="703" y="586" width="13" height="13" fill="#4294ff"/><rect x="715" y="586" width="13" height="13" fill="#4196ff"/><rect x="727" y="586" width="13" height="13" fill="#4099ff"/><rect x="739" y="586" width="13" height="13" fill="#3e9bfe"/><rect x="751" y="586" width="13" height="13" fill="#3d9efe"/><rect x="763" y="586" width="61" height="13" fill="#3ba0fd"/><rect x="823" y="586" width="25" height="13" fill="#3d9efe"/><rect x="847" y="586" width="13" height="13" fill="#4099ff"/><rect x="859" y="586" width="13" height="13" fill="#4196ff"/><rect x="871" y="586" width="13" height="13" fill="#4294ff"/><rect x="883" y="586" width="13" height="13" fill="#4391fe"/><rect x="895" y="586" width="13" height="13" fill="#4294ff"/><rect x="907" y="586" width="25" height="13" fill="#4391fe"/><rect x="931" y="586" width="13" height="13" fill="#448ffe"/><rect x="943" y="586" width="13" height="13" fill="#458cfd"/><rect x="955" y="586" width="37" height="13" fill="#4687fb"/><rect x="655" y="598" width="25" height="13" fill="#4687fb"/><rect x="679" y="598" width="13" height="13" fill="#458afc"/><rect x="691" y="598" width="13" height="13" fill="#448ffe"/><rect x="703" y="598" width="13" height="13" fill="#4391fe"/><rect x="715" y="598" width="13" height="13" fill="#4294ff"/><rect x="727" y="598" width="13" height="13" fill="#4196ff"/><rect x="739" y="598" width="13" height="13" fill="#4099ff"/><rect x="751" y="598" width="13" height="13" fill="#3d9efe"/><rect x="763" y="598" width="49" height="13" fill="#3ba0fd"/><rect x="811" y="598" width="25" height="13" fill="#3d9efe"/><rect x="835" y="598" width="13" height="13" fill="#3e9bfe"/><rect x="847" y="598" width="13" height="13" fill="#4196ff"/><rect x="859" y="598" width="13" height="13" fill="#4294ff"/><rect x="871" y="598" width="61" height="13" fill="#4391fe"/><rect x="931" y="598" width="13" height="13" fill="#448ffe"/><rect x="943" y="598" width="13" height="13" fill="#458cfd"/><rect x="955" y="598" width="13" height="13" fill="#458afc"/><rect x="967" y="598" width="25" height="13" fill="#4687fb"/><rect x="655" y="610" width="25" height="13" fill="#4687fb"/><rect x="679" y="610" width="13" height="13" fill="#458afc"/><rect x="691" y="610" width="13" height="13" fill="#458cfd"/><rect x="703" y="610" width="13" height="13" fill="#448ffe"/><rect x="715" y="610" width="13" height="13" fill="#4391fe"/><rect x="727" y="610" width="13" height="13" fill="#4294ff"/><rect x="739" y="610" width="13" height="13" fill="#4196ff"/><rect x="751" y="610" width="13" height="13" fill="#3e9bfe"/><rect x="763" y="610" width="13" height="13" fill="#3d9efe"/><rect x="775" y="610" width="25" height="13" fill="#3ba0fd"/><rect x="799" y="610" width="25" height="13" fill="#3d9efe"/><rect x="823" y="610" width="13" height="13" fill="#3e9bfe"/><rect x="835" y="610" width="13" height="13" fill="#4099ff"/><rect x="847" y="610" width="13" height="13" fill="#4294ff"/><rect x="859" y="610" width="13" height="13" fill="#4391fe"/><rect x="871" y="610" width="13" height="13" fill="#448ffe"/><rect x="883" y="610" width="49" height="13" fill="#4391fe"/><rect x="931" y="610" width="13" height="13" fill="#448ffe"/><rect x="943" y="610" width="13" height="13" fill="#458cfd"/><rect x="955" y="610" width="13" height="13" fill="#458afc"/><rect x="967" y="610" width="25" height="13" fill="#4687fb"/><rect x="655" y="622" width="37" height="13" fill="#4687fb"/><rect x="691" y="622" width="25" height="13" fill="#458afc"/><rect x="715" y="622" width="13" height="13" fill="#458cfd"/><rect x="727" y="622" width="13" height="13" fill="#448ffe"/><rect x="739" y="622" width="13" height="13" fill="#4294ff"/><rect x="751" y="622" width="13" height="13" fill="#4099ff"/><rect x="763" y="622" width="13" height="13" fill="#3e9bfe"/><rect x="775" y="622" width="13" height="13" fill="#3d9efe"/><rect x="787" y="622" width="37" height="13" fill="#3e9bfe"/><rect x="823" y="622" width="13" height="13" fill="#4099ff"/><rect x="835" y="622" width="13" height="13" fill="#4196ff"/><rect x="847" y="622" width="13" height="13" fill="#4294ff"/><rect x="859" y="622" width="37" height="13" fill="#4391fe"/><rect x="895" y="622" width="37" height="13" fill="#4294ff"/><rect x="931" y="622" width="13" height="13" fill="#4391fe"/><rect x="943" y="622" width="13" height="13" fill="#448ffe"/><rect x="955" y="622" width="13" height="13" fill="#458cfd"/><rect x="967" y="622" width="13" height="13" fill="#458afc"/><rect x="979" y="622" width="13" height="13" fill="#4687fb"/><rect x="655" y="634" width="61" height="13" fill="#4687fb"/><rect x="715" y="634" width="13" height="13" fill="#458afc"/><rect x="727" y="634" width="13" height="13" fill="#458cfd"/><rect x="739" y="634" width="13" height="13" fill="#448ffe"/><rect x="751" y="634" width="13" height="13" fill="#4294ff"/><rect x="763" y="634" width="73" height="13" fill="#4196ff"/><rect x="835" y="634" width="25" height="13" fill="#4294ff"/><rect x="859" y="634" width="25" height="13" fill="#4391fe"/><rect x="883" y="634" width="25" height="13" fill="#4294ff"/><rect x="907" y="634" width="37" height="13" fill="#4196ff"/><rect x="943" y="634" width="13" height="13" fill="#4294ff"/><rect x="955" y="634" width="13" height="13" fill="#448ffe"/><rect x="967" y="634" width="13" height="13" fill="#458cfd"/><rect x="979" y="634" width="13" height="13" fill="#4687fb"/><rect x="655" y="646" width="73" height="13" fill="#4687fb"/><rect x="727" y="646" width="13" height="13" fill="#458afc"/><rect x="739" y="646" width="13" height="13" fill="#458cfd"/><rect x="751" y="646" width="13" height="13" fill="#448ffe"/><rect x="763" y="646" width="121" height="13" fill="#4391fe"/><rect x="883" y="646" width="25" height="13" fill="#4294ff"/><rect x="907" y="646" width="37" height="13" fill="#4196ff"/><rect x="943" y="646" width="13" height="13" fill="#4294ff"/><rect x="955" y="646" width="13" height="13" fill="#448ffe"/><rect x="967" y="646" width="13" height="13" fill="#458cfd"/><rect x="979" y="646" width="13" height="13" fill="#4687fb"/><rect x="655" y="658" width="97" height="13" fill="#4687fb"/><rect x="751" y="658" width="13" height="13" fill="#458afc"/><rect x="763" y="658" width="37" height="13" fill="#458cfd"/><rect x="799" y="658" width="97" height="13" fill="#448ffe"/><rect x="895" y="658" width="25" height="13" fill="#4391fe"/><rect x="919" y="658" width="13" height="13" fill="#4294ff"/><rect x="931" y="658" width="13" height="13" fill="#4391fe"/><rect x="943" y="658" width="13" height="13" fill="#448ffe"/><rect x="955" y="658" width="13" height="13" fill="#458cfd"/><rect x="967" y="658" width="13" height="13" fill="#458afc"/><rect x="979" y="658" width="13" height="13" fill="#4687fb"/><rect x="655" y="670" width="121" height="13" fill="#4687fb"/><rect x="775" y="670" width="49" height="13" fill="#458afc"/><rect x="823" y="670" width="121" height="13" fill="#458cfd"/><rect x="943" y="670" width="25" height="13" fill="#458afc"/><rect x="967" y="670" width="25" height="13" fill="#4687fb"/><rect x="655" y="682" width="337" height="13" fill="#4687fb"/></g></g>
<g clip-path="url(#wCa)"><g filter="url(#fwCa)"><rect x="385" y="580" width="31" height="7" fill="#4687fb"/><rect x="415" y="580" width="37" height="7" fill="#458afc"/><rect x="451" y="580" width="49" height="7" fill="#4687fb"/><rect x="385" y="586" width="25" height="7" fill="#4687fb"/><rect x="409" y="586" width="7" height="7" fill="#458afc"/><rect x="415" y="586" width="13" height="7" fill="#458cfd"/><rect x="427" y="586" width="13" height="7" fill="#448ffe"/><rect x="439" y="586" width="13" height="7" fill="#458cfd"/><rect x="451" y="586" width="13" height="7" fill="#458afc"/><rect x="463" y="586" width="37" height="7" fill="#4687fb"/><rect x="385" y="592" width="19" height="7" fill="#4687fb"/><rect x="403" y="592" width="7" height="7" fill="#458afc"/><rect x="409" y="592" width="7" height="7" fill="#458cfd"/><rect x="415" y="592" width="7" height="7" fill="#448ffe"/><rect x="421" y="592" width="25" height="7" fill="#4391fe"/><rect x="445" y="592" width="7" height="7" fill="#448ffe"/><rect x="451" y="592" width="13" height="7" fill="#458cfd"/><rect x="463" y="592" width="13" height="7" fill="#458afc"/><rect x="475" y="592" width="25" height="7" fill="#4687fb"/><rect x="385" y="598" width="13" height="7" fill="#4687fb"/><rect x="397" y="598" width="7" height="7" fill="#458afc"/><rect x="403" y="598" width="7" height="7" fill="#458cfd"/><rect x="409" y="598" width="7" height="7" fill="#448ffe"/><rect x="415" y="598" width="7" height="7" fill="#4391fe"/><rect x="421" y="598" width="7" height="7" fill="#4294ff"/><rect x="427" y="598" width="7" height="7" fill="#4196ff"/><rect x="433" y="598" width="13" height="7" fill="#4294ff"/><rect x="445" y="598" width="13" height="7" fill="#4391fe"/><rect x="457" y="598" width="7" height="7" fill="#448ffe"/><rect x="463" y="598" width="25" height="7" fill="#458cfd"/><rect x="487" y="598" width="13" height="7" fill="#458afc"/><rect x="385" y="604" width="7" height="7" fill="#4687fb"/><rect x="391" y="604" width="7" height="7" fill="#458afc"/><rect x="397" y="604" width="7" height="7" fill="#458cfd"/><rect x="403" y="604" width="7" height="7" fill="#448ffe"/><rect x="409" y="604" width="7" height="7" fill="#4391fe"/><rect x="415" y="604" width="7" height="7" fill="#4294ff"/><rect x="421" y="604" width="19" height="7" fill="#4099ff"/><rect x="439" y="604" width="7" height="7" fill="#4196ff"/><rect x="445" y="604" width="13" height="7" fill="#4294ff"/><rect x="457" y="604" width="13" height="7" fill="#4391fe"/><rect x="469" y="604" width="31" height="7" fill="#448ffe"/><rect x="385" y="610" width="7" height="7" fill="#458afc"/><rect x="391" y="610" width="13" height="7" fill="#458cfd"/><rect x="403" y="610" width="7" height="7" fill="#448ffe"/><rect x="409" y="610" width="7" height="7" fill="#4294ff"/><rect x="415" y="610" width="7" height="7" fill="#4196ff"/><rect x="421" y="610" width="7" height="7" fill="#3e9bfe"/><rect x="427" y="610" width="7" height="7" fill="#3d9efe"/><rect x="433" y="610" width="13" height="7" fill="#3e9bfe"/><rect x="445" y="610" width="7" height="7" fill="#4099ff"/><rect x="451" y="610" width="13" height="7" fill="#4196ff"/><rect x="463" y="610" width="13" height="7" fill="#4294ff"/><rect x="475" y="610" width="25" height="7" fill="#4391fe"/><rect x="385" y="616" width="13" height="7" fill="#458cfd"/><rect x="397" y="616" width="7" height="7" fill="#448ffe"/><rect x="403" y="616" width="7" height="7" fill="#4391fe"/><rect x="409" y="616" width="7" height="7" fill="#4294ff"/><rect x="415" y="616" width="7" height="7" fill="#4099ff"/><rect x="421" y="616" width="7" height="7" fill="#3d9efe"/><rect x="427" y="616" width="7" height="7" fill="#3ba0fd"/><rect x="433" y="616" width="13" height="7" fill="#3d9efe"/><rect x="445" y="616" width="7" height="7" fill="#3e9bfe"/><rect x="451" y="616" width="13" height="7" fill="#4099ff"/><rect x="463" y="616" width="19" height="7" fill="#4196ff"/><rect x="481" y="616" width="19" height="7" fill="#4294ff"/><rect x="385" y="622" width="7" height="7" fill="#448ffe"/><rect x="391" y="622" width="13" height="7" fill="#4391fe"/><rect x="403" y="622" width="7" height="7" fill="#4294ff"/><rect x="409" y="622" width="7" height="7" fill="#4099ff"/><rect x="415" y="622" width="7" height="7" fill="#3e9bfe"/><rect x="421" y="622" width="7" height="7" fill="#3d9efe"/><rect x="427" y="622" width="19" height="7" fill="#3ba0fd"/><rect x="445" y="622" width="13" height="7" fill="#3d9efe"/><rect x="457" y="622" width="13" height="7" fill="#3e9bfe"/><rect x="469" y="622" width="25" height="7" fill="#4099ff"/><rect x="493" y="622" width="7" height="7" fill="#4196ff"/><rect x="385" y="628" width="7" height="7" fill="#4391fe"/><rect x="391" y="628" width="13" height="7" fill="#4294ff"/><rect x="403" y="628" width="7" height="7" fill="#4196ff"/><rect x="409" y="628" width="7" height="7" fill="#3e9bfe"/><rect x="415" y="628" width="7" height="7" fill="#3d9efe"/><rect x="421" y="628" width="13" height="7" fill="#3ba0fd"/><rect x="433" y="628" width="13" height="7" fill="#3aa3fc"/><rect x="445" y="628" width="13" height="7" fill="#3ba0fd"/><rect x="457" y="628" width="19" height="7" fill="#3d9efe"/><rect x="475" y="628" width="25" height="7" fill="#3e9bfe"/></g></g>
<g clip-path="url(#wSu)"><g filter="url(#fwSu)"><rect x="240" y="132" width="6" height="6" fill="#458afc"/><rect x="245" y="132" width="6" height="6" fill="#458cfd"/><rect x="250" y="132" width="11" height="6" fill="#448ffe"/><rect x="260" y="132" width="16" height="6" fill="#4391fe"/><rect x="275" y="132" width="6" height="6" fill="#448ffe"/><rect x="280" y="132" width="6" height="6" fill="#458cfd"/><rect x="285" y="132" width="21" height="6" fill="#4687fb"/><rect x="240" y="137" width="6" height="6" fill="#458cfd"/><rect x="245" y="137" width="6" height="6" fill="#448ffe"/><rect x="250" y="137" width="6" height="6" fill="#4391fe"/><rect x="255" y="137" width="6" height="6" fill="#4294ff"/><rect x="260" y="137" width="6" height="6" fill="#4196ff"/><rect x="265" y="137" width="6" height="6" fill="#4099ff"/><rect x="270" y="137" width="6" height="6" fill="#3e9bfe"/><rect x="275" y="137" width="6" height="6" fill="#4099ff"/><rect x="280" y="137" width="6" height="6" fill="#4294ff"/><rect x="285" y="137" width="6" height="6" fill="#448ffe"/><rect x="290" y="137" width="6" height="6" fill="#458afc"/><rect x="295" y="137" width="11" height="6" fill="#4687fb"/><rect x="240" y="142" width="6" height="6" fill="#448ffe"/><rect x="245" y="142" width="6" height="6" fill="#4391fe"/><rect x="250" y="142" width="6" height="6" fill="#4196ff"/><rect x="255" y="142" width="6" height="6" fill="#4099ff"/><rect x="260" y="142" width="6" height="6" fill="#3d9efe"/><rect x="265" y="142" width="6" height="6" fill="#3ba0fd"/><rect x="270" y="142" width="6" height="6" fill="#38a5fb"/><rect x="275" y="142" width="6" height="6" fill="#3aa3fc"/><rect x="280" y="142" width="6" height="6" fill="#3d9efe"/><rect x="285" y="142" width="6" height="6" fill="#4196ff"/><rect x="290" y="142" width="6" height="6" fill="#4391fe"/><rect x="295" y="142" width="6" height="6" fill="#458cfd"/><rect x="300" y="142" width="6" height="6" fill="#458afc"/><rect x="240" y="147" width="6" height="6" fill="#4391fe"/><rect x="245" y="147" width="6" height="6" fill="#4294ff"/><rect x="250" y="147" width="6" height="6" fill="#4196ff"/><rect x="255" y="147" width="6" height="6" fill="#3e9bfe"/><rect x="260" y="147" width="6" height="6" fill="#3aa3fc"/><rect x="265" y="147" width="6" height="6" fill="#37a8fa"/><rect x="270" y="147" width="11" height="6" fill="#31aff5"/><rect x="280" y="147" width="6" height="6" fill="#37a8fa"/><rect x="285" y="147" width="6" height="6" fill="#3ba0fd"/><rect x="290" y="147" width="6" height="6" fill="#4099ff"/><rect x="295" y="147" width="6" height="6" fill="#4294ff"/><rect x="300" y="147" width="6" height="6" fill="#448ffe"/><rect x="240" y="152" width="6" height="6" fill="#4391fe"/><rect x="245" y="152" width="6" height="6" fill="#4294ff"/><rect x="250" y="152" width="6" height="6" fill="#4099ff"/><rect x="255" y="152" width="6" height="6" fill="#3e9bfe"/><rect x="260" y="152" width="6" height="6" fill="#3aa3fc"/><rect x="265" y="152" width="6" height="6" fill="#33adf7"/><rect x="270" y="152" width="6" height="6" fill="#2cb7f0"/><rect x="275" y="152" width="6" height="6" fill="#2ab9ee"/><rect x="280" y="152" width="6" height="6" fill="#2eb4f2"/><rect x="285" y="152" width="6" height="6" fill="#35abf8"/><rect x="290" y="152" width="6" height="6" fill="#3ba0fd"/><rect x="295" y="152" width="6" height="6" fill="#3e9bfe"/><rect x="300" y="152" width="6" height="6" fill="#4196ff"/><rect x="240" y="157" width="6" height="6" fill="#4391fe"/><rect x="245" y="157" width="6" height="6" fill="#4294ff"/><rect x="250" y="157" width="6" height="6" fill="#4196ff"/><rect x="255" y="157" width="6" height="6" fill="#3e9bfe"/><rect x="260" y="157" width="6" height="6" fill="#3aa3fc"/><rect x="265" y="157" width="6" height="6" fill="#33adf7"/><rect x="270" y="157" width="6" height="6" fill="#2ab9ee"/><rect x="275" y="157" width="6" height="6" fill="#28bceb"/><rect x="280" y="157" width="6" height="6" fill="#2ab9ee"/><rect x="285" y="157" width="6" height="6" fill="#2fb2f4"/><rect x="290" y="157" width="6" height="6" fill="#37a8fa"/><rect x="295" y="157" width="6" height="6" fill="#3ba0fd"/><rect x="300" y="157" width="6" height="6" fill="#3e9bfe"/><rect x="240" y="162" width="6" height="6" fill="#4391fe"/><rect x="245" y="162" width="6" height="6" fill="#4294ff"/><rect x="250" y="162" width="6" height="6" fill="#4196ff"/><rect x="255" y="162" width="6" height="6" fill="#3e9bfe"/><rect x="260" y="162" width="6" height="6" fill="#3ba0fd"/><rect x="265" y="162" width="6" height="6" fill="#33adf7"/><rect x="270" y="162" width="6" height="6" fill="#2cb7f0"/><rect x="275" y="162" width="11" height="6" fill="#28bceb"/><rect x="285" y="162" width="6" height="6" fill="#2eb4f2"/><rect x="290" y="162" width="6" height="6" fill="#31aff5"/><rect x="295" y="162" width="6" height="6" fill="#37a8fa"/><rect x="300" y="162" width="6" height="6" fill="#3aa3fc"/><rect x="240" y="167" width="6" height="6" fill="#4294ff"/><rect x="245" y="167" width="6" height="6" fill="#4196ff"/><rect x="250" y="167" width="6" height="6" fill="#4099ff"/><rect x="255" y="167" width="6" height="6" fill="#3e9bfe"/><rect x="260" y="167" width="6" height="6" fill="#3aa3fc"/><rect x="265" y="167" width="6" height="6" fill="#35abf8"/><rect x="270" y="167" width="6" height="6" fill="#2eb4f2"/><rect x="275" y="167" width="11" height="6" fill="#2ab9ee"/><rect x="285" y="167" width="6" height="6" fill="#2cb7f0"/><rect x="290" y="167" width="6" height="6" fill="#2fb2f4"/><rect x="295" y="167" width="6" height="6" fill="#33adf7"/><rect x="300" y="167" width="6" height="6" fill="#37a8fa"/></g></g>
<g clip-path="url(#wHu)"><g filter="url(#fwHu)"><rect x="308" y="170" width="6" height="6" fill="#4294ff"/><rect x="313" y="170" width="6" height="6" fill="#4099ff"/><rect x="318" y="170" width="6" height="6" fill="#3d9efe"/><rect x="323" y="170" width="6" height="6" fill="#3aa3fc"/><rect x="328" y="170" width="6" height="6" fill="#37a8fa"/><rect x="333" y="170" width="11" height="6" fill="#35abf8"/><rect x="343" y="170" width="6" height="6" fill="#38a5fb"/><rect x="348" y="170" width="6" height="6" fill="#3ba0fd"/><rect x="353" y="170" width="6" height="6" fill="#4196ff"/><rect x="358" y="170" width="6" height="6" fill="#448ffe"/><rect x="363" y="170" width="6" height="6" fill="#458afc"/><rect x="308" y="175" width="6" height="6" fill="#4294ff"/><rect x="313" y="175" width="6" height="6" fill="#4099ff"/><rect x="318" y="175" width="6" height="6" fill="#3ba0fd"/><rect x="323" y="175" width="6" height="6" fill="#37a8fa"/><rect x="328" y="175" width="6" height="6" fill="#31aff5"/><rect x="333" y="175" width="11" height="6" fill="#2fb2f4"/><rect x="343" y="175" width="6" height="6" fill="#35abf8"/><rect x="348" y="175" width="6" height="6" fill="#3aa3fc"/><rect x="353" y="175" width="6" height="6" fill="#4099ff"/><rect x="358" y="175" width="6" height="6" fill="#448ffe"/><rect x="363" y="175" width="6" height="6" fill="#4687fb"/><rect x="308" y="180" width="6" height="6" fill="#4391fe"/><rect x="313" y="180" width="6" height="6" fill="#4099ff"/><rect x="318" y="180" width="6" height="6" fill="#3aa3fc"/><rect x="323" y="180" width="6" height="6" fill="#33adf7"/><rect x="328" y="180" width="6" height="6" fill="#2cb7f0"/><rect x="333" y="180" width="6" height="6" fill="#28bceb"/><rect x="338" y="180" width="6" height="6" fill="#2ab9ee"/><rect x="343" y="180" width="6" height="6" fill="#31aff5"/><rect x="348" y="180" width="6" height="6" fill="#38a5fb"/><rect x="353" y="180" width="6" height="6" fill="#4099ff"/><rect x="358" y="180" width="6" height="6" fill="#448ffe"/><rect x="363" y="180" width="6" height="6" fill="#4687fb"/><rect x="308" y="185" width="6" height="6" fill="#4391fe"/><rect x="313" y="185" width="6" height="6" fill="#4099ff"/><rect x="318" y="185" width="6" height="6" fill="#3aa3fc"/><rect x="323" y="185" width="6" height="6" fill="#31aff5"/><rect x="328" y="185" width="6" height="6" fill="#27bee9"/><rect x="333" y="185" width="6" height="6" fill="#20c7df"/><rect x="338" y="185" width="6" height="6" fill="#25c0e7"/><rect x="343" y="185" width="6" height="6" fill="#2eb4f2"/><rect x="348" y="185" width="6" height="6" fill="#38a5fb"/><rect x="353" y="185" width="6" height="6" fill="#4099ff"/><rect x="358" y="185" width="6" height="6" fill="#448ffe"/><rect x="363" y="185" width="6" height="6" fill="#4687fb"/><rect x="308" y="190" width="6" height="6" fill="#458cfd"/><rect x="313" y="190" width="6" height="6" fill="#4196ff"/><rect x="318" y="190" width="6" height="6" fill="#3ba0fd"/><rect x="323" y="190" width="6" height="6" fill="#31aff5"/><rect x="328" y="190" width="6" height="6" fill="#27bee9"/><rect x="333" y="190" width="6" height="6" fill="#20c7df"/><rect x="338" y="190" width="6" height="6" fill="#23c3e4"/><rect x="343" y="190" width="6" height="6" fill="#2cb7f0"/><rect x="348" y="190" width="6" height="6" fill="#37a8fa"/><rect x="353" y="190" width="6" height="6" fill="#3e9bfe"/><rect x="358" y="190" width="6" height="6" fill="#4391fe"/><rect x="363" y="190" width="6" height="6" fill="#458afc"/><rect x="308" y="195" width="6" height="6" fill="#458afc"/><rect x="313" y="195" width="6" height="6" fill="#4391fe"/><rect x="318" y="195" width="6" height="6" fill="#3e9bfe"/><rect x="323" y="195" width="6" height="6" fill="#37a8fa"/><rect x="328" y="195" width="6" height="6" fill="#2eb4f2"/><rect x="333" y="195" width="11" height="6" fill="#27bee9"/><rect x="343" y="195" width="6" height="6" fill="#2eb4f2"/><rect x="348" y="195" width="6" height="6" fill="#37a8fa"/><rect x="353" y="195" width="6" height="6" fill="#3e9bfe"/><rect x="358" y="195" width="6" height="6" fill="#4391fe"/><rect x="363" y="195" width="6" height="6" fill="#458afc"/><rect x="308" y="200" width="6" height="6" fill="#4687fb"/><rect x="313" y="200" width="6" height="6" fill="#458afc"/><rect x="318" y="200" width="6" height="6" fill="#4391fe"/><rect x="323" y="200" width="6" height="6" fill="#3e9bfe"/><rect x="328" y="200" width="6" height="6" fill="#37a8fa"/><rect x="333" y="200" width="11" height="6" fill="#2fb2f4"/><rect x="343" y="200" width="6" height="6" fill="#33adf7"/><rect x="348" y="200" width="6" height="6" fill="#38a5fb"/><rect x="353" y="200" width="6" height="6" fill="#3e9bfe"/><rect x="358" y="200" width="6" height="6" fill="#4391fe"/><rect x="363" y="200" width="6" height="6" fill="#458afc"/><rect x="308" y="205" width="11" height="6" fill="#4687fb"/><rect x="318" y="205" width="6" height="6" fill="#458cfd"/><rect x="323" y="205" width="6" height="6" fill="#4294ff"/><rect x="328" y="205" width="6" height="6" fill="#3e9bfe"/><rect x="333" y="205" width="6" height="6" fill="#3aa3fc"/><rect x="338" y="205" width="6" height="6" fill="#38a5fb"/><rect x="343" y="205" width="6" height="6" fill="#3aa3fc"/><rect x="348" y="205" width="6" height="6" fill="#3d9efe"/><rect x="353" y="205" width="6" height="6" fill="#4196ff"/><rect x="358" y="205" width="6" height="6" fill="#448ffe"/><rect x="363" y="205" width="6" height="6" fill="#4687fb"/><rect x="308" y="210" width="16" height="6" fill="#4687fb"/><rect x="323" y="210" width="6" height="6" fill="#458afc"/><rect x="328" y="210" width="6" height="6" fill="#4391fe"/><rect x="333" y="210" width="6" height="6" fill="#4196ff"/><rect x="338" y="210" width="11" height="6" fill="#4099ff"/><rect x="348" y="210" width="6" height="6" fill="#4196ff"/><rect x="353" y="210" width="6" height="6" fill="#4391fe"/><rect x="358" y="210" width="6" height="6" fill="#458afc"/><rect x="363" y="210" width="6" height="6" fill="#4687fb"/></g></g>
<g clip-path="url(#wEs)"><path d="M540.3 122.9 L549.1 122.9 L549.1 126.2 L540.3 126.2Z" fill="#458cfd" fill-rule="evenodd"/></g>
<g clip-path="url(#wDa)"><path d="M556.1 207.1 L565.1 207.1 L565.1 210.9 L556.1 210.9Z" fill="#448ffe" fill-rule="evenodd"/></g>
<g clip-path="url(#wm0)"><path d="M282.1 175.1 L288.7 175.1 L288.7 184.8 L284.8 184.8 L284.8 187.9 L281.7 187.9 L281.7 194.8 L273.2 194.8 L273.2 191.0 L269.0 191.0 L269.0 181.7 L276.3 181.7 L276.3 178.2 L282.1 178.2Z" fill="#3d9efe" fill-rule="evenodd"/></g>
<g clip-path="url(#wm1)"><path d="M265.9 204.1 L269.7 204.1 L269.7 201.4 L273.2 201.4 L273.2 204.1 L275.9 204.1 L275.9 219.6 L273.2 219.6 L273.2 223.9 L269.7 223.9 L269.7 219.6 L265.9 219.6Z" fill="#3d9efe" fill-rule="evenodd"/></g>
<g clip-path="url(#wo0)"><path d="M339.9 217.4 L350.0 217.3 L361.7 214.0 L363.1 214.0 L363.1 223.6 L346.7 223.6 L346.7 227.0 L339.9 227.0 L339.9 229.7 L334.5 229.7 L334.5 227.0 L331.1 224.2 L331.1 221.5 L339.9 220.2Z" fill="#4099ff" fill-rule="evenodd"/></g>
<g clip-path="url(#wo1)"><path d="M371.9 201.1 L385.6 201.1 L385.6 198.4 L388.3 198.4 L388.3 201.1 L397.8 201.1 L397.8 198.4 L400.5 198.4 L400.5 201.1 L410.8 201.1 L410.8 203.8 L403.9 203.8 L403.9 206.5 L397.8 206.5 L397.8 210.6 L372.6 210.6 L372.6 205.2Z" fill="#4099ff" fill-rule="evenodd"/></g>
<path d="M958.0 333.0 L970.0 327.0 L980.0 324.7 L987.4 318.6 L996.0 312.4 L1004.6 308.8 L1014.4 305.1 L1021.7 301.4 L1029.1 296.5 L1036.5 292.8 L1045.1 287.9 L1052.4 283.0 L1061.0 276.8 L1069.6 271.9 L1075.8 267.0 L1081.9 260.9 L1088.1 256.0 L1091.7 251.7 L1101.0 244.9 L1104.0 240.0 L1110.8 232.4 L1116.0 225.9" stroke="#fff" stroke-width="3" fill="none" stroke-linejoin="round"/><path d="M960 336 L966 332 M970 330.5 L975 328.5" stroke="#fff" stroke-width="2.6"/><rect x="1012.5" y="323.3" width="2.6" height="2.6" fill="#fff"/><rect x="1131.5" y="199.8" width="2.4" height="2.8" fill="#fff"/>
<path d="M166.1 122.1 L166.1 130.3M139.5 135.0 L140.2 145.2 L142.9 152.1 L144.9 163.0 L147.7 169.8 L147.7 174.5 L144.3 178.0 L147.0 181.3 L149.3 182.0 L149.3 205.2 L147.7 206.5 L148.4 210.6 L147.0 215.4 L151.8 221.5 L155.8 229.7 L157.9 240.6 L158.6 244.1 L162.7 249.5 L169.5 252.9 L166.7 256.3 L172.2 261.8 L173.5 263.2 L173.5 295.8 L175.6 310.8 L174.9 332.6M104.1 173.8 L147.7 173.8M104.1 212.0 L123.8 212.0 L129.3 214.7 L136.8 214.0 L147.0 216.1M147.7 205.9 L215.8 205.9M238.9 147.7 L227.3 165.7 L230.8 169.1 L255.3 173.8 L260.0 180.7 L262.8 184.7 L264.7 185.5 L269.3 180.5 L274.0 180.5 L280.6 183.2 L275.5 187.1 L271.7 193.3 L269.3 201.0 L269.0 208.0 L270.1 217.3 L268.6 226.6 L268.2 228.1M232.1 156.8 L223.9 156.8 L206.2 164.3 L202.8 165.7 L202.1 172.5 L195.3 177.2 L196.7 180.7 L196.0 190.2 L206.2 195.6 L215.8 200.4 L216.5 205.9 L217.8 212.0 L218.5 216.1 L225.3 218.8 L230.1 224.2 L228.0 229.0 L219.9 232.4 L218.5 236.5 L219.9 239.2 L217.1 243.3 L213.7 246.0 L213.0 250.9 L218.5 257.7 L223.9 263.8 L230.1 265.9 L227.4 272.7 L236.2 279.5 L238.9 283.6 L240.3 288.4 L243.0 290.4 L241.6 293.8 L238.2 295.8 L236.2 302.7 L232.8 310.8 L228.7 316.3 L223.3 323.1 L218.5 329.9 L217.1 335.3 L217.8 340.8 L217.8 347.6 L219.9 349.6 L215.8 354.4 L211.7 363.3 L211.7 366.7 L235.4 366.8 L234.9 370.7 L237.8 376.1M225.3 218.8 L270.1 218.8M158.6 242.6 L211.7 242.6 L213.7 246.0M264.3 228.1 L316.6 228.1 L320.4 225.0M264.3 228.1 L263.4 259.1 L262.8 265.9 L258.0 272.7 L256.6 278.1M299.1 228.1 L299.0 265.5M243.0 290.4 L243.0 287.7 L251.2 287.0 L252.5 284.3 L256.0 282.9 L256.6 278.8 L264.8 277.5 L270.3 278.1 L275.7 276.1 L279.8 273.4 L283.5 276.5 L286.0 273.0 L291.0 267.5 L295.0 267.0 L299.0 265.5 L301.0 262.0 L304.5 262.5 L307.5 266.0 L313.0 267.5 L318.0 268.0 L323.0 267.0 L328.0 271.0 L334.0 266.0 L337.0 261.0 L342.0 258.5 L348.0 255.0 L351.5 249.0 L353.5 243.0 L354.2 221.5M363.8 218.1 L363.8 224.9 L421.6 224.9 L424.4 229.7 L425.7 233.1 L439.4 238.5M425.7 233.1 L423.0 239.2 L423.7 243.3 L427.1 247.4M354.5 240.0 L354.5 254.5 L415.1 254.5 L416.6 253.0M416.1 254.0 L416.1 270.0 L419.6 270.0M328.0 271.0 L328.0 275.0 L332.0 280.0 L335.0 283.0 L340.0 286.5 L345.0 285.5 L350.0 284.0 L356.6 282.5 L359.0 278.5 L363.0 273.0 L366.0 269.0 L369.0 270.5 L374.0 266.0 L379.0 263.0 L382.0 257.5 L380.0 255.0M368.0 255.0 L368.0 260.5 L373.0 257.5 L379.0 255.0M383.0 256.0 L388.6 261.0 L390.0 258.5 L395.0 262.0 L399.6 265.0M335.0 283.0 L327.0 288.0 L322.0 292.0 L314.0 294.0M238.2 295.8 L256.6 295.8 L258.0 293.8 L290.0 294.2 L414.1 294.8M339.0 294.5 L338.0 297.0 L334.0 300.0 L328.0 302.0 L323.0 304.0 L315.0 307.0 L309.0 309.0 L306.0 311.5 L305.5 314.5M229.4 314.9 L320.0 314.5 L330.0 312.0 L348.0 313.0 L351.0 316.5 L365.0 317.5 L379.0 329.0M319.0 316.0 L317.5 319.0 L324.0 324.0 L328.0 329.0 L336.0 335.0 L342.0 342.0 L346.0 347.5 L348.4 353.0M256.6 314.9 L252.5 346.2 L252.5 372.0 L253.3 374.4M288.6 314.9 L290.0 321.7 L293.0 337.0 L294.7 355.0 L295.2 366.3 L298.6 370.2 L332.9 372.6 L333.9 374.6 L335.4 369.2 L341.8 370.2M262.8 367.3 L295.2 366.3M262.8 367.3 L264.3 369.7 L264.8 374.1M104.1 250.6 L162.7 250.6M104.1 288.8 L173.5 288.8M173.5 295.6 L230.8 295.6 L227.4 302.4 L236.2 302.4M104.1 320.4 L112.3 322.4 L115.0 325.1 L127.2 326.5 L131.3 329.2 L140.9 330.6 L144.9 329.2 L151.8 331.3 L165.4 328.5 L174.9 332.6 L179.7 333.3 L180.4 340.8 L217.1 340.8M180.4 340.8 L180.4 353.0 L184.4 359.9 L186.5 366.7 L185.1 372.0 L183.8 379.8 L183.5 382.0M367.2 122.8 L367.2 154.8 L369.2 158.9 L375.3 167.0 L383.5 169.8 L393.0 171.8 L399.9 175.2 L403.9 177.9 L412.1 180.7 L421.6 178.6 L429.8 177.9 L433.2 180.0 L432.5 183.4M446.2 186.1 L445.5 194.3 L446.8 202.4 L445.5 213.3 L444.1 224.9 L443.4 236.5M469.3 188.8 L462.5 199.7 L458.4 207.9 L457.1 215.4M446.8 215.4 L479.5 215.4M444.8 224.9 L481.0 224.9M465.9 224.9 L465.9 232.4M500.0 156.2 L510.9 149.4 L527.3 148.0 L531.4 147.3M631.8 748.7 L632.8 762.1 L617.5 762.1 L613.7 771.6 L609.9 776.4 L604.1 771.6 L598.4 773.5 L596.5 784.0 L588.9 780.2 L586.0 774.5 L584.1 757.3 L583.1 740.1 L575.5 736.3M632.8 762.1 L632.8 772.6 L640.4 780.2 L653.8 787.9 L664.3 794.5 L649.0 829.9M685.3 736.3 L686.3 742.0 L699.6 747.7 L707.3 757.3 L714.9 776.4 L721.6 780.2M685.4 734.3 L686.0 741.7 L697.2 746.7 L702.8 749.1 L707.1 757.8 L709.6 766.5 L711.0 775.0M797.3 780.0 L790.5 801.9 L776.8 825.0 L768.6 829.9M852.6 801.2 L843.7 810.0 L838.2 821.0 L838.9 829.9M859.4 802.5 L857.3 810.0 L861.4 821.0 L860.1 829.9M910.5 827.8 L905.1 829.9" stroke="#5c5c5c" stroke-width="1.5" fill="none" stroke-linejoin="round" stroke-linecap="round"/>
<path d="M104.1 135.0 L166.1 135.0 L166.5 130.3 L169.5 130.0 L170.8 131.6 L172.9 137.1 L176.3 139.1 L196.7 141.8 L211.7 146.3 L221.2 144.2 L238.9 147.7 L244.4 146.6 L252.5 143.9 L280.0 154.1 L292.2 160.0 L298.0 163.1 L301.9 167.7 L307.3 167.0 L310.4 171.6 L315.8 173.2 L315.8 176.3 L328.2 181.7 L333.2 204.5 L329.7 210.3 L321.2 221.9 L321.2 226.6 L327.4 228.9 L332.0 227.3 L346.0 221.1 L361.7 218.1 L374.7 214.0 L375.3 212.0 L371.9 206.5 L374.0 203.8 L401.9 203.8 L405.3 199.7 L425.7 186.1 L432.5 185.4 L471.2 184.9 L471.4 182.8 L479.6 180.1 L485.0 173.9 L487.7 168.5 L491.2 160.3 L499.3 154.2 L502.1 157.6 L509.6 156.2 L513.7 155.5 L517.8 158.9 L518.4 176.7 L525.9 183.5 L526.6 186.2M140.2 432.3 L137.3 432.7 L116.7 426.4 L111.8 417.1 L109.8 410.7 L104.9 405.8 L104.1 405.0M204.3 575.4 L203.7 569.2 L209.9 558.0 L226.0 558.0 L226.6 554.3 L214.0 543.6 L219.6 543.2 L219.6 536.2 L242.5 536.2 L242.1 560.5M242.5 536.2 L244.0 534.5 L246.5 535.5 L252.3 527.8 L254.3 527.5M253.2 563.6 L244.6 569.8 L242.1 573.5 L242.1 577.2 L237.1 580.9 L231.6 587.1M242.1 580.3 L252.0 587.1 L259.4 585.9 L261.9 589.6 L263.2 595.2M266.9 598.3 L273.1 595.8 L274.3 588.4 L281.7 585.9 L286.7 587.1 L296.6 576.0 L302.8 577.2 L320.2 571.6M288.0 621.8 L296.6 623.1 L302.8 623.1 L311.5 626.8 L312.7 625.5M325.1 642.9 L323.9 650.3 L322.6 660.2M393.2 654.5 L396.9 663.2 L390.7 665.7 L388.2 671.9M466.3 616.1 L460.0 620.0 L453.9 627.3 L450.2 637.2 L447.7 647.7 L453.9 648.3 L458.9 659.5 L458.3 669.4 L465.1 675.6 L479.9 674.3 L488.6 675.6 L497.3 686.7 L500.0 685.5 L518.6 684.8 L523.5 686.7 L518.6 697.9 L517.3 705.3 L517.2 707.6 L521.1 717.2 L523.9 722.0 L518.2 728.6 L524.9 736.3 L528.7 749.7M528.7 749.7 L537.3 756.3 L546.8 755.4 L549.7 751.6 L564.0 745.8 L565.9 741.1 L575.5 736.3 L574.5 734.4 L563.1 733.4 L561.2 719.1 L556.4 713.4 L560.2 712.4 L578.4 717.2 L581.2 714.3 L604.1 707.6 L609.9 702.9 L609.7 701.6 L609.0 697.9M620.8 658.2 L611.5 665.0 L610.3 669.3 L613.4 674.3 L612.1 676.8 L604.1 679.3 L603.5 686.7 L600.4 687.9 L609.0 697.9M609.0 697.9 L616.5 697.9 L618.3 702.8 L617.5 707.6 L623.2 715.3 L619.4 728.6 L623.2 740.1 L631.8 748.7 L638.5 746.8 L651.9 741.1 L670.0 741.1 L670.0 734.4 L682.4 733.4 L689.7 735.5 L694.1 737.4 L699.7 734.9 L702.8 738.6 L708.3 738.6 L713.3 733.0 L718.2 723.1 L725.1 712.6M654.9 688.5 L653.0 700.3 L645.0 704.0 L644.2 713.4 L652.8 722.9 L662.4 741.1M695.3 692.1 L689.7 702.0 L690.4 712.0 L695.3 718.8 L692.8 725.6 L689.7 735.5M528.7 749.7 L521.1 740.1 L516.3 743.9 L491.5 743.9 L492.4 751.6 L500.1 752.5 L499.1 757.3 L489.5 758.3 L488.6 766.8 L495.3 775.4 L497.2 782.1 L491.5 818.4 L490.5 820.3M375.2 747.4 L387.4 754.5 L390.6 755.2 L393.9 760.3 L405.5 761.6 L408.7 759.7 L421.0 766.8 L431.3 770.6 L436.5 777.7 L441.6 781.0 L450.0 794.5 L459.7 796.5 L466.8 793.2 L471.3 795.2 L479.0 794.5 L488.6 800.3 L480.0 812.7 L485.7 815.5 L490.5 820.3M421.0 766.8 L422.3 777.1 L418.4 784.8 L404.2 799.0 L388.7 804.2 L381.0 814.5 L377.7 823.5 L371.9 828.7M357.7 808.7 L354.5 813.2 L355.2 821.0 L361.6 821.0 L366.8 823.5 L371.3 828.7M490.5 820.3 L480.0 820.3M458.4 829.9 L467.4 823.5 L479.0 820.3 L490.0 819.7M1172.2 490.6 L1200.3 490.2 L1224.2 491.0 L1220.9 472.4 L1225.1 465.5 L1236.6 465.0 L1236.6 432.0 L1262.0 432.0M1200.3 489.0 L1202.8 482.3 L1207.7 477.4 L1211.9 460.8 L1229.2 446.8 L1235.8 431.1 L1239.1 430.3 L1244.1 419.6 L1254.0 417.9 L1262.0 420.4M1178.1 556.2 L1184.6 553.4 L1192.0 553.4 L1201.3 551.6 L1216.1 559.0 L1232.9 575.7 L1240.3 568.3 L1251.4 570.1 L1262.0 567.9M1232.9 575.7 L1233.8 586.9 L1241.2 596.1 L1242.1 609.1 L1251.4 607.3 L1258.8 611.9 L1262.0 611.9M1176.2 605.4 L1190.1 602.6 L1218.0 603.6 L1231.0 606.4 L1242.1 605.4M1173.4 590.2 L1192.0 586.9 L1201.3 589.6 L1209.6 588.7 L1211.5 591.5 L1205.0 594.3 L1195.7 592.4 L1186.4 596.1 L1174.4 596.1M1214.3 604.5 L1212.4 614.7 L1199.4 618.4 L1196.6 623.1M1219.9 650.0 L1229.1 638.8 L1236.6 636.1 L1246.8 636.1 L1252.3 644.4 L1255.1 657.4 L1262.0 656.5M1243.1 677.8 L1245.8 668.6 L1255.1 658.3M469.0 510.5 L467.6 520.6 L464.7 527.8 L468.3 533.6 L469.0 537.2" stroke="#141414" stroke-width="2.1" fill="none" stroke-linejoin="round" stroke-linecap="round"/>
<path d="M528.0 122.0 L521.9 128.2 L508.2 133.7 L497.3 141.9 L485.0 150.7 L475.7 162.3M485.0 160.6 L497.3 152.4 L506.8 143.2 L521.9 137.1 L535.5 132.3 L551.9 131.6 L564.8 137.8 L553.2 146.0 L551.9 147.3 L556.0 158.9 L560.1 169.8 L576.4 176.7 L598.3 176.0 L611.2 161.0 L612.6 169.8 L621.4 173.9 L603.7 182.1 L576.4 190.3 L562.8 197.1 L549.1 204.6 L540.3 204.2 L539.6 193.0 L561.4 182.8 L528.7 184.8 L525.9 187.6 L510.9 194.4 L489.1 202.6 L480.9 210.8 L479.6 217.6 L483.7 225.8 L486.5 222.5 L491.5 226.6 L489.8 229.9 L475.0 230.7 L466.7 232.8 L454.3 234.8 L444.4 236.9 L441.5 238.5 L439.5 240.6 L437.8 242.3 L434.5 243.9 L438.6 244.7 L437.0 252.2 L434.5 255.5 L427.1 263.7 L424.6 262.1 L418.8 257.1 L419.6 261.2 L423.8 265.4 L425.0 267.8 L423.8 272.0 L418.0 277.8 L413.0 286.0 L416.3 277.8 L408.5 267.8 L407.7 261.7 L406.0 266.2 L407.2 272.8 L399.4 273.2 L407.2 276.5 L408.5 287.7 L412.6 290.6 L415.1 297.4 L416.3 307.3 L412.6 311.4 L407.6 317.6 L395.2 320.5 L386.2 329.2 L379.5 330.0 L372.9 334.5 L371.3 337.8 L361.4 343.6 L354.8 347.8 L348.2 353.5 L344.5 359.0 L342.0 365.0 L341.8 367.7 L342.7 376.6 L347.6 388.3 L354.0 398.6 L354.5 406.0 L360.4 418.7 L360.4 429.5 L357.5 439.3 L352.1 442.7 L345.7 441.3 L343.7 434.9 L338.8 432.5 L332.9 423.6 L326.1 412.8 L324.1 406.5 L326.6 398.1 L323.1 391.3 L313.3 380.5 L308.4 378.0 L295.7 384.4 L290.8 381.5 L284.9 376.6 L278.0 374.1 L265.3 375.6 L252.5 374.4 L239.8 376.1 L237.8 378.0 L239.3 380.5 L239.8 386.4 L242.7 388.8 L239.8 390.8 L234.9 388.3 L230.4 390.6 L220.6 390.1 L211.8 383.2 L200.0 385.2 L190.2 381.8 L183.3 382.3 L171.6 385.7 L159.8 395.5 L148.0 400.4 L140.2 406.8 L137.3 413.1 L137.3 422.9 L140.2 432.3 L136.3 440.6 L133.3 450.4 L132.8 455.0 L131.6 469.9 L131.0 476.7 L133.5 484.1 L137.2 489.7 L139.7 498.4 L147.1 507.0 L150.8 514.5 L156.4 522.5 L169.4 526.3 L175.0 531.8 L186.7 528.1 L201.6 525.6 L214.0 521.9 L222.7 517.0 L225.2 509.5 L226.4 499.6 L228.9 494.7 L236.3 491.6 L251.2 488.2 L262.3 488.5 L270.4 487.5 L273.5 490.3 L272.9 497.1 L267.3 502.7 L264.8 507.0 L262.9 512.6 L265.4 515.1 L260.5 530.6 L257.4 528.1 L254.3 527.5 L255.5 535.5 L254.3 541.7 L254.3 549.2 L250.6 555.4 L247.5 557.9 L248.7 561.0 L253.2 562.3 L259.4 560.5 L274.3 562.3 L284.2 558.6 L296.6 559.3 L306.5 561.7 L320.2 571.0 L318.9 580.9 L315.8 589.6 L315.8 604.5 L312.7 614.4 L312.1 621.8 L318.9 631.7 L326.4 639.2 L331.0 645.0 L334.5 648.5 L339.3 649.6 L343.6 652.0 L348.6 650.8 L354.8 647.1 L362.2 644.6 L367.2 641.5 L373.4 642.8 L382.0 644.0 L389.5 648.3 L395.7 653.9 L401.9 653.9 L411.8 644.6 L416.7 643.4 L419.2 628.5 L426.7 622.9 L434.1 622.3 L436.6 619.8 L445.2 621.1 L460.1 611.8 L466.9 605.0 L473.7 607.4 L475.0 609.9 L472.5 613.6 L466.3 616.1 L464.5 618.6 L467.5 623.5 L467.5 629.7 L463.2 638.4 L467.5 648.3 L473.7 647.1 L476.2 638.4 L471.3 633.5 L471.3 624.8 L487.4 619.2 L488.0 612.4 L490.5 609.3 L494.8 616.7 L503.7 617.9 L512.4 624.7 L513.0 629.7 L524.8 629.7 L537.8 627.8 L545.8 634.0 L554.5 635.9 L562.0 631.6 L563.2 627.8 L594.2 627.2 L584.3 630.9 L588.0 637.1 L597.9 637.7 L606.6 644.6 L609.0 654.5 L616.5 655.1 L628.9 661.3 L637.5 670.6 L638.8 676.8 L643.7 678.0 L654.9 687.9 L660.0 689.0 L670.5 690.3 L671.8 688.4 L682.3 687.2 L695.9 690.9 L709.6 695.2 L723.2 705.8 L725.7 711.3 L730.6 712.0 L734.3 719.4 L740.5 740.5 L747.5 743.2 L748.2 752.1 L740.0 761.6 L742.0 766.4 L764.6 768.4 L765.2 781.4 L774.8 773.2 L791.8 777.3 L812.3 784.8 L818.4 791.6 L817.1 799.8 L831.4 795.7 L851.9 801.9 L857.3 802.5 L875.7 801.9 L894.2 812.8 L911.9 827.1 L917.4 829.9M344.2 829.9 L343.3 826.8 L344.8 822.3 L347.4 817.1 L357.7 808.7 L364.2 799.0 L361.0 794.5 L355.8 799.7 L348.7 794.5 L351.3 791.3 L350.0 786.1 L349.4 778.4 L353.9 777.1 L355.8 769.4 L359.7 761.6 L360.3 755.2 L369.4 751.3 L375.2 747.4 L373.9 744.2 L378.4 742.3 L377.7 735.8 L381.0 731.3 L387.4 730.6 L398.4 715.8 L395.2 713.2 L393.9 710.0 L395.1 705.3 L392.6 694.2 L395.7 690.5 L393.2 679.3 L388.2 671.9 L384.5 669.4 L382.0 660.7 L384.5 658.2 L380.8 657.0 L378.3 652.0 L372.1 649.6 L367.2 650.2 L364.7 654.5 L358.5 658.2 L354.8 661.3 L361.0 668.2 L356.0 670.6 L349.8 672.5 L346.1 666.9 L341.2 665.7 L337.4 660.7 L330.0 659.0 L323.9 660.2 L314.0 654.0 L314.0 649.1 L300.3 641.7 L297.8 636.7 L295.4 642.9 L286.7 634.2 L285.5 625.5 L286.7 621.8 L271.8 607.0 L263.2 598.3 L259.4 595.8 L248.3 595.2 L234.7 591.5 L227.2 587.8 L217.3 586.5 L206.2 580.9 L200.4 575.0 L195.0 569.2 L184.3 561.6 L171.3 556.6 L159.5 559.1 L148.3 564.0 L128.5 557.8 L116.1 551.0 L104.1 549.2M645.0 122.0 L639.8 131.0 L630.7 138.7 L628.1 141.3 L634.0 144.6 L626.2 148.5 L626.8 152.3 L643.7 153.6 L664.4 152.3 L677.4 155.6 L669.6 162.1 L680.0 159.5 L692.9 151.0 L692.9 162.7 L704.6 165.3 L708.5 164.0 L713.0 153.0 L707.8 138.7 L702.0 140.7 L698.8 140.0 L702.0 131.0 L690.3 127.7 L683.2 130.3 L673.5 127.1 L676.1 122.0M667.0 121.5 L661.5 125.3 L658.5 121.5M560.7 123.8 L571.1 124.5 L594.4 131.0 L594.4 133.6 L586.7 132.9 L572.4 129.7 L563.3 125.8ZM562.0 163.4 L565.9 160.8 L570.5 166.0 L578.9 167.2 L592.5 167.9 L586.7 171.1 L578.9 171.8 L565.9 167.2ZM441.5 238.6 L450.2 235.4 L463.4 235.0 L466.0 237.3 L454.3 239.8 L442.8 240.0ZM296.7 483.7 L302.3 480.1 L306.4 474.4 L318.7 468.8 L328.9 467.3 L333.0 466.5 L353.4 467.8 L364.7 471.9 L370.3 477.0 L382.1 475.5 L392.3 482.6 L405.6 492.3 L408.7 492.0 L417.9 494.4 L416.9 498.5 L426.1 499.0 L436.3 504.6 L434.8 507.7 L416.9 510.3 L407.7 508.2 L397.4 508.7 L389.8 510.3 L398.5 502.6 L392.3 499.0 L385.2 498.0 L380.0 494.4 L378.0 487.7 L370.8 487.7 L357.5 484.2 L353.4 481.6 L337.1 479.6 L333.0 477.5 L338.1 473.9 L325.8 472.9 L316.1 480.1 L310.5 480.1 L308.9 483.7 L302.8 485.2ZM382.1 530.7 L385.2 527.6 L390.3 526.6 L400.5 528.2 L408.7 531.2 L410.2 535.8 L401.5 534.8 L396.4 537.4 L388.2 534.8ZM445.9 509.8 L450.2 508.7 L466.1 509.8 L471.9 508.7 L480.6 509.8 L490.7 512.6 L492.2 517.0 L500.1 517.0 L500.8 520.6 L511.7 525.6 L507.3 530.7 L497.9 527.1 L486.4 529.3 L480.6 528.5 L476.3 530.7 L471.9 538.7 L467.6 536.5 L466.1 532.2 L457.5 530.0 L445.9 530.7 L438.7 532.9 L432.2 529.3 L432.9 524.9 L457.5 527.1 L458.9 523.5 L453.1 517.7 L451.7 513.4ZM524.7 527.8 L531.2 526.4 L544.2 527.8 L546.3 530.7 L543.4 533.6 L531.2 534.3 L525.4 534.3ZM373.7 420.2 L386.7 418.7 L388.8 419.4 L388.8 421.6 L375.1 425.2ZM389.9 417.3 L399.7 423.1 L398.2 432.5 L395.3 431.7 L394.6 423.1 L390.3 420.9ZM380.9 448.3 L383.8 441.8 L388.1 441.1 L393.2 452.0 L393.2 459.9 L388.8 460.6 L386.0 452.7ZM596.7 626.0 L606.6 624.7 L607.2 635.9 L594.2 635.9 L597.9 627.8ZM1262.5 385.7 L1255.6 390.6 L1249.8 394.0 L1239.1 403.0 L1228.4 404.4 L1220.9 409.6 L1212.7 422.9 L1204.4 427.0 L1199.5 435.2 L1198.6 442.7 L1196.2 449.3 L1191.2 451.8 L1184.6 460.0 L1180.5 469.1 L1180.5 474.1 L1175.5 480.7 L1171.4 484.0 L1170.6 494.7 L1179.6 502.1 L1180.5 510.4 L1179.6 515.4 L1181.5 525.0 L1182.7 533.0 L1180.9 544.1 L1177.1 550.6 L1178.1 558.1 L1169.7 572.0 L1163.2 575.7 L1167.9 577.6 L1173.4 588.7 L1173.4 598.0 L1176.2 609.1 L1184.6 617.5 L1195.7 623.1 L1200.4 627.7 L1204.1 636.1 L1216.1 648.1 L1219.9 651.8 L1222.6 663.9 L1231.0 671.3 L1243.1 677.8 L1251.4 685.3 L1262.5 692.5" stroke="#000" stroke-width="2.7" fill="none" stroke-linejoin="round" stroke-linecap="round"/>
<path d="M361.05 122.00V829.90M618.00 122.00V829.90M876.00 122.00V829.90M1133.00 122.00V829.90M104.10 250.90H1261.90M104.10 379.95H1261.90M104.10 507.85H1261.90M104.10 636.50H1261.90M104.10 765.00H1261.90" stroke="#333" stroke-width="1.7" stroke-dasharray="1.67 2.745" fill="none" opacity="0.4"/>
</g>
<rect x="104.1" y="122.0" width="1157.80" height="707.90" fill="none" stroke="#000" stroke-width="1.9"/>
<text x="683" y="100" font-size="33.4" text-anchor="middle" fill="#000">Pangu-ECMWF – Day 4 (10m Wind Speed)</text>
<text x="362.2" y="866" font-size="27.5" text-anchor="middle">80°W</text>
<text x="619.5" y="866" font-size="27.5" text-anchor="middle">60°W</text>
<text x="876.8" y="866" font-size="27.5" text-anchor="middle">40°W</text>
<text x="1134.1" y="866" font-size="27.5" text-anchor="middle">20°W</text>
<text x="89.5" y="258.9" font-size="27.5" text-anchor="end">40°N</text>
<text x="89.5" y="387.6" font-size="27.5" text-anchor="end">30°N</text>
<text x="89.5" y="516.3" font-size="27.5" text-anchor="end">20°N</text>
<text x="89.5" y="645.0" font-size="27.5" text-anchor="end">10°N</text>
<text x="89.5" y="773.7" font-size="27.5" text-anchor="end">0°</text>
<text x="683" y="905" font-size="25" text-anchor="middle" fill="#333">Max: 46 kt @ 50.0°N, 37.0°W • Valid 2025-12-11 00Z</text>
<path d="M1289.5 931.9V62.6H1335.0V931.9Z" fill="url(#cbg)"/>
<path d="M1289.5 64.1V62.6L1312.3 19.3L1335.0 62.6V64.1Z" fill="#7a0403"/>
<path d="M1289.5 931.9V62.6L1312.3 19.3L1335.0 62.6V931.9Z" fill="none" stroke="#000" stroke-width="1.9" stroke-linejoin="miter"/>
<path d="M1335.0 931.9H1345" stroke="#000" stroke-width="1.9"/>
<text x="1354.3" y="943.2" font-size="27.5">20</text>
<path d="M1335.0 710.3H1345" stroke="#000" stroke-width="1.9"/>
<text x="1354.3" y="721.6" font-size="27.5">40</text>
<path d="M1335.0 532.8H1345" stroke="#000" stroke-width="1.9"/>
<text x="1354.3" y="544.1" font-size="27.5">60</text>
<path d="M1335.0 368.5H1345" stroke="#000" stroke-width="1.9"/>
<text x="1354.3" y="379.8" font-size="27.5">80</text>
<path d="M1335.0 212.3H1345" stroke="#000" stroke-width="1.9"/>
<text x="1354.3" y="223.6" font-size="27.5">100</text>
<path d="M1335.0 62.6H1345" stroke="#000" stroke-width="1.9"/>
<text x="1354.3" y="73.9" font-size="27.5">120</text>
<text transform="translate(1441 499) rotate(-90)" font-size="28.2" text-anchor="middle" fill="#000">10m Wind Speed (knots)</text>
</svg>
</body></html>
